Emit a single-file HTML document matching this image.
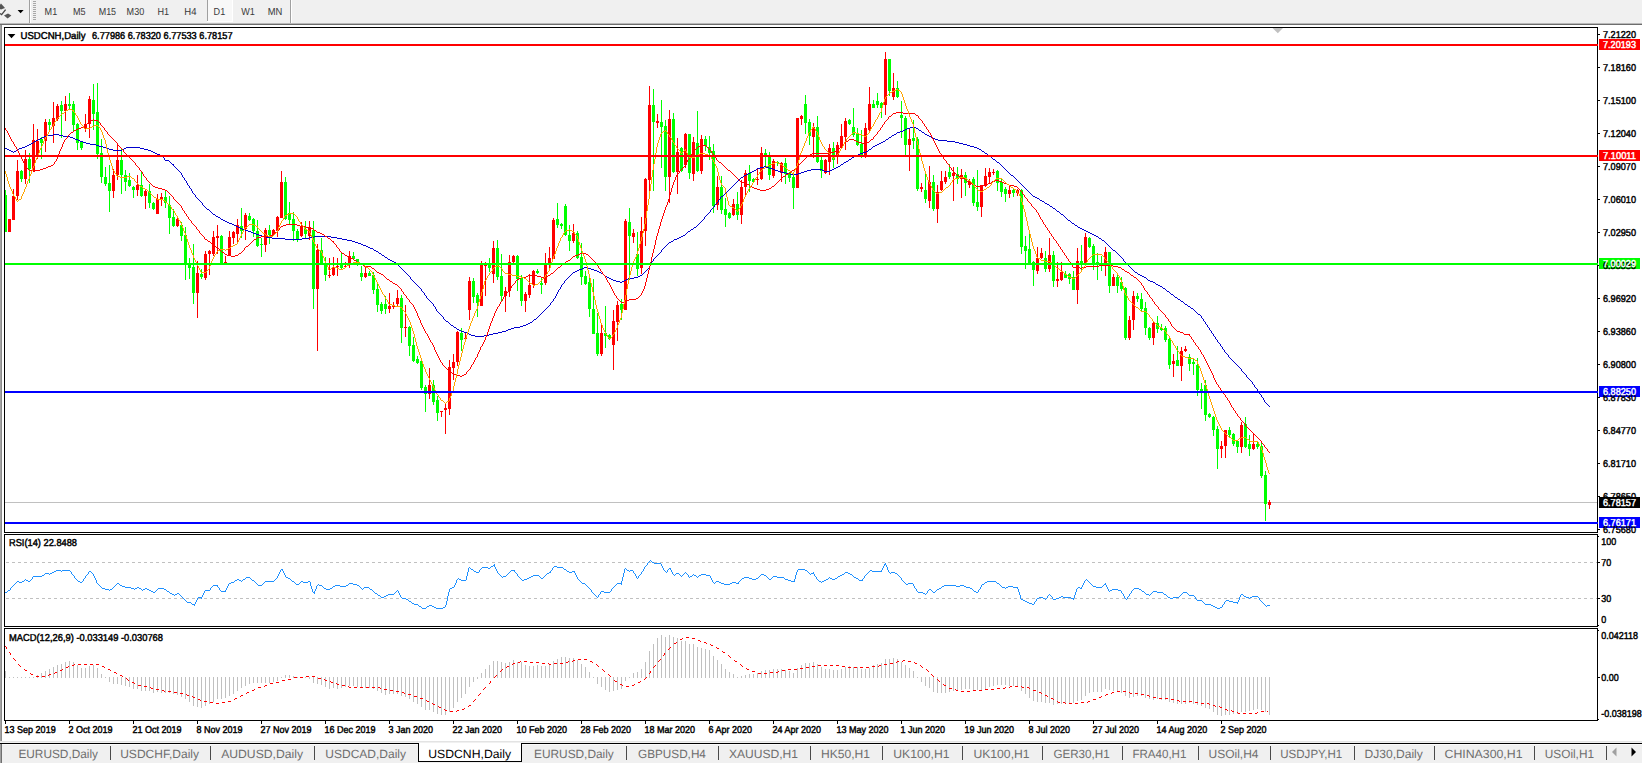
<!DOCTYPE html>
<html><head><meta charset="utf-8"><title>USDCNH,Daily</title>
<style>
html,body{margin:0;padding:0;background:#f0f0f0;overflow:hidden}
body{width:1642px;height:763px;position:relative}
svg{position:absolute;left:0;top:0;display:block}
text{font-family:"Liberation Sans", sans-serif;white-space:pre}
</style></head><body>
<svg width="1642" height="763" viewBox="0 0 1642 763" shape-rendering="crispEdges">
<rect x="0" y="0" width="1642" height="763" fill="#f0f0f0"/>
<rect x="0" y="23" width="1642" height="1" fill="#b9b9b9"/>
<rect x="0" y="24" width="1642" height="1" fill="#6d6d6d"/>
<rect x="0" y="25" width="1642" height="717" fill="#ffffff"/>
<rect x="0" y="25" width="1" height="716" fill="#a4a4a4"/>
<rect x="1" y="25" width="1" height="716" fill="#8c8c8c"/>
<rect x="0" y="741" width="1642" height="1" fill="#e3e3e3"/>
<rect x="0" y="743" width="1642" height="1" fill="#000000"/>
<g shape-rendering="geometricPrecision"><polygon points="-3,7 1,3.6 5,8 1,9.6" fill="#555"/><polygon points="4,15.4 8,13.6 11.4,15.4 7.6,18.6" fill="#555"/><polyline points="0,13.6 1.6,14.6 5.6,9.6" fill="none" stroke="#444" stroke-width="1.3"/><polygon points="17.6,10 23.6,10 20.6,13.2" fill="#000"/></g>
<rect x="29" y="0" width="1" height="23" fill="#a0a0a0"/>
<rect x="30" y="0" width="1" height="23" fill="#ffffff"/>
<rect x="33" y="1" width="3" height="1" fill="#a8a8a8"/>
<rect x="33" y="3" width="3" height="1" fill="#a8a8a8"/>
<rect x="33" y="5" width="3" height="1" fill="#a8a8a8"/>
<rect x="33" y="7" width="3" height="1" fill="#a8a8a8"/>
<rect x="33" y="9" width="3" height="1" fill="#a8a8a8"/>
<rect x="33" y="11" width="3" height="1" fill="#a8a8a8"/>
<rect x="33" y="13" width="3" height="1" fill="#a8a8a8"/>
<rect x="33" y="15" width="3" height="1" fill="#a8a8a8"/>
<rect x="33" y="17" width="3" height="1" fill="#a8a8a8"/>
<rect x="33" y="19" width="3" height="1" fill="#a8a8a8"/>
<rect x="207" y="0" width="1" height="21" fill="#a0a0a0"/>
<rect x="208" y="0" width="24" height="21" fill="#f8f8f8"/>
<rect x="207" y="21" width="26" height="1" fill="#ffffff"/>
<rect x="232" y="0" width="1" height="22" fill="#ffffff"/>
<rect x="290" y="0" width="1" height="23" fill="#a0a0a0"/>
<rect x="291" y="0" width="1" height="23" fill="#ffffff"/>
<rect x="5" y="502" width="1592" height="1" fill="#c0c0c0"/>
<rect x="5" y="190" width="1" height="42" fill="#00ff00"/>
<rect x="5" y="195" width="2" height="37" fill="#00ff00"/>
<rect x="9" y="219" width="1" height="13" fill="#ff0000"/>
<rect x="8" y="219" width="3" height="13" fill="#ff0000"/>
<rect x="13" y="189" width="1" height="31" fill="#ff0000"/>
<rect x="12" y="196" width="3" height="24" fill="#ff0000"/>
<rect x="17" y="160" width="1" height="40" fill="#ff0000"/>
<rect x="16" y="171" width="3" height="25" fill="#ff0000"/>
<rect x="21" y="170" width="1" height="12" fill="#00ff00"/>
<rect x="20" y="171" width="3" height="8" fill="#00ff00"/>
<rect x="25" y="150" width="1" height="34" fill="#ff0000"/>
<rect x="24" y="159" width="3" height="20" fill="#ff0000"/>
<rect x="29" y="153" width="1" height="30" fill="#00ff00"/>
<rect x="28" y="159" width="3" height="10" fill="#00ff00"/>
<rect x="33" y="124" width="1" height="47" fill="#ff0000"/>
<rect x="32" y="140" width="3" height="31" fill="#ff0000"/>
<rect x="37" y="129" width="1" height="30" fill="#ff0000"/>
<rect x="36" y="141" width="3" height="16" fill="#ff0000"/>
<rect x="41" y="137" width="1" height="22" fill="#00ff00"/>
<rect x="40" y="139" width="3" height="4" fill="#00ff00"/>
<rect x="45" y="119" width="1" height="33" fill="#ff0000"/>
<rect x="44" y="122" width="3" height="19" fill="#ff0000"/>
<rect x="49" y="119" width="1" height="13" fill="#00ff00"/>
<rect x="48" y="122" width="3" height="3" fill="#00ff00"/>
<rect x="53" y="102" width="1" height="41" fill="#ff0000"/>
<rect x="52" y="118" width="3" height="8" fill="#ff0000"/>
<rect x="57" y="104" width="1" height="17" fill="#ff0000"/>
<rect x="56" y="106" width="3" height="13" fill="#ff0000"/>
<rect x="61" y="101" width="1" height="37" fill="#00ff00"/>
<rect x="60" y="105" width="3" height="6" fill="#00ff00"/>
<rect x="65" y="96" width="1" height="25" fill="#ff0000"/>
<rect x="64" y="104" width="3" height="7" fill="#ff0000"/>
<rect x="69" y="93" width="1" height="16" fill="#00ff00"/>
<rect x="68" y="104" width="3" height="2" fill="#00ff00"/>
<rect x="73" y="101" width="1" height="30" fill="#00ff00"/>
<rect x="72" y="104" width="3" height="21" fill="#00ff00"/>
<rect x="77" y="123" width="1" height="27" fill="#00ff00"/>
<rect x="76" y="124" width="3" height="19" fill="#00ff00"/>
<rect x="81" y="141" width="1" height="9" fill="#00ff00"/>
<rect x="80" y="142" width="3" height="6" fill="#00ff00"/>
<rect x="85" y="114" width="1" height="18" fill="#ff0000"/>
<rect x="84" y="124" width="3" height="4" fill="#ff0000"/>
<rect x="89" y="96" width="1" height="42" fill="#ff0000"/>
<rect x="88" y="99" width="3" height="25" fill="#ff0000"/>
<rect x="93" y="84" width="1" height="46" fill="#00ff00"/>
<rect x="92" y="100" width="3" height="14" fill="#00ff00"/>
<rect x="97" y="83" width="1" height="76" fill="#00ff00"/>
<rect x="96" y="112" width="3" height="42" fill="#00ff00"/>
<rect x="101" y="139" width="1" height="44" fill="#00ff00"/>
<rect x="100" y="153" width="3" height="24" fill="#00ff00"/>
<rect x="105" y="167" width="1" height="19" fill="#00ff00"/>
<rect x="104" y="177" width="3" height="7" fill="#00ff00"/>
<rect x="109" y="165" width="1" height="47" fill="#00ff00"/>
<rect x="108" y="183" width="3" height="8" fill="#00ff00"/>
<rect x="113" y="169" width="1" height="29" fill="#ff0000"/>
<rect x="112" y="175" width="3" height="16" fill="#ff0000"/>
<rect x="117" y="144" width="1" height="36" fill="#ff0000"/>
<rect x="116" y="160" width="3" height="15" fill="#ff0000"/>
<rect x="121" y="149" width="1" height="45" fill="#00ff00"/>
<rect x="120" y="160" width="3" height="15" fill="#00ff00"/>
<rect x="125" y="170" width="1" height="21" fill="#00ff00"/>
<rect x="124" y="175" width="3" height="7" fill="#00ff00"/>
<rect x="129" y="173" width="1" height="14" fill="#00ff00"/>
<rect x="128" y="180" width="3" height="6" fill="#00ff00"/>
<rect x="133" y="186" width="1" height="12" fill="#00ff00"/>
<rect x="132" y="187" width="3" height="3" fill="#00ff00"/>
<rect x="137" y="175" width="1" height="21" fill="#ff0000"/>
<rect x="136" y="185" width="3" height="5" fill="#ff0000"/>
<rect x="141" y="172" width="1" height="25" fill="#00ff00"/>
<rect x="140" y="185" width="3" height="11" fill="#00ff00"/>
<rect x="145" y="189" width="1" height="20" fill="#ff0000"/>
<rect x="144" y="191" width="3" height="5" fill="#ff0000"/>
<rect x="149" y="184" width="1" height="24" fill="#00ff00"/>
<rect x="148" y="191" width="3" height="12" fill="#00ff00"/>
<rect x="153" y="202" width="1" height="8" fill="#00ff00"/>
<rect x="152" y="203" width="3" height="6" fill="#00ff00"/>
<rect x="157" y="194" width="1" height="20" fill="#ff0000"/>
<rect x="156" y="199" width="3" height="15" fill="#ff0000"/>
<rect x="161" y="193" width="1" height="13" fill="#ff0000"/>
<rect x="160" y="197" width="3" height="2" fill="#ff0000"/>
<rect x="165" y="190" width="1" height="18" fill="#00ff00"/>
<rect x="164" y="197" width="3" height="6" fill="#00ff00"/>
<rect x="169" y="196" width="1" height="38" fill="#00ff00"/>
<rect x="168" y="205" width="3" height="13" fill="#00ff00"/>
<rect x="173" y="209" width="1" height="18" fill="#00ff00"/>
<rect x="172" y="217" width="3" height="9" fill="#00ff00"/>
<rect x="177" y="217" width="1" height="10" fill="#ff0000"/>
<rect x="176" y="219" width="3" height="7" fill="#ff0000"/>
<rect x="181" y="222" width="1" height="19" fill="#00ff00"/>
<rect x="180" y="225" width="3" height="11" fill="#00ff00"/>
<rect x="185" y="227" width="1" height="53" fill="#00ff00"/>
<rect x="184" y="235" width="3" height="29" fill="#00ff00"/>
<rect x="189" y="258" width="1" height="21" fill="#00ff00"/>
<rect x="188" y="264" width="3" height="4" fill="#00ff00"/>
<rect x="193" y="244" width="1" height="60" fill="#00ff00"/>
<rect x="192" y="267" width="3" height="26" fill="#00ff00"/>
<rect x="197" y="261" width="1" height="57" fill="#ff0000"/>
<rect x="196" y="273" width="3" height="20" fill="#ff0000"/>
<rect x="201" y="269" width="1" height="10" fill="#00ff00"/>
<rect x="200" y="274" width="3" height="3" fill="#00ff00"/>
<rect x="205" y="251" width="1" height="29" fill="#ff0000"/>
<rect x="204" y="254" width="3" height="24" fill="#ff0000"/>
<rect x="209" y="250" width="1" height="25" fill="#ff0000"/>
<rect x="208" y="251" width="3" height="3" fill="#ff0000"/>
<rect x="213" y="231" width="1" height="25" fill="#ff0000"/>
<rect x="212" y="237" width="3" height="17" fill="#ff0000"/>
<rect x="217" y="225" width="1" height="29" fill="#ff0000"/>
<rect x="216" y="236" width="3" height="2" fill="#ff0000"/>
<rect x="221" y="235" width="1" height="29" fill="#00ff00"/>
<rect x="220" y="236" width="3" height="28" fill="#00ff00"/>
<rect x="225" y="256" width="1" height="8" fill="#ff0000"/>
<rect x="224" y="262" width="3" height="2" fill="#ff0000"/>
<rect x="229" y="231" width="1" height="25" fill="#ff0000"/>
<rect x="228" y="237" width="3" height="18" fill="#ff0000"/>
<rect x="233" y="231" width="1" height="13" fill="#ff0000"/>
<rect x="232" y="232" width="3" height="6" fill="#ff0000"/>
<rect x="237" y="219" width="1" height="25" fill="#ff0000"/>
<rect x="236" y="225" width="3" height="9" fill="#ff0000"/>
<rect x="241" y="208" width="1" height="30" fill="#00ff00"/>
<rect x="240" y="226" width="3" height="5" fill="#00ff00"/>
<rect x="245" y="213" width="1" height="27" fill="#ff0000"/>
<rect x="244" y="215" width="3" height="14" fill="#ff0000"/>
<rect x="249" y="213" width="1" height="8" fill="#00ff00"/>
<rect x="248" y="216" width="3" height="4" fill="#00ff00"/>
<rect x="253" y="218" width="1" height="19" fill="#00ff00"/>
<rect x="252" y="219" width="3" height="12" fill="#00ff00"/>
<rect x="257" y="220" width="1" height="27" fill="#00ff00"/>
<rect x="256" y="231" width="3" height="15" fill="#00ff00"/>
<rect x="261" y="238" width="1" height="19" fill="#00ff00"/>
<rect x="260" y="244" width="3" height="1" fill="#00ff00"/>
<rect x="265" y="228" width="1" height="24" fill="#ff0000"/>
<rect x="264" y="230" width="3" height="15" fill="#ff0000"/>
<rect x="269" y="225" width="1" height="19" fill="#00ff00"/>
<rect x="268" y="230" width="3" height="5" fill="#00ff00"/>
<rect x="273" y="229" width="1" height="7" fill="#ff0000"/>
<rect x="272" y="230" width="3" height="5" fill="#ff0000"/>
<rect x="277" y="216" width="1" height="21" fill="#ff0000"/>
<rect x="276" y="217" width="3" height="14" fill="#ff0000"/>
<rect x="281" y="171" width="1" height="47" fill="#ff0000"/>
<rect x="280" y="182" width="3" height="36" fill="#ff0000"/>
<rect x="285" y="177" width="1" height="43" fill="#00ff00"/>
<rect x="284" y="182" width="3" height="37" fill="#00ff00"/>
<rect x="289" y="202" width="1" height="23" fill="#00ff00"/>
<rect x="288" y="213" width="3" height="7" fill="#00ff00"/>
<rect x="293" y="212" width="1" height="29" fill="#00ff00"/>
<rect x="292" y="219" width="3" height="12" fill="#00ff00"/>
<rect x="297" y="229" width="1" height="13" fill="#00ff00"/>
<rect x="296" y="231" width="3" height="8" fill="#00ff00"/>
<rect x="301" y="222" width="1" height="15" fill="#ff0000"/>
<rect x="300" y="227" width="3" height="9" fill="#ff0000"/>
<rect x="305" y="221" width="1" height="17" fill="#00ff00"/>
<rect x="304" y="229" width="3" height="5" fill="#00ff00"/>
<rect x="309" y="221" width="1" height="19" fill="#ff0000"/>
<rect x="308" y="228" width="3" height="8" fill="#ff0000"/>
<rect x="313" y="221" width="1" height="88" fill="#00ff00"/>
<rect x="312" y="230" width="3" height="59" fill="#00ff00"/>
<rect x="317" y="244" width="1" height="107" fill="#ff0000"/>
<rect x="316" y="250" width="3" height="39" fill="#ff0000"/>
<rect x="321" y="238" width="1" height="26" fill="#00ff00"/>
<rect x="320" y="250" width="3" height="14" fill="#00ff00"/>
<rect x="325" y="257" width="1" height="24" fill="#00ff00"/>
<rect x="324" y="264" width="3" height="11" fill="#00ff00"/>
<rect x="329" y="258" width="1" height="20" fill="#ff0000"/>
<rect x="328" y="275" width="3" height="1" fill="#ff0000"/>
<rect x="333" y="257" width="1" height="19" fill="#ff0000"/>
<rect x="332" y="267" width="3" height="8" fill="#ff0000"/>
<rect x="337" y="258" width="1" height="18" fill="#ff0000"/>
<rect x="336" y="266" width="3" height="1" fill="#ff0000"/>
<rect x="341" y="253" width="1" height="16" fill="#00ff00"/>
<rect x="340" y="265" width="3" height="3" fill="#00ff00"/>
<rect x="345" y="262" width="1" height="6" fill="#ff0000"/>
<rect x="344" y="266" width="3" height="1" fill="#ff0000"/>
<rect x="349" y="251" width="1" height="17" fill="#ff0000"/>
<rect x="348" y="256" width="3" height="8" fill="#ff0000"/>
<rect x="353" y="252" width="1" height="8" fill="#00ff00"/>
<rect x="352" y="256" width="3" height="3" fill="#00ff00"/>
<rect x="357" y="259" width="1" height="7" fill="#00ff00"/>
<rect x="356" y="259" width="3" height="4" fill="#00ff00"/>
<rect x="361" y="266" width="1" height="15" fill="#00ff00"/>
<rect x="360" y="273" width="3" height="4" fill="#00ff00"/>
<rect x="365" y="266" width="1" height="12" fill="#ff0000"/>
<rect x="364" y="273" width="3" height="4" fill="#ff0000"/>
<rect x="369" y="271" width="1" height="5" fill="#00ff00"/>
<rect x="368" y="273" width="3" height="3" fill="#00ff00"/>
<rect x="373" y="272" width="1" height="22" fill="#00ff00"/>
<rect x="372" y="275" width="3" height="15" fill="#00ff00"/>
<rect x="377" y="282" width="1" height="30" fill="#00ff00"/>
<rect x="376" y="289" width="3" height="16" fill="#00ff00"/>
<rect x="381" y="302" width="1" height="12" fill="#00ff00"/>
<rect x="380" y="304" width="3" height="7" fill="#00ff00"/>
<rect x="385" y="296" width="1" height="18" fill="#00ff00"/>
<rect x="384" y="304" width="3" height="5" fill="#00ff00"/>
<rect x="389" y="293" width="1" height="20" fill="#ff0000"/>
<rect x="388" y="306" width="3" height="3" fill="#ff0000"/>
<rect x="393" y="302" width="1" height="7" fill="#ff0000"/>
<rect x="392" y="305" width="3" height="2" fill="#ff0000"/>
<rect x="397" y="290" width="1" height="16" fill="#ff0000"/>
<rect x="396" y="298" width="3" height="6" fill="#ff0000"/>
<rect x="401" y="295" width="1" height="48" fill="#00ff00"/>
<rect x="400" y="298" width="3" height="30" fill="#00ff00"/>
<rect x="405" y="305" width="1" height="32" fill="#ff0000"/>
<rect x="404" y="327" width="3" height="1" fill="#ff0000"/>
<rect x="409" y="326" width="1" height="30" fill="#00ff00"/>
<rect x="408" y="327" width="3" height="19" fill="#00ff00"/>
<rect x="413" y="337" width="1" height="25" fill="#00ff00"/>
<rect x="412" y="345" width="3" height="16" fill="#00ff00"/>
<rect x="417" y="356" width="1" height="8" fill="#00ff00"/>
<rect x="416" y="359" width="3" height="4" fill="#00ff00"/>
<rect x="421" y="358" width="1" height="32" fill="#00ff00"/>
<rect x="420" y="361" width="3" height="27" fill="#00ff00"/>
<rect x="425" y="385" width="1" height="27" fill="#00ff00"/>
<rect x="424" y="387" width="3" height="7" fill="#00ff00"/>
<rect x="429" y="368" width="1" height="31" fill="#ff0000"/>
<rect x="428" y="385" width="3" height="9" fill="#ff0000"/>
<rect x="433" y="380" width="1" height="25" fill="#00ff00"/>
<rect x="432" y="385" width="3" height="17" fill="#00ff00"/>
<rect x="437" y="396" width="1" height="25" fill="#00ff00"/>
<rect x="436" y="400" width="3" height="13" fill="#00ff00"/>
<rect x="441" y="411" width="1" height="6" fill="#ff0000"/>
<rect x="440" y="411" width="3" height="1" fill="#ff0000"/>
<rect x="445" y="403" width="1" height="31" fill="#ff0000"/>
<rect x="444" y="408" width="3" height="2" fill="#ff0000"/>
<rect x="449" y="360" width="1" height="55" fill="#ff0000"/>
<rect x="448" y="367" width="3" height="42" fill="#ff0000"/>
<rect x="453" y="354" width="1" height="26" fill="#ff0000"/>
<rect x="452" y="362" width="3" height="6" fill="#ff0000"/>
<rect x="457" y="331" width="1" height="35" fill="#ff0000"/>
<rect x="456" y="332" width="3" height="30" fill="#ff0000"/>
<rect x="461" y="328" width="1" height="23" fill="#00ff00"/>
<rect x="460" y="333" width="3" height="7" fill="#00ff00"/>
<rect x="465" y="333" width="1" height="9" fill="#ff0000"/>
<rect x="464" y="338" width="3" height="1" fill="#ff0000"/>
<rect x="469" y="277" width="1" height="43" fill="#ff0000"/>
<rect x="468" y="281" width="3" height="29" fill="#ff0000"/>
<rect x="473" y="278" width="1" height="25" fill="#00ff00"/>
<rect x="472" y="281" width="3" height="16" fill="#00ff00"/>
<rect x="477" y="293" width="1" height="24" fill="#00ff00"/>
<rect x="476" y="295" width="3" height="8" fill="#00ff00"/>
<rect x="481" y="261" width="1" height="45" fill="#ff0000"/>
<rect x="480" y="263" width="3" height="43" fill="#ff0000"/>
<rect x="485" y="262" width="1" height="34" fill="#ff0000"/>
<rect x="484" y="264" width="3" height="2" fill="#ff0000"/>
<rect x="489" y="258" width="1" height="14" fill="#00ff00"/>
<rect x="488" y="263" width="3" height="5" fill="#00ff00"/>
<rect x="493" y="241" width="1" height="42" fill="#ff0000"/>
<rect x="492" y="248" width="3" height="26" fill="#ff0000"/>
<rect x="497" y="240" width="1" height="40" fill="#00ff00"/>
<rect x="496" y="248" width="3" height="29" fill="#00ff00"/>
<rect x="501" y="254" width="1" height="48" fill="#00ff00"/>
<rect x="500" y="276" width="3" height="20" fill="#00ff00"/>
<rect x="505" y="287" width="1" height="25" fill="#ff0000"/>
<rect x="504" y="291" width="3" height="5" fill="#ff0000"/>
<rect x="509" y="255" width="1" height="42" fill="#ff0000"/>
<rect x="508" y="262" width="3" height="29" fill="#ff0000"/>
<rect x="513" y="255" width="1" height="8" fill="#ff0000"/>
<rect x="512" y="256" width="3" height="6" fill="#ff0000"/>
<rect x="517" y="255" width="1" height="36" fill="#00ff00"/>
<rect x="516" y="256" width="3" height="23" fill="#00ff00"/>
<rect x="521" y="275" width="1" height="31" fill="#00ff00"/>
<rect x="520" y="278" width="3" height="23" fill="#00ff00"/>
<rect x="525" y="292" width="1" height="20" fill="#ff0000"/>
<rect x="524" y="294" width="3" height="7" fill="#ff0000"/>
<rect x="529" y="274" width="1" height="24" fill="#ff0000"/>
<rect x="528" y="285" width="3" height="10" fill="#ff0000"/>
<rect x="533" y="270" width="1" height="18" fill="#ff0000"/>
<rect x="532" y="271" width="3" height="14" fill="#ff0000"/>
<rect x="537" y="269" width="1" height="5" fill="#00ff00"/>
<rect x="536" y="271" width="3" height="2" fill="#00ff00"/>
<rect x="541" y="278" width="1" height="16" fill="#00ff00"/>
<rect x="540" y="283" width="3" height="2" fill="#00ff00"/>
<rect x="545" y="253" width="1" height="32" fill="#ff0000"/>
<rect x="544" y="263" width="3" height="20" fill="#ff0000"/>
<rect x="549" y="247" width="1" height="24" fill="#ff0000"/>
<rect x="548" y="258" width="3" height="6" fill="#ff0000"/>
<rect x="553" y="218" width="1" height="41" fill="#ff0000"/>
<rect x="552" y="220" width="3" height="39" fill="#ff0000"/>
<rect x="557" y="203" width="1" height="25" fill="#00ff00"/>
<rect x="556" y="219" width="3" height="6" fill="#00ff00"/>
<rect x="561" y="223" width="1" height="6" fill="#00ff00"/>
<rect x="560" y="224" width="3" height="2" fill="#00ff00"/>
<rect x="565" y="204" width="1" height="32" fill="#00ff00"/>
<rect x="564" y="206" width="3" height="29" fill="#00ff00"/>
<rect x="569" y="225" width="1" height="26" fill="#00ff00"/>
<rect x="568" y="235" width="3" height="6" fill="#00ff00"/>
<rect x="573" y="224" width="1" height="19" fill="#ff0000"/>
<rect x="572" y="233" width="3" height="8" fill="#ff0000"/>
<rect x="577" y="231" width="1" height="28" fill="#00ff00"/>
<rect x="576" y="233" width="3" height="25" fill="#00ff00"/>
<rect x="581" y="243" width="1" height="42" fill="#00ff00"/>
<rect x="580" y="257" width="3" height="20" fill="#00ff00"/>
<rect x="585" y="271" width="1" height="14" fill="#00ff00"/>
<rect x="584" y="276" width="3" height="8" fill="#00ff00"/>
<rect x="589" y="276" width="1" height="41" fill="#00ff00"/>
<rect x="588" y="282" width="3" height="27" fill="#00ff00"/>
<rect x="593" y="279" width="1" height="55" fill="#00ff00"/>
<rect x="592" y="309" width="3" height="25" fill="#00ff00"/>
<rect x="597" y="313" width="1" height="43" fill="#00ff00"/>
<rect x="596" y="333" width="3" height="21" fill="#00ff00"/>
<rect x="601" y="323" width="1" height="33" fill="#ff0000"/>
<rect x="600" y="333" width="3" height="21" fill="#ff0000"/>
<rect x="605" y="306" width="1" height="42" fill="#00ff00"/>
<rect x="604" y="333" width="3" height="3" fill="#00ff00"/>
<rect x="609" y="334" width="1" height="6" fill="#00ff00"/>
<rect x="608" y="335" width="3" height="4" fill="#00ff00"/>
<rect x="613" y="310" width="1" height="60" fill="#ff0000"/>
<rect x="612" y="321" width="3" height="24" fill="#ff0000"/>
<rect x="617" y="301" width="1" height="40" fill="#ff0000"/>
<rect x="616" y="305" width="3" height="17" fill="#ff0000"/>
<rect x="621" y="299" width="1" height="21" fill="#00ff00"/>
<rect x="620" y="304" width="3" height="6" fill="#00ff00"/>
<rect x="625" y="219" width="1" height="91" fill="#ff0000"/>
<rect x="624" y="221" width="3" height="89" fill="#ff0000"/>
<rect x="629" y="208" width="1" height="72" fill="#00ff00"/>
<rect x="628" y="222" width="3" height="14" fill="#00ff00"/>
<rect x="633" y="229" width="1" height="14" fill="#ff0000"/>
<rect x="632" y="233" width="3" height="4" fill="#ff0000"/>
<rect x="637" y="232" width="1" height="44" fill="#00ff00"/>
<rect x="636" y="254" width="3" height="15" fill="#00ff00"/>
<rect x="641" y="217" width="1" height="57" fill="#ff0000"/>
<rect x="640" y="231" width="3" height="37" fill="#ff0000"/>
<rect x="645" y="178" width="1" height="68" fill="#ff0000"/>
<rect x="644" y="179" width="3" height="52" fill="#ff0000"/>
<rect x="649" y="86" width="1" height="105" fill="#ff0000"/>
<rect x="648" y="105" width="3" height="75" fill="#ff0000"/>
<rect x="653" y="89" width="1" height="102" fill="#00ff00"/>
<rect x="652" y="105" width="3" height="17" fill="#00ff00"/>
<rect x="657" y="114" width="1" height="14" fill="#ff0000"/>
<rect x="656" y="121" width="3" height="2" fill="#ff0000"/>
<rect x="661" y="100" width="1" height="68" fill="#00ff00"/>
<rect x="660" y="122" width="3" height="5" fill="#00ff00"/>
<rect x="665" y="120" width="1" height="71" fill="#00ff00"/>
<rect x="664" y="126" width="3" height="51" fill="#00ff00"/>
<rect x="669" y="110" width="1" height="93" fill="#ff0000"/>
<rect x="668" y="119" width="3" height="58" fill="#ff0000"/>
<rect x="673" y="113" width="1" height="60" fill="#00ff00"/>
<rect x="672" y="119" width="3" height="53" fill="#00ff00"/>
<rect x="677" y="138" width="1" height="56" fill="#ff0000"/>
<rect x="676" y="152" width="3" height="20" fill="#ff0000"/>
<rect x="681" y="147" width="1" height="25" fill="#00ff00"/>
<rect x="680" y="148" width="3" height="23" fill="#00ff00"/>
<rect x="685" y="133" width="1" height="35" fill="#ff0000"/>
<rect x="684" y="134" width="3" height="31" fill="#ff0000"/>
<rect x="689" y="134" width="1" height="45" fill="#00ff00"/>
<rect x="688" y="134" width="3" height="39" fill="#00ff00"/>
<rect x="693" y="137" width="1" height="44" fill="#ff0000"/>
<rect x="692" y="142" width="3" height="32" fill="#ff0000"/>
<rect x="697" y="111" width="1" height="61" fill="#00ff00"/>
<rect x="696" y="143" width="3" height="28" fill="#00ff00"/>
<rect x="701" y="135" width="1" height="39" fill="#ff0000"/>
<rect x="700" y="139" width="3" height="32" fill="#ff0000"/>
<rect x="705" y="136" width="1" height="15" fill="#00ff00"/>
<rect x="704" y="139" width="3" height="7" fill="#00ff00"/>
<rect x="709" y="136" width="1" height="24" fill="#00ff00"/>
<rect x="708" y="147" width="3" height="6" fill="#00ff00"/>
<rect x="713" y="144" width="1" height="69" fill="#00ff00"/>
<rect x="712" y="151" width="3" height="55" fill="#00ff00"/>
<rect x="717" y="176" width="1" height="34" fill="#ff0000"/>
<rect x="716" y="187" width="3" height="18" fill="#ff0000"/>
<rect x="721" y="176" width="1" height="38" fill="#00ff00"/>
<rect x="720" y="187" width="3" height="23" fill="#00ff00"/>
<rect x="725" y="198" width="1" height="29" fill="#00ff00"/>
<rect x="724" y="209" width="3" height="6" fill="#00ff00"/>
<rect x="729" y="212" width="1" height="7" fill="#00ff00"/>
<rect x="728" y="213" width="3" height="5" fill="#00ff00"/>
<rect x="733" y="199" width="1" height="17" fill="#ff0000"/>
<rect x="732" y="204" width="3" height="11" fill="#ff0000"/>
<rect x="737" y="192" width="1" height="28" fill="#00ff00"/>
<rect x="736" y="204" width="3" height="11" fill="#00ff00"/>
<rect x="741" y="180" width="1" height="44" fill="#ff0000"/>
<rect x="740" y="187" width="3" height="28" fill="#ff0000"/>
<rect x="745" y="170" width="1" height="25" fill="#ff0000"/>
<rect x="744" y="173" width="3" height="14" fill="#ff0000"/>
<rect x="749" y="165" width="1" height="27" fill="#00ff00"/>
<rect x="748" y="173" width="3" height="8" fill="#00ff00"/>
<rect x="753" y="178" width="1" height="5" fill="#00ff00"/>
<rect x="752" y="179" width="3" height="3" fill="#00ff00"/>
<rect x="757" y="169" width="1" height="16" fill="#ff0000"/>
<rect x="756" y="179" width="3" height="1" fill="#ff0000"/>
<rect x="761" y="147" width="1" height="33" fill="#ff0000"/>
<rect x="760" y="153" width="3" height="26" fill="#ff0000"/>
<rect x="765" y="149" width="1" height="19" fill="#00ff00"/>
<rect x="764" y="153" width="3" height="4" fill="#00ff00"/>
<rect x="769" y="152" width="1" height="28" fill="#00ff00"/>
<rect x="768" y="156" width="3" height="19" fill="#00ff00"/>
<rect x="773" y="159" width="1" height="19" fill="#ff0000"/>
<rect x="772" y="161" width="3" height="15" fill="#ff0000"/>
<rect x="777" y="161" width="1" height="5" fill="#00ff00"/>
<rect x="776" y="162" width="3" height="1" fill="#00ff00"/>
<rect x="781" y="162" width="1" height="20" fill="#ff0000"/>
<rect x="780" y="163" width="3" height="10" fill="#ff0000"/>
<rect x="785" y="158" width="1" height="26" fill="#00ff00"/>
<rect x="784" y="163" width="3" height="11" fill="#00ff00"/>
<rect x="789" y="172" width="1" height="10" fill="#00ff00"/>
<rect x="788" y="173" width="3" height="5" fill="#00ff00"/>
<rect x="793" y="175" width="1" height="34" fill="#00ff00"/>
<rect x="792" y="177" width="3" height="11" fill="#00ff00"/>
<rect x="797" y="118" width="1" height="70" fill="#ff0000"/>
<rect x="796" y="118" width="3" height="70" fill="#ff0000"/>
<rect x="801" y="115" width="1" height="10" fill="#ff0000"/>
<rect x="800" y="116" width="3" height="3" fill="#ff0000"/>
<rect x="805" y="95" width="1" height="39" fill="#00ff00"/>
<rect x="804" y="104" width="3" height="19" fill="#00ff00"/>
<rect x="809" y="119" width="1" height="26" fill="#00ff00"/>
<rect x="808" y="122" width="3" height="14" fill="#00ff00"/>
<rect x="813" y="123" width="1" height="35" fill="#ff0000"/>
<rect x="812" y="127" width="3" height="10" fill="#ff0000"/>
<rect x="817" y="116" width="1" height="47" fill="#00ff00"/>
<rect x="816" y="127" width="3" height="35" fill="#00ff00"/>
<rect x="821" y="157" width="1" height="21" fill="#00ff00"/>
<rect x="820" y="160" width="3" height="11" fill="#00ff00"/>
<rect x="825" y="159" width="1" height="15" fill="#ff0000"/>
<rect x="824" y="160" width="3" height="13" fill="#ff0000"/>
<rect x="829" y="144" width="1" height="31" fill="#ff0000"/>
<rect x="828" y="148" width="3" height="14" fill="#ff0000"/>
<rect x="833" y="142" width="1" height="26" fill="#00ff00"/>
<rect x="832" y="148" width="3" height="12" fill="#00ff00"/>
<rect x="837" y="142" width="1" height="22" fill="#ff0000"/>
<rect x="836" y="145" width="3" height="12" fill="#ff0000"/>
<rect x="841" y="124" width="1" height="25" fill="#ff0000"/>
<rect x="840" y="136" width="3" height="11" fill="#ff0000"/>
<rect x="845" y="118" width="1" height="32" fill="#ff0000"/>
<rect x="844" y="121" width="3" height="16" fill="#ff0000"/>
<rect x="849" y="119" width="1" height="6" fill="#00ff00"/>
<rect x="848" y="120" width="3" height="4" fill="#00ff00"/>
<rect x="853" y="108" width="1" height="29" fill="#00ff00"/>
<rect x="852" y="127" width="3" height="8" fill="#00ff00"/>
<rect x="857" y="128" width="1" height="18" fill="#00ff00"/>
<rect x="856" y="133" width="3" height="12" fill="#00ff00"/>
<rect x="861" y="130" width="1" height="28" fill="#00ff00"/>
<rect x="860" y="144" width="3" height="11" fill="#00ff00"/>
<rect x="865" y="123" width="1" height="35" fill="#ff0000"/>
<rect x="864" y="128" width="3" height="28" fill="#ff0000"/>
<rect x="869" y="87" width="1" height="44" fill="#ff0000"/>
<rect x="868" y="104" width="3" height="26" fill="#ff0000"/>
<rect x="873" y="100" width="1" height="8" fill="#00ff00"/>
<rect x="872" y="104" width="3" height="4" fill="#00ff00"/>
<rect x="877" y="93" width="1" height="15" fill="#00ff00"/>
<rect x="876" y="101" width="3" height="4" fill="#00ff00"/>
<rect x="881" y="102" width="1" height="16" fill="#00ff00"/>
<rect x="880" y="103" width="3" height="5" fill="#00ff00"/>
<rect x="885" y="52" width="1" height="63" fill="#ff0000"/>
<rect x="884" y="59" width="3" height="46" fill="#ff0000"/>
<rect x="889" y="59" width="1" height="37" fill="#00ff00"/>
<rect x="888" y="59" width="3" height="32" fill="#00ff00"/>
<rect x="893" y="73" width="1" height="27" fill="#ff0000"/>
<rect x="892" y="88" width="3" height="9" fill="#ff0000"/>
<rect x="897" y="81" width="1" height="17" fill="#00ff00"/>
<rect x="896" y="88" width="3" height="9" fill="#00ff00"/>
<rect x="901" y="101" width="1" height="37" fill="#00ff00"/>
<rect x="900" y="115" width="3" height="3" fill="#00ff00"/>
<rect x="905" y="116" width="1" height="39" fill="#00ff00"/>
<rect x="904" y="118" width="3" height="27" fill="#00ff00"/>
<rect x="909" y="128" width="1" height="43" fill="#ff0000"/>
<rect x="908" y="139" width="3" height="6" fill="#ff0000"/>
<rect x="913" y="120" width="1" height="29" fill="#00ff00"/>
<rect x="912" y="138" width="3" height="3" fill="#00ff00"/>
<rect x="917" y="137" width="1" height="54" fill="#00ff00"/>
<rect x="916" y="139" width="3" height="50" fill="#00ff00"/>
<rect x="921" y="183" width="1" height="9" fill="#ff0000"/>
<rect x="920" y="187" width="3" height="2" fill="#ff0000"/>
<rect x="925" y="174" width="1" height="29" fill="#00ff00"/>
<rect x="924" y="190" width="3" height="9" fill="#00ff00"/>
<rect x="929" y="166" width="1" height="42" fill="#ff0000"/>
<rect x="928" y="182" width="3" height="19" fill="#ff0000"/>
<rect x="933" y="175" width="1" height="36" fill="#00ff00"/>
<rect x="932" y="182" width="3" height="27" fill="#00ff00"/>
<rect x="937" y="185" width="1" height="38" fill="#ff0000"/>
<rect x="936" y="192" width="3" height="17" fill="#ff0000"/>
<rect x="941" y="171" width="1" height="20" fill="#ff0000"/>
<rect x="940" y="181" width="3" height="9" fill="#ff0000"/>
<rect x="945" y="171" width="1" height="13" fill="#ff0000"/>
<rect x="944" y="177" width="3" height="5" fill="#ff0000"/>
<rect x="949" y="164" width="1" height="15" fill="#00ff00"/>
<rect x="948" y="172" width="3" height="5" fill="#00ff00"/>
<rect x="953" y="167" width="1" height="34" fill="#ff0000"/>
<rect x="952" y="173" width="3" height="3" fill="#ff0000"/>
<rect x="957" y="167" width="1" height="17" fill="#00ff00"/>
<rect x="956" y="174" width="3" height="5" fill="#00ff00"/>
<rect x="961" y="169" width="1" height="29" fill="#ff0000"/>
<rect x="960" y="175" width="3" height="4" fill="#ff0000"/>
<rect x="965" y="172" width="1" height="24" fill="#00ff00"/>
<rect x="964" y="175" width="3" height="8" fill="#00ff00"/>
<rect x="969" y="179" width="1" height="9" fill="#ff0000"/>
<rect x="968" y="182" width="3" height="3" fill="#ff0000"/>
<rect x="973" y="177" width="1" height="29" fill="#00ff00"/>
<rect x="972" y="179" width="3" height="24" fill="#00ff00"/>
<rect x="977" y="170" width="1" height="41" fill="#00ff00"/>
<rect x="976" y="202" width="3" height="5" fill="#00ff00"/>
<rect x="981" y="185" width="1" height="32" fill="#ff0000"/>
<rect x="980" y="185" width="3" height="22" fill="#ff0000"/>
<rect x="985" y="168" width="1" height="19" fill="#ff0000"/>
<rect x="984" y="176" width="3" height="10" fill="#ff0000"/>
<rect x="989" y="168" width="1" height="15" fill="#ff0000"/>
<rect x="988" y="172" width="3" height="5" fill="#ff0000"/>
<rect x="993" y="169" width="1" height="6" fill="#ff0000"/>
<rect x="992" y="172" width="3" height="1" fill="#ff0000"/>
<rect x="997" y="170" width="1" height="21" fill="#00ff00"/>
<rect x="996" y="171" width="3" height="12" fill="#00ff00"/>
<rect x="1001" y="178" width="1" height="19" fill="#00ff00"/>
<rect x="1000" y="182" width="3" height="10" fill="#00ff00"/>
<rect x="1005" y="187" width="1" height="15" fill="#00ff00"/>
<rect x="1004" y="189" width="3" height="5" fill="#00ff00"/>
<rect x="1009" y="186" width="1" height="12" fill="#ff0000"/>
<rect x="1008" y="190" width="3" height="4" fill="#ff0000"/>
<rect x="1013" y="188" width="1" height="9" fill="#00ff00"/>
<rect x="1012" y="190" width="3" height="3" fill="#00ff00"/>
<rect x="1017" y="189" width="1" height="7" fill="#ff0000"/>
<rect x="1016" y="190" width="3" height="3" fill="#ff0000"/>
<rect x="1021" y="189" width="1" height="65" fill="#00ff00"/>
<rect x="1020" y="190" width="3" height="57" fill="#00ff00"/>
<rect x="1025" y="236" width="1" height="33" fill="#00ff00"/>
<rect x="1024" y="246" width="3" height="5" fill="#00ff00"/>
<rect x="1029" y="233" width="1" height="31" fill="#00ff00"/>
<rect x="1028" y="249" width="3" height="14" fill="#00ff00"/>
<rect x="1033" y="261" width="1" height="25" fill="#00ff00"/>
<rect x="1032" y="262" width="3" height="8" fill="#00ff00"/>
<rect x="1037" y="247" width="1" height="27" fill="#ff0000"/>
<rect x="1036" y="258" width="3" height="13" fill="#ff0000"/>
<rect x="1041" y="248" width="1" height="11" fill="#ff0000"/>
<rect x="1040" y="253" width="3" height="5" fill="#ff0000"/>
<rect x="1045" y="251" width="1" height="21" fill="#00ff00"/>
<rect x="1044" y="258" width="3" height="11" fill="#00ff00"/>
<rect x="1049" y="238" width="1" height="34" fill="#ff0000"/>
<rect x="1048" y="255" width="3" height="14" fill="#ff0000"/>
<rect x="1053" y="251" width="1" height="36" fill="#00ff00"/>
<rect x="1052" y="255" width="3" height="26" fill="#00ff00"/>
<rect x="1057" y="262" width="1" height="25" fill="#ff0000"/>
<rect x="1056" y="279" width="3" height="2" fill="#ff0000"/>
<rect x="1061" y="262" width="1" height="19" fill="#ff0000"/>
<rect x="1060" y="272" width="3" height="8" fill="#ff0000"/>
<rect x="1065" y="271" width="1" height="7" fill="#00ff00"/>
<rect x="1064" y="274" width="3" height="4" fill="#00ff00"/>
<rect x="1069" y="273" width="1" height="11" fill="#00ff00"/>
<rect x="1068" y="274" width="3" height="5" fill="#00ff00"/>
<rect x="1073" y="271" width="1" height="19" fill="#00ff00"/>
<rect x="1072" y="277" width="3" height="13" fill="#00ff00"/>
<rect x="1077" y="248" width="1" height="56" fill="#ff0000"/>
<rect x="1076" y="261" width="3" height="29" fill="#ff0000"/>
<rect x="1081" y="245" width="1" height="25" fill="#00ff00"/>
<rect x="1080" y="261" width="3" height="3" fill="#00ff00"/>
<rect x="1085" y="233" width="1" height="31" fill="#ff0000"/>
<rect x="1084" y="237" width="3" height="26" fill="#ff0000"/>
<rect x="1089" y="237" width="1" height="11" fill="#00ff00"/>
<rect x="1088" y="238" width="3" height="9" fill="#00ff00"/>
<rect x="1093" y="244" width="1" height="26" fill="#00ff00"/>
<rect x="1092" y="246" width="3" height="19" fill="#00ff00"/>
<rect x="1097" y="253" width="1" height="27" fill="#00ff00"/>
<rect x="1096" y="262" width="3" height="3" fill="#00ff00"/>
<rect x="1101" y="256" width="1" height="15" fill="#00ff00"/>
<rect x="1100" y="263" width="3" height="2" fill="#00ff00"/>
<rect x="1105" y="247" width="1" height="29" fill="#ff0000"/>
<rect x="1104" y="252" width="3" height="11" fill="#ff0000"/>
<rect x="1109" y="252" width="1" height="41" fill="#00ff00"/>
<rect x="1108" y="252" width="3" height="34" fill="#00ff00"/>
<rect x="1113" y="274" width="1" height="12" fill="#ff0000"/>
<rect x="1112" y="277" width="3" height="9" fill="#ff0000"/>
<rect x="1117" y="273" width="1" height="20" fill="#00ff00"/>
<rect x="1116" y="277" width="3" height="9" fill="#00ff00"/>
<rect x="1121" y="277" width="1" height="14" fill="#00ff00"/>
<rect x="1120" y="282" width="3" height="7" fill="#00ff00"/>
<rect x="1125" y="287" width="1" height="53" fill="#00ff00"/>
<rect x="1124" y="288" width="3" height="50" fill="#00ff00"/>
<rect x="1129" y="316" width="1" height="24" fill="#ff0000"/>
<rect x="1128" y="320" width="3" height="18" fill="#ff0000"/>
<rect x="1133" y="291" width="1" height="39" fill="#ff0000"/>
<rect x="1132" y="296" width="3" height="24" fill="#ff0000"/>
<rect x="1137" y="293" width="1" height="9" fill="#00ff00"/>
<rect x="1136" y="296" width="3" height="3" fill="#00ff00"/>
<rect x="1141" y="293" width="1" height="19" fill="#00ff00"/>
<rect x="1140" y="299" width="3" height="10" fill="#00ff00"/>
<rect x="1145" y="302" width="1" height="33" fill="#00ff00"/>
<rect x="1144" y="308" width="3" height="20" fill="#00ff00"/>
<rect x="1149" y="327" width="1" height="13" fill="#00ff00"/>
<rect x="1148" y="328" width="3" height="10" fill="#00ff00"/>
<rect x="1153" y="321" width="1" height="24" fill="#ff0000"/>
<rect x="1152" y="323" width="3" height="15" fill="#ff0000"/>
<rect x="1157" y="316" width="1" height="17" fill="#00ff00"/>
<rect x="1156" y="323" width="3" height="6" fill="#00ff00"/>
<rect x="1161" y="324" width="1" height="7" fill="#00ff00"/>
<rect x="1160" y="328" width="3" height="2" fill="#00ff00"/>
<rect x="1165" y="326" width="1" height="16" fill="#00ff00"/>
<rect x="1164" y="328" width="3" height="12" fill="#00ff00"/>
<rect x="1169" y="337" width="1" height="32" fill="#00ff00"/>
<rect x="1168" y="339" width="3" height="26" fill="#00ff00"/>
<rect x="1173" y="354" width="1" height="23" fill="#ff0000"/>
<rect x="1172" y="361" width="3" height="3" fill="#ff0000"/>
<rect x="1177" y="346" width="1" height="20" fill="#00ff00"/>
<rect x="1176" y="360" width="3" height="6" fill="#00ff00"/>
<rect x="1181" y="347" width="1" height="34" fill="#ff0000"/>
<rect x="1180" y="351" width="3" height="15" fill="#ff0000"/>
<rect x="1185" y="346" width="1" height="6" fill="#ff0000"/>
<rect x="1184" y="349" width="3" height="2" fill="#ff0000"/>
<rect x="1189" y="354" width="1" height="17" fill="#00ff00"/>
<rect x="1188" y="357" width="3" height="7" fill="#00ff00"/>
<rect x="1193" y="358" width="1" height="17" fill="#00ff00"/>
<rect x="1192" y="362" width="3" height="2" fill="#00ff00"/>
<rect x="1197" y="358" width="1" height="38" fill="#00ff00"/>
<rect x="1196" y="365" width="3" height="25" fill="#00ff00"/>
<rect x="1201" y="383" width="1" height="26" fill="#00ff00"/>
<rect x="1200" y="389" width="3" height="3" fill="#00ff00"/>
<rect x="1205" y="380" width="1" height="41" fill="#00ff00"/>
<rect x="1204" y="385" width="3" height="30" fill="#00ff00"/>
<rect x="1209" y="413" width="1" height="5" fill="#00ff00"/>
<rect x="1208" y="414" width="3" height="3" fill="#00ff00"/>
<rect x="1213" y="416" width="1" height="20" fill="#00ff00"/>
<rect x="1212" y="417" width="3" height="13" fill="#00ff00"/>
<rect x="1217" y="426" width="1" height="43" fill="#00ff00"/>
<rect x="1216" y="429" width="3" height="20" fill="#00ff00"/>
<rect x="1221" y="441" width="1" height="17" fill="#ff0000"/>
<rect x="1220" y="446" width="3" height="3" fill="#ff0000"/>
<rect x="1225" y="430" width="1" height="28" fill="#ff0000"/>
<rect x="1224" y="430" width="3" height="16" fill="#ff0000"/>
<rect x="1229" y="427" width="1" height="10" fill="#00ff00"/>
<rect x="1228" y="430" width="3" height="5" fill="#00ff00"/>
<rect x="1233" y="433" width="1" height="13" fill="#00ff00"/>
<rect x="1232" y="434" width="3" height="10" fill="#00ff00"/>
<rect x="1237" y="440" width="1" height="13" fill="#00ff00"/>
<rect x="1236" y="441" width="3" height="6" fill="#00ff00"/>
<rect x="1241" y="422" width="1" height="31" fill="#ff0000"/>
<rect x="1240" y="425" width="3" height="22" fill="#ff0000"/>
<rect x="1245" y="417" width="1" height="31" fill="#00ff00"/>
<rect x="1244" y="424" width="3" height="23" fill="#00ff00"/>
<rect x="1249" y="435" width="1" height="21" fill="#00ff00"/>
<rect x="1248" y="444" width="3" height="5" fill="#00ff00"/>
<rect x="1253" y="433" width="1" height="17" fill="#ff0000"/>
<rect x="1252" y="444" width="3" height="5" fill="#ff0000"/>
<rect x="1257" y="442" width="1" height="7" fill="#00ff00"/>
<rect x="1256" y="444" width="3" height="3" fill="#00ff00"/>
<rect x="1261" y="443" width="1" height="35" fill="#00ff00"/>
<rect x="1260" y="446" width="3" height="30" fill="#00ff00"/>
<rect x="1265" y="471" width="1" height="50" fill="#00ff00"/>
<rect x="1264" y="475" width="3" height="29" fill="#00ff00"/>
<rect x="1269" y="500" width="1" height="9" fill="#ff0000"/>
<rect x="1268" y="502" width="3" height="3" fill="#ff0000"/>
<polygon points="1272.5,28 1283,28 1277.8,33.2" fill="#c0c0c0" shape-rendering="geometricPrecision"/>
<path d="M5 148h2v1h-2zM7 149h2v1h-2zM9 150h2v1h-2zM11 151h2v1h-2zM13 152h1v1h-1zM14 151h2v1h-2zM16 150h1v1h-1zM17 149h2v1h-2zM19 148h3v1h-3zM22 147h3v1h-3zM25 146h2v1h-2zM27 145h2v1h-2zM29 144h2v1h-2zM31 143h2v1h-2zM33 142h1v1h-1zM34 141h2v1h-2zM36 140h2v1h-2zM38 139h2v1h-2zM40 138h2v1h-2zM42 137h2v1h-2zM44 136h3v1h-3zM47 135h6v1h-6zM53 134h6v1h-6zM59 135h4v1h-4zM63 136h7v1h-7zM70 137h3v1h-3zM73 138h2v1h-2zM75 139h3v1h-3zM78 140h2v1h-2zM80 141h3v1h-3zM83 142h3v1h-3zM86 143h4v1h-4zM90 144h6v1h-6zM96 145h3v1h-3zM99 146h4v1h-4zM103 147h3v1h-3zM106 148h3v1h-3zM109 149h4v1h-4zM113 150h9v1h-9zM122 149h2v1h-2zM124 148h2v1h-2zM126 147h14v1h-14zM140 148h4v1h-4zM144 149h4v1h-4zM148 150h3v1h-3zM151 151h2v1h-2zM153 152h2v1h-2zM155 153h2v1h-2zM157 154h3v1h-3zM160 155h2v1h-2zM162 156h1v1h-1zM163 157h1v1h-1zM164 158h1v2h-1zM165 160h4v1h-4zM169 161h1v1h-1zM170 162h1v1h-1zM171 163h1v1h-1zM172 164h1v1h-1zM173 164h1v2h-1zM174 166h1v1h-1zM175 167h1v1h-1zM176 168h1v1h-1zM177 169h1v1h-1zM178 170h1v1h-1zM179 171h1v1h-1zM180 172h1v1h-1zM181 173h1v2h-1zM182 175h1v2h-1zM183 177h1v1h-1zM184 178h1v2h-1zM185 180h1v1h-1zM186 181h1v2h-1zM187 183h1v2h-1zM188 185h1v1h-1zM189 186h1v2h-1zM190 188h1v1h-1zM191 189h1v2h-1zM192 191h1v2h-1zM193 193h1v1h-1zM194 194h1v1h-1zM195 195h1v2h-1zM196 197h1v1h-1zM197 198h1v1h-1zM198 199h1v1h-1zM199 200h1v1h-1zM200 201h1v1h-1zM201 202h1v1h-1zM202 203h1v2h-1zM203 205h1v1h-1zM204 206h1v1h-1zM205 207h1v1h-1zM206 208h1v1h-1zM207 209h2v1h-2zM209 210h1v1h-1zM210 211h1v1h-1zM211 212h1v1h-1zM212 213h1v1h-1zM213 214h2v1h-2zM215 215h1v1h-1zM216 216h2v1h-2zM218 217h2v1h-2zM220 218h1v1h-1zM221 219h2v1h-2zM223 220h2v1h-2zM225 221h2v1h-2zM227 222h2v1h-2zM229 223h3v1h-3zM232 224h2v1h-2zM234 225h2v1h-2zM236 226h2v1h-2zM238 227h2v1h-2zM240 228h2v1h-2zM242 229h3v1h-3zM245 230h3v1h-3zM248 231h3v1h-3zM251 232h2v1h-2zM253 233h3v1h-3zM256 234h3v1h-3zM259 235h3v1h-3zM262 236h4v1h-4zM266 237h6v1h-6zM272 238h13v1h-13zM285 239h17v1h-17zM302 238h7v1h-7zM309 237h5v1h-5zM314 236h17v1h-17zM331 237h6v1h-6zM337 238h5v1h-5zM342 239h5v1h-5zM347 240h5v1h-5zM352 241h3v1h-3zM355 242h3v1h-3zM358 243h3v1h-3zM361 244h2v1h-2zM363 245h3v1h-3zM366 246h2v1h-2zM368 247h2v1h-2zM370 248h3v1h-3zM373 249h1v1h-1zM374 250h2v1h-2zM376 251h2v1h-2zM378 252h1v1h-1zM379 253h2v1h-2zM381 254h1v1h-1zM382 255h2v1h-2zM384 256h1v1h-1zM385 257h2v1h-2zM387 258h1v1h-1zM388 259h2v1h-2zM390 260h2v1h-2zM392 261h2v1h-2zM394 262h2v1h-2zM396 263h1v1h-1zM397 264h1v1h-1zM398 265h1v1h-1zM399 266h1v1h-1zM400 267h1v1h-1zM401 268h1v1h-1zM402 269h1v1h-1zM403 270h1v1h-1zM404 271h1v1h-1zM405 272h1v1h-1zM406 273h1v1h-1zM407 274h1v1h-1zM408 275h1v1h-1zM409 276h1v1h-1zM410 277h1v2h-1zM411 279h1v1h-1zM412 280h1v1h-1zM413 281h1v1h-1zM414 282h1v1h-1zM415 283h1v1h-1zM416 284h1v1h-1zM417 285h1v1h-1zM418 286h1v1h-1zM419 287h1v1h-1zM420 288h1v1h-1zM421 289h1v2h-1zM422 291h1v1h-1zM423 292h1v1h-1zM424 293h1v2h-1zM425 295h1v1h-1zM426 296h1v2h-1zM427 298h1v1h-1zM428 299h1v1h-1zM429 300h1v1h-1zM430 301h1v1h-1zM431 302h1v1h-1zM432 303h1v1h-1zM433 304h1v2h-1zM434 306h1v1h-1zM435 307h1v2h-1zM436 309h1v2h-1zM437 311h1v1h-1zM438 312h1v1h-1zM439 313h1v1h-1zM440 314h1v1h-1zM441 315h1v1h-1zM442 316h1v1h-1zM443 317h1v2h-1zM444 319h1v1h-1zM445 320h1v1h-1zM446 321h2v1h-2zM448 322h1v1h-1zM449 323h1v1h-1zM450 324h1v1h-1zM451 325h2v1h-2zM453 326h1v1h-1zM454 327h2v1h-2zM456 328h1v1h-1zM457 329h2v1h-2zM459 330h2v1h-2zM461 331h3v1h-3zM464 332h3v1h-3zM467 333h2v1h-2zM469 334h2v1h-2zM471 335h4v1h-4zM475 336h9v1h-9zM484 335h5v1h-5zM489 334h4v1h-4zM493 333h5v1h-5zM498 332h4v1h-4zM502 331h4v1h-4zM506 330h2v1h-2zM508 329h3v1h-3zM511 328h3v1h-3zM514 327h6v1h-6zM520 326h3v1h-3zM523 325h3v1h-3zM526 324h2v1h-2zM528 323h2v1h-2zM530 322h2v1h-2zM532 321h1v1h-1zM533 320h1v1h-1zM534 319h2v1h-2zM536 318h1v1h-1zM537 317h1v1h-1zM538 316h1v1h-1zM539 315h1v1h-1zM540 314h1v1h-1zM541 313h1v1h-1zM542 312h1v1h-1zM543 311h1v1h-1zM544 310h1v1h-1zM545 309h1v1h-1zM546 308h1v1h-1zM547 307h1v1h-1zM548 306h1v1h-1zM549 305h1v1h-1zM550 303h1v2h-1zM551 302h1v1h-1zM552 301h1v1h-1zM553 299h1v2h-1zM554 298h1v1h-1zM555 296h1v2h-1zM556 294h1v2h-1zM557 292h1v2h-1zM558 290h1v2h-1zM559 289h1v1h-1zM560 287h1v2h-1zM561 285h1v2h-1zM562 284h1v1h-1zM563 283h1v1h-1zM564 281h1v2h-1zM565 280h1v1h-1zM566 279h1v1h-1zM567 278h1v1h-1zM568 277h1v1h-1zM569 276h1v1h-1zM570 275h1v1h-1zM571 274h1v1h-1zM572 273h1v1h-1zM573 272h2v1h-2zM575 271h2v1h-2zM577 270h2v1h-2zM579 269h3v1h-3zM582 268h2v1h-2zM584 267h4v1h-4zM588 268h3v1h-3zM591 269h3v1h-3zM594 270h3v1h-3zM597 271h2v1h-2zM599 272h2v1h-2zM601 273h2v1h-2zM603 274h1v1h-1zM604 275h1v1h-1zM605 276h2v1h-2zM607 277h2v1h-2zM609 278h2v1h-2zM611 279h2v1h-2zM613 280h3v1h-3zM616 281h4v1h-4zM620 282h2v1h-2zM622 281h2v1h-2zM624 280h2v1h-2zM626 279h2v1h-2zM628 278h6v1h-6zM634 277h4v1h-4zM638 276h2v1h-2zM640 275h2v1h-2zM642 274h1v1h-1zM643 273h1v1h-1zM644 272h1v1h-1zM645 271h1v1h-1zM646 270h1v1h-1zM647 269h1v1h-1zM648 268h1v1h-1zM649 266h1v2h-1zM650 264h1v2h-1zM651 262h1v2h-1zM652 261h1v1h-1zM653 259h1v2h-1zM654 258h1v1h-1zM655 257h1v1h-1zM656 256h1v1h-1zM657 255h1v1h-1zM658 254h1v1h-1zM659 253h1v1h-1zM660 252h1v1h-1zM661 250h1v2h-1zM662 249h1v1h-1zM663 248h1v1h-1zM664 247h1v1h-1zM665 246h1v1h-1zM666 245h1v1h-1zM667 244h1v1h-1zM668 243h1v1h-1zM669 242h2v1h-2zM671 241h2v1h-2zM673 240h1v1h-1zM674 239h3v1h-3zM677 238h2v1h-2zM679 237h2v1h-2zM681 236h2v1h-2zM683 235h2v1h-2zM685 234h1v1h-1zM686 233h1v1h-1zM687 232h1v1h-1zM688 231h2v1h-2zM690 230h1v1h-1zM691 229h2v1h-2zM693 228h1v1h-1zM694 227h2v1h-2zM696 226h1v1h-1zM697 225h1v1h-1zM698 224h1v1h-1zM699 223h1v1h-1zM700 222h1v1h-1zM701 221h1v1h-1zM702 220h1v1h-1zM703 219h1v1h-1zM704 217h1v2h-1zM705 216h1v1h-1zM706 215h1v1h-1zM707 214h1v1h-1zM708 213h1v1h-1zM709 212h1v1h-1zM710 210h1v2h-1zM711 209h1v1h-1zM712 208h1v1h-1zM713 207h1v1h-1zM714 205h1v2h-1zM715 204h1v1h-1zM716 203h1v1h-1zM717 202h1v1h-1zM718 200h1v2h-1zM719 199h1v1h-1zM720 197h1v2h-1zM721 196h2v1h-2zM723 195h1v1h-1zM724 194h1v1h-1zM725 193h1v1h-1zM726 192h1v1h-1zM727 191h1v1h-1zM728 190h1v1h-1zM729 189h1v1h-1zM730 188h1v1h-1zM731 187h1v1h-1zM732 186h1v1h-1zM733 185h1v1h-1zM734 184h1v1h-1zM735 183h1v1h-1zM736 182h1v1h-1zM737 181h1v1h-1zM738 180h1v1h-1zM739 179h1v1h-1zM740 178h1v1h-1zM741 177h2v1h-2zM743 176h1v1h-1zM744 175h2v1h-2zM746 174h2v1h-2zM748 173h2v1h-2zM750 172h2v1h-2zM752 171h2v1h-2zM754 170h2v1h-2zM756 169h1v1h-1zM757 168h3v1h-3zM760 167h4v1h-4zM764 166h2v1h-2zM766 167h3v1h-3zM769 168h4v1h-4zM773 169h2v1h-2zM775 170h3v1h-3zM778 171h3v1h-3zM781 172h5v1h-5zM786 173h4v1h-4zM790 174h8v1h-8zM798 173h3v1h-3zM801 172h3v1h-3zM804 171h3v1h-3zM807 170h4v1h-4zM811 169h11v1h-11zM822 170h2v1h-2zM824 171h6v1h-6zM830 170h2v1h-2zM832 169h2v1h-2zM834 168h2v1h-2zM836 167h2v1h-2zM838 166h2v1h-2zM840 165h1v1h-1zM841 164h2v1h-2zM843 163h1v1h-1zM844 162h2v1h-2zM846 161h2v1h-2zM848 160h1v1h-1zM849 159h2v1h-2zM851 158h1v1h-1zM852 157h2v1h-2zM854 156h2v1h-2zM856 155h2v1h-2zM858 154h2v1h-2zM860 153h3v1h-3zM863 152h3v1h-3zM866 151h2v1h-2zM868 150h1v1h-1zM869 149h2v1h-2zM871 148h1v1h-1zM872 147h1v1h-1zM873 146h2v1h-2zM875 145h2v1h-2zM877 144h2v1h-2zM879 143h2v1h-2zM881 142h2v1h-2zM883 141h2v1h-2zM885 140h1v1h-1zM886 139h2v1h-2zM888 138h1v1h-1zM889 137h2v1h-2zM891 136h1v1h-1zM892 135h2v1h-2zM894 134h2v1h-2zM896 133h1v1h-1zM897 132h3v1h-3zM900 131h3v1h-3zM903 130h2v1h-2zM905 129h2v1h-2zM907 128h3v1h-3zM910 127h6v1h-6zM916 128h2v1h-2zM918 129h1v1h-1zM919 130h2v1h-2zM921 131h1v1h-1zM922 132h2v1h-2zM924 133h1v1h-1zM925 134h2v1h-2zM927 135h2v1h-2zM929 136h2v1h-2zM931 137h1v1h-1zM932 138h3v1h-3zM935 139h3v1h-3zM938 140h9v1h-9zM947 141h8v1h-8zM955 142h4v1h-4zM959 143h4v1h-4zM963 144h4v1h-4zM967 145h3v1h-3zM970 146h4v1h-4zM974 147h3v1h-3zM977 148h2v1h-2zM979 149h2v1h-2zM981 150h1v1h-1zM982 151h2v1h-2zM984 152h1v1h-1zM985 153h2v1h-2zM987 154h1v1h-1zM988 155h1v1h-1zM989 156h2v1h-2zM991 157h1v1h-1zM992 158h1v1h-1zM993 159h2v1h-2zM995 160h1v1h-1zM996 161h1v1h-1zM997 162h2v1h-2zM999 163h1v1h-1zM1000 164h1v1h-1zM1001 165h1v1h-1zM1002 166h1v1h-1zM1003 167h1v1h-1zM1004 168h1v1h-1zM1005 169h1v1h-1zM1006 170h1v1h-1zM1007 171h1v1h-1zM1008 172h1v1h-1zM1009 173h1v1h-1zM1010 174h1v1h-1zM1011 175h2v1h-2zM1013 176h1v1h-1zM1014 177h1v1h-1zM1015 178h1v1h-1zM1016 179h1v1h-1zM1017 180h1v1h-1zM1018 181h1v1h-1zM1019 182h1v1h-1zM1020 183h1v1h-1zM1021 184h1v1h-1zM1022 185h1v1h-1zM1023 186h1v1h-1zM1024 187h1v1h-1zM1025 188h1v1h-1zM1026 189h1v1h-1zM1027 190h1v1h-1zM1028 191h1v1h-1zM1029 192h1v1h-1zM1030 193h1v1h-1zM1031 194h1v1h-1zM1032 195h1v1h-1zM1033 196h2v1h-2zM1035 197h2v1h-2zM1037 198h2v1h-2zM1039 199h1v1h-1zM1040 200h2v1h-2zM1042 201h2v1h-2zM1044 202h1v1h-1zM1045 203h2v1h-2zM1047 204h2v1h-2zM1049 205h1v1h-1zM1050 206h2v1h-2zM1052 207h1v1h-1zM1053 208h2v1h-2zM1055 209h1v1h-1zM1056 210h1v1h-1zM1057 211h2v1h-2zM1059 212h1v1h-1zM1060 213h1v1h-1zM1061 214h2v1h-2zM1063 215h1v1h-1zM1064 216h1v1h-1zM1065 217h1v1h-1zM1066 218h1v1h-1zM1067 219h1v1h-1zM1068 220h2v1h-2zM1070 221h1v1h-1zM1071 222h1v1h-1zM1072 223h2v1h-2zM1074 224h1v1h-1zM1075 225h2v1h-2zM1077 226h1v1h-1zM1078 227h2v1h-2zM1080 228h2v1h-2zM1082 229h2v1h-2zM1084 230h2v1h-2zM1086 231h2v1h-2zM1088 232h2v1h-2zM1090 233h2v1h-2zM1092 234h2v1h-2zM1094 235h2v1h-2zM1096 236h2v1h-2zM1098 237h1v1h-1zM1099 238h2v1h-2zM1101 239h1v1h-1zM1102 240h2v1h-2zM1104 241h1v1h-1zM1105 242h1v1h-1zM1106 243h1v1h-1zM1107 244h1v1h-1zM1108 245h1v1h-1zM1109 246h1v1h-1zM1110 247h1v1h-1zM1111 248h1v1h-1zM1112 249h1v1h-1zM1113 250h2v1h-2zM1115 251h1v1h-1zM1116 252h1v1h-1zM1117 253h1v1h-1zM1118 254h1v1h-1zM1119 255h1v1h-1zM1120 256h1v1h-1zM1121 257h1v1h-1zM1122 258h1v1h-1zM1123 259h1v2h-1zM1124 261h1v1h-1zM1125 262h1v1h-1zM1126 263h1v1h-1zM1127 264h1v1h-1zM1128 265h1v1h-1zM1129 266h1v1h-1zM1130 267h1v1h-1zM1131 268h1v1h-1zM1132 269h1v1h-1zM1133 270h1v1h-1zM1134 271h1v1h-1zM1135 272h2v1h-2zM1137 273h1v1h-1zM1138 274h2v1h-2zM1140 275h2v1h-2zM1142 276h2v1h-2zM1144 277h2v1h-2zM1146 278h1v1h-1zM1147 279h1v1h-1zM1148 280h2v1h-2zM1150 281h3v1h-3zM1153 282h2v1h-2zM1155 283h1v1h-1zM1156 284h2v1h-2zM1158 285h2v1h-2zM1160 286h2v1h-2zM1162 287h1v1h-1zM1163 288h2v1h-2zM1165 289h1v1h-1zM1166 290h1v1h-1zM1167 291h2v1h-2zM1169 292h1v1h-1zM1170 293h1v1h-1zM1171 294h2v1h-2zM1173 295h1v1h-1zM1174 296h1v1h-1zM1175 297h2v1h-2zM1177 298h1v1h-1zM1178 299h2v1h-2zM1180 300h1v1h-1zM1181 301h2v1h-2zM1183 302h1v1h-1zM1184 303h1v1h-1zM1185 304h2v1h-2zM1187 305h1v1h-1zM1188 306h2v1h-2zM1190 307h1v1h-1zM1191 308h2v1h-2zM1193 309h1v1h-1zM1194 310h1v1h-1zM1195 311h1v1h-1zM1196 312h1v1h-1zM1197 313h1v1h-1zM1198 314h2v1h-2zM1200 315h1v1h-1zM1201 316h1v2h-1zM1202 318h1v1h-1zM1203 319h1v2h-1zM1204 321h1v1h-1zM1205 322h1v2h-1zM1206 324h1v1h-1zM1207 325h1v2h-1zM1208 327h1v1h-1zM1209 328h1v2h-1zM1210 330h1v1h-1zM1211 331h1v2h-1zM1212 333h1v1h-1zM1213 334h1v2h-1zM1214 336h1v1h-1zM1215 337h1v2h-1zM1216 339h1v1h-1zM1217 340h1v2h-1zM1218 342h1v1h-1zM1219 343h1v1h-1zM1220 344h1v2h-1zM1221 346h1v1h-1zM1222 347h1v2h-1zM1223 349h1v1h-1zM1224 350h1v2h-1zM1225 352h1v1h-1zM1226 353h1v1h-1zM1227 354h1v1h-1zM1228 355h1v2h-1zM1229 357h1v1h-1zM1230 358h1v1h-1zM1231 359h1v1h-1zM1232 360h1v1h-1zM1233 361h1v1h-1zM1234 362h1v1h-1zM1235 363h1v1h-1zM1236 364h1v1h-1zM1237 365h1v1h-1zM1238 366h1v1h-1zM1239 367h1v1h-1zM1240 368h1v1h-1zM1241 369h1v2h-1zM1242 371h1v1h-1zM1243 372h1v1h-1zM1244 373h1v1h-1zM1245 374h1v1h-1zM1246 375h1v2h-1zM1247 377h1v1h-1zM1248 378h1v1h-1zM1249 379h1v1h-1zM1250 380h1v1h-1zM1251 381h1v1h-1zM1252 382h1v2h-1zM1253 384h1v1h-1zM1254 385h1v2h-1zM1255 387h1v1h-1zM1256 388h1v1h-1zM1257 389h1v2h-1zM1258 391h1v1h-1zM1259 392h1v2h-1zM1260 394h1v1h-1zM1261 395h1v2h-1zM1262 397h1v1h-1zM1263 398h1v2h-1zM1264 400h1v2h-1zM1265 402h1v1h-1zM1266 403h1v1h-1zM1267 404h1v1h-1zM1268 405h1v1h-1zM1269 406h1v1h-1z" fill="#0000cd"/>
<path d="M5 128h1v2h-1zM6 130h1v1h-1zM7 131h1v2h-1zM8 133h1v2h-1zM9 135h1v2h-1zM10 137h1v2h-1zM11 139h1v2h-1zM12 141h1v1h-1zM13 142h1v2h-1zM14 144h1v2h-1zM15 146h1v1h-1zM16 147h1v2h-1zM17 149h1v2h-1zM18 151h1v2h-1zM19 153h1v2h-1zM20 155h1v2h-1zM21 157h1v2h-1zM22 159h1v2h-1zM23 161h1v2h-1zM24 163h1v3h-1zM25 166h1v1h-1zM26 167h1v1h-1zM27 168h1v1h-1zM28 169h1v1h-1zM29 170h4v1h-4zM33 171h2v1h-2zM35 170h5v1h-5zM40 169h3v1h-3zM43 168h3v1h-3zM46 167h2v1h-2zM48 166h3v1h-3zM51 165h2v1h-2zM53 164h1v1h-1zM54 162h1v2h-1zM55 161h1v1h-1zM56 159h1v2h-1zM57 157h1v2h-1zM58 154h1v3h-1zM59 151h1v3h-1zM60 149h1v2h-1zM61 147h1v2h-1zM62 144h1v3h-1zM63 142h1v2h-1zM64 140h1v2h-1zM65 139h1v1h-1zM66 138h1v1h-1zM67 136h1v2h-1zM68 135h1v1h-1zM69 134h1v1h-1zM70 133h1v1h-1zM71 132h2v1h-2zM73 131h1v1h-1zM74 130h2v1h-2zM76 129h2v1h-2zM78 128h3v1h-3zM81 127h2v1h-2zM83 126h1v1h-1zM84 125h1v1h-1zM85 124h2v1h-2zM87 123h1v1h-1zM88 122h1v1h-1zM89 121h2v1h-2zM91 120h2v1h-2zM93 119h1v1h-1zM94 120h4v1h-4zM98 121h1v1h-1zM99 122h1v1h-1zM100 123h1v2h-1zM101 125h1v1h-1zM102 126h1v1h-1zM103 127h1v1h-1zM104 128h1v2h-1zM105 130h1v1h-1zM106 131h1v1h-1zM107 132h1v2h-1zM108 134h1v1h-1zM109 135h1v1h-1zM110 136h1v1h-1zM111 137h1v1h-1zM112 138h1v1h-1zM113 139h1v1h-1zM114 140h1v1h-1zM115 141h1v1h-1zM116 142h1v1h-1zM117 143h1v2h-1zM118 145h1v1h-1zM119 146h1v1h-1zM120 147h1v1h-1zM121 148h1v1h-1zM122 149h1v1h-1zM123 150h1v2h-1zM124 152h1v1h-1zM125 153h1v1h-1zM126 154h1v1h-1zM127 155h1v1h-1zM128 156h1v1h-1zM129 157h1v1h-1zM130 158h1v1h-1zM131 159h1v1h-1zM132 160h1v1h-1zM133 161h1v1h-1zM134 162h1v1h-1zM135 163h1v2h-1zM136 165h1v1h-1zM137 166h1v1h-1zM138 167h1v1h-1zM139 168h1v2h-1zM140 170h1v1h-1zM141 171h1v1h-1zM142 172h1v2h-1zM143 174h1v2h-1zM144 176h1v1h-1zM145 177h1v1h-1zM146 178h1v2h-1zM147 180h1v1h-1zM148 181h1v1h-1zM149 182h1v1h-1zM150 183h1v1h-1zM151 184h1v1h-1zM152 185h1v1h-1zM153 186h2v1h-2zM155 187h3v1h-3zM158 188h4v1h-4zM162 189h3v1h-3zM165 190h2v1h-2zM167 191h1v1h-1zM168 192h1v1h-1zM169 193h1v1h-1zM170 194h1v1h-1zM171 195h1v1h-1zM172 196h1v1h-1zM173 197h1v2h-1zM174 199h1v1h-1zM175 200h1v1h-1zM176 201h1v1h-1zM177 202h1v1h-1zM178 203h1v1h-1zM179 204h1v1h-1zM180 205h1v1h-1zM181 206h1v2h-1zM182 208h1v2h-1zM183 210h1v1h-1zM184 211h1v2h-1zM185 213h1v1h-1zM186 214h1v2h-1zM187 216h1v1h-1zM188 217h1v2h-1zM189 219h1v1h-1zM190 220h1v1h-1zM191 221h1v2h-1zM192 223h1v1h-1zM193 224h1v1h-1zM194 225h1v1h-1zM195 226h1v1h-1zM196 227h1v2h-1zM197 229h1v1h-1zM198 230h1v1h-1zM199 231h1v2h-1zM200 233h1v1h-1zM201 234h1v1h-1zM202 235h1v1h-1zM203 236h1v1h-1zM204 237h1v2h-1zM205 239h2v1h-2zM207 240h1v1h-1zM208 241h2v1h-2zM210 242h1v1h-1zM211 243h2v1h-2zM213 244h1v1h-1zM214 245h1v1h-1zM215 246h1v1h-1zM216 247h2v1h-2zM218 248h1v1h-1zM219 249h1v1h-1zM220 250h1v1h-1zM221 251h1v1h-1zM222 252h2v1h-2zM224 253h1v1h-1zM225 254h2v1h-2zM227 255h4v1h-4zM231 256h4v1h-4zM235 255h3v1h-3zM238 254h1v1h-1zM239 253h2v1h-2zM241 252h1v1h-1zM242 251h1v1h-1zM243 250h1v1h-1zM244 248h1v2h-1zM245 247h1v1h-1zM246 246h2v1h-2zM248 245h1v1h-1zM249 244h1v1h-1zM250 243h1v1h-1zM251 242h1v1h-1zM252 241h1v1h-1zM253 240h1v1h-1zM254 239h2v1h-2zM256 238h1v1h-1zM257 237h4v1h-4zM261 236h9v1h-9zM270 235h3v1h-3zM273 234h1v1h-1zM274 233h1v1h-1zM275 232h2v1h-2zM277 231h1v1h-1zM278 230h1v1h-1zM279 228h1v2h-1zM280 227h1v1h-1zM281 226h2v1h-2zM283 225h3v1h-3zM286 224h11v1h-11zM297 225h3v1h-3zM300 226h6v1h-6zM306 227h5v1h-5zM311 228h2v1h-2zM313 229h1v1h-1zM314 230h2v1h-2zM316 231h1v1h-1zM317 232h3v1h-3zM320 233h2v1h-2zM322 234h2v1h-2zM324 235h1v1h-1zM325 236h2v1h-2zM327 237h1v1h-1zM328 238h2v1h-2zM330 239h1v1h-1zM331 240h1v1h-1zM332 241h1v1h-1zM333 241h1v2h-1zM334 243h1v1h-1zM335 244h1v1h-1zM336 245h1v2h-1zM337 247h1v1h-1zM338 248h1v1h-1zM339 249h1v2h-1zM340 251h1v1h-1zM341 252h1v1h-1zM342 253h2v1h-2zM344 254h1v1h-1zM345 255h2v1h-2zM347 256h2v1h-2zM349 257h2v1h-2zM351 258h2v1h-2zM353 259h1v1h-1zM354 260h2v1h-2zM356 261h1v1h-1zM357 262h2v1h-2zM359 263h2v1h-2zM361 264h2v1h-2zM363 265h1v1h-1zM364 266h7v1h-7zM371 267h1v1h-1zM372 268h2v1h-2zM374 269h1v1h-1zM375 270h1v1h-1zM376 271h1v1h-1zM377 272h2v1h-2zM379 273h2v1h-2zM381 274h2v1h-2zM383 275h1v1h-1zM384 276h1v1h-1zM385 277h1v1h-1zM386 278h1v1h-1zM387 279h2v1h-2zM389 280h1v1h-1zM390 281h2v1h-2zM392 282h1v1h-1zM393 283h2v1h-2zM395 284h2v1h-2zM397 285h1v1h-1zM398 286h1v1h-1zM399 287h1v1h-1zM400 288h1v1h-1zM401 289h1v2h-1zM402 291h1v1h-1zM403 292h1v2h-1zM404 294h1v1h-1zM405 295h1v1h-1zM406 296h1v2h-1zM407 298h1v1h-1zM408 299h1v1h-1zM409 300h1v2h-1zM410 302h1v1h-1zM411 303h1v1h-1zM412 304h1v1h-1zM413 305h1v2h-1zM414 307h1v2h-1zM415 309h1v2h-1zM416 311h1v2h-1zM417 313h1v3h-1zM418 316h1v2h-1zM419 318h1v2h-1zM420 320h1v3h-1zM421 323h1v2h-1zM422 325h1v2h-1zM423 327h1v2h-1zM424 329h1v2h-1zM425 331h1v2h-1zM426 333h1v1h-1zM427 334h1v2h-1zM428 336h1v2h-1zM429 338h1v2h-1zM430 340h1v2h-1zM431 342h1v1h-1zM432 343h1v2h-1zM433 345h1v2h-1zM434 347h1v3h-1zM435 350h1v2h-1zM436 352h1v2h-1zM437 354h1v2h-1zM438 356h1v2h-1zM439 358h1v2h-1zM440 360h1v2h-1zM441 362h1v1h-1zM442 363h1v2h-1zM443 365h1v1h-1zM444 366h1v1h-1zM445 367h1v1h-1zM446 368h1v1h-1zM447 369h2v1h-2zM449 370h1v1h-1zM450 371h1v1h-1zM451 372h1v1h-1zM452 373h1v1h-1zM453 374h3v1h-3zM456 375h4v1h-4zM460 376h2v1h-2zM462 375h2v1h-2zM464 374h2v1h-2zM466 372h1v2h-1zM467 371h1v1h-1zM468 370h1v1h-1zM469 369h1v1h-1zM470 367h1v2h-1zM471 365h1v2h-1zM472 364h1v1h-1zM473 362h1v2h-1zM474 360h1v2h-1zM475 358h1v2h-1zM476 357h1v1h-1zM477 354h1v3h-1zM478 352h1v2h-1zM479 350h1v2h-1zM480 347h1v3h-1zM481 346h1v1h-1zM482 344h1v2h-1zM483 342h1v2h-1zM484 340h1v2h-1zM485 337h1v3h-1zM486 335h1v2h-1zM487 332h1v3h-1zM488 329h1v3h-1zM489 326h1v3h-1zM490 323h1v3h-1zM491 321h1v2h-1zM492 318h1v3h-1zM493 316h1v2h-1zM494 313h1v3h-1zM495 311h1v2h-1zM496 309h1v2h-1zM497 307h1v2h-1zM498 306h1v1h-1zM499 304h1v2h-1zM500 302h1v2h-1zM501 301h1v1h-1zM502 299h1v2h-1zM503 297h1v2h-1zM504 296h1v1h-1zM505 294h1v2h-1zM506 293h1v1h-1zM507 292h1v1h-1zM508 290h1v2h-1zM509 289h1v1h-1zM510 288h1v1h-1zM511 286h1v2h-1zM512 285h1v1h-1zM513 284h1v1h-1zM514 283h1v1h-1zM515 281h1v2h-1zM516 280h1v1h-1zM517 279h2v1h-2zM519 278h2v1h-2zM521 277h5v1h-5zM526 276h2v1h-2zM528 275h4v1h-4zM532 274h2v1h-2zM534 275h3v1h-3zM537 276h4v1h-4zM541 277h6v1h-6zM547 276h1v1h-1zM548 275h2v1h-2zM550 274h1v1h-1zM551 273h2v1h-2zM553 272h1v1h-1zM554 271h1v1h-1zM555 270h1v1h-1zM556 269h1v1h-1zM557 268h1v1h-1zM558 267h2v1h-2zM560 266h1v1h-1zM561 265h1v1h-1zM562 264h1v1h-1zM563 263h2v1h-2zM565 262h1v1h-1zM566 261h2v1h-2zM568 260h2v1h-2zM570 259h1v1h-1zM571 258h1v1h-1zM572 257h1v1h-1zM573 256h2v1h-2zM575 255h3v1h-3zM578 254h2v1h-2zM580 253h6v1h-6zM586 254h2v1h-2zM588 255h1v1h-1zM589 256h1v1h-1zM590 257h1v1h-1zM591 258h1v1h-1zM592 259h1v1h-1zM593 260h1v1h-1zM594 261h1v1h-1zM595 262h1v2h-1zM596 264h1v1h-1zM597 265h1v1h-1zM598 266h1v2h-1zM599 268h1v1h-1zM600 269h1v2h-1zM601 271h1v1h-1zM602 272h1v2h-1zM603 274h1v1h-1zM604 275h1v1h-1zM605 276h1v2h-1zM606 278h1v2h-1zM607 280h1v2h-1zM608 282h1v1h-1zM609 283h1v2h-1zM610 285h1v2h-1zM611 287h1v2h-1zM612 289h1v2h-1zM613 291h1v2h-1zM614 293h1v2h-1zM615 295h1v1h-1zM616 296h1v2h-1zM617 298h1v1h-1zM618 299h1v1h-1zM619 300h1v1h-1zM620 301h1v1h-1zM621 302h3v1h-3zM624 301h3v1h-3zM627 300h2v1h-2zM629 299h7v1h-7zM636 298h2v1h-2zM638 297h1v1h-1zM639 296h1v1h-1zM640 295h1v1h-1zM641 293h1v2h-1zM642 291h1v2h-1zM643 289h1v2h-1zM644 286h1v3h-1zM645 282h1v4h-1zM646 278h1v4h-1zM647 274h1v4h-1zM648 270h1v4h-1zM649 266h1v4h-1zM650 262h1v4h-1zM651 257h1v5h-1zM652 253h1v4h-1zM653 249h1v4h-1zM654 245h1v4h-1zM655 240h1v5h-1zM656 236h1v4h-1zM657 233h1v3h-1zM658 229h1v4h-1zM659 226h1v3h-1zM660 222h1v4h-1zM661 219h1v3h-1zM662 216h1v3h-1zM663 213h1v3h-1zM664 210h1v3h-1zM665 207h1v3h-1zM666 205h1v2h-1zM667 202h1v3h-1zM668 199h1v3h-1zM669 195h1v4h-1zM670 192h1v3h-1zM671 188h1v4h-1zM672 185h1v3h-1zM673 182h1v3h-1zM674 180h1v2h-1zM675 177h1v3h-1zM676 175h1v2h-1zM677 174h1v1h-1zM678 173h1v1h-1zM679 171h1v2h-1zM680 170h1v1h-1zM681 169h1v1h-1zM682 168h1v1h-1zM683 167h1v1h-1zM684 166h1v1h-1zM685 164h1v2h-1zM686 162h1v2h-1zM687 160h1v2h-1zM688 159h1v1h-1zM689 157h1v2h-1zM690 156h1v1h-1zM691 154h1v2h-1zM692 153h1v1h-1zM693 151h1v2h-1zM694 150h1v1h-1zM695 149h1v1h-1zM696 148h1v1h-1zM697 147h1v1h-1zM698 146h2v1h-2zM700 145h1v1h-1zM701 144h1v1h-1zM702 145h4v1h-4zM706 146h1v1h-1zM707 147h1v1h-1zM708 148h1v1h-1zM709 149h1v1h-1zM710 150h1v1h-1zM711 151h1v2h-1zM712 153h1v1h-1zM713 154h1v1h-1zM714 155h1v2h-1zM715 157h1v1h-1zM716 158h1v2h-1zM717 160h1v1h-1zM718 161h1v1h-1zM719 162h2v1h-2zM721 163h1v1h-1zM722 164h1v1h-1zM723 165h1v1h-1zM724 166h1v1h-1zM725 167h1v1h-1zM726 168h1v1h-1zM727 169h1v1h-1zM728 170h2v1h-2zM730 171h1v1h-1zM731 172h1v1h-1zM732 173h1v1h-1zM733 174h1v1h-1zM734 175h1v1h-1zM735 176h1v1h-1zM736 177h1v1h-1zM737 178h1v1h-1zM738 179h1v1h-1zM739 180h1v1h-1zM740 181h2v1h-2zM742 182h2v1h-2zM744 183h2v1h-2zM746 184h3v1h-3zM749 185h1v1h-1zM750 186h2v1h-2zM752 187h2v1h-2zM754 188h3v1h-3zM757 189h3v1h-3zM760 190h6v1h-6zM766 189h3v1h-3zM769 188h2v1h-2zM771 187h1v1h-1zM772 186h2v1h-2zM774 185h1v1h-1zM775 184h1v1h-1zM776 183h1v1h-1zM777 182h1v1h-1zM778 181h1v1h-1zM779 180h1v1h-1zM780 179h1v1h-1zM781 178h1v1h-1zM782 177h1v1h-1zM783 176h2v1h-2zM785 175h1v1h-1zM786 174h2v1h-2zM788 173h2v1h-2zM790 172h1v1h-1zM791 171h1v1h-1zM792 170h2v1h-2zM794 169h1v1h-1zM795 168h1v1h-1zM796 167h1v1h-1zM797 166h1v1h-1zM798 165h1v1h-1zM799 164h1v1h-1zM800 163h1v1h-1zM801 162h1v1h-1zM802 161h1v1h-1zM803 160h1v1h-1zM804 159h1v1h-1zM805 158h1v1h-1zM806 157h1v1h-1zM807 156h2v1h-2zM809 155h1v1h-1zM810 154h2v1h-2zM812 153h18v1h-18zM830 152h4v1h-4zM834 151h2v1h-2zM836 150h2v1h-2zM838 149h1v1h-1zM839 148h1v1h-1zM840 147h1v1h-1zM841 146h1v2h-1zM842 145h1v1h-1zM843 144h1v1h-1zM844 143h1v1h-1zM845 142h1v1h-1zM846 141h2v1h-2zM848 140h1v1h-1zM849 139h5v1h-5zM854 140h2v1h-2zM856 141h2v1h-2zM858 142h4v1h-4zM862 143h5v1h-5zM867 142h2v1h-2zM869 141h1v1h-1zM870 140h1v1h-1zM871 139h2v1h-2zM873 137h1v2h-1zM874 136h1v1h-1zM875 135h1v1h-1zM876 134h1v1h-1zM877 132h1v2h-1zM878 131h1v1h-1zM879 130h1v1h-1zM880 128h1v2h-1zM881 127h1v1h-1zM882 125h1v2h-1zM883 124h1v1h-1zM884 122h1v2h-1zM885 121h1v1h-1zM886 120h1v1h-1zM887 119h1v1h-1zM888 117h1v2h-1zM889 116h2v1h-2zM891 115h1v1h-1zM892 114h1v1h-1zM893 113h3v1h-3zM896 112h7v1h-7zM903 113h12v1h-12zM915 114h1v1h-1zM916 115h2v1h-2zM918 116h1v2h-1zM919 118h1v1h-1zM920 119h1v1h-1zM921 120h1v1h-1zM922 121h1v2h-1zM923 123h1v1h-1zM924 124h1v2h-1zM925 126h1v1h-1zM926 127h1v2h-1zM927 129h1v1h-1zM928 130h1v2h-1zM929 132h1v1h-1zM930 133h1v2h-1zM931 135h1v2h-1zM932 137h1v2h-1zM933 139h1v2h-1zM934 141h1v2h-1zM935 143h1v2h-1zM936 145h1v2h-1zM937 147h1v2h-1zM938 149h1v2h-1zM939 151h1v2h-1zM940 153h1v1h-1zM941 154h1v2h-1zM942 156h1v1h-1zM943 157h1v2h-1zM944 159h1v1h-1zM945 160h1v1h-1zM946 161h1v2h-1zM947 163h1v1h-1zM948 164h1v1h-1zM949 165h1v2h-1zM950 167h1v1h-1zM951 168h1v2h-1zM952 170h1v1h-1zM953 171h1v1h-1zM954 172h1v1h-1zM955 173h1v1h-1zM956 174h1v1h-1zM957 175h2v1h-2zM959 176h3v1h-3zM962 177h1v1h-1zM963 178h2v1h-2zM965 179h1v1h-1zM966 180h1v1h-1zM967 181h2v1h-2zM969 182h1v1h-1zM970 183h2v1h-2zM972 184h2v1h-2zM974 185h2v1h-2zM976 186h5v1h-5zM981 185h3v1h-3zM984 184h4v1h-4zM988 183h3v1h-3zM991 182h1v1h-1zM992 181h3v1h-3zM995 180h4v1h-4zM999 181h3v1h-3zM1002 182h2v1h-2zM1004 183h3v1h-3zM1007 184h2v1h-2zM1009 185h5v1h-5zM1014 186h3v1h-3zM1017 187h1v1h-1zM1018 188h1v1h-1zM1019 189h1v1h-1zM1020 190h1v1h-1zM1021 191h1v1h-1zM1022 192h1v2h-1zM1023 194h1v1h-1zM1024 195h1v2h-1zM1025 197h1v1h-1zM1026 198h1v1h-1zM1027 199h1v2h-1zM1028 201h1v1h-1zM1029 202h1v1h-1zM1030 203h1v1h-1zM1031 204h1v2h-1zM1032 206h1v1h-1zM1033 207h1v1h-1zM1034 208h1v1h-1zM1035 209h1v1h-1zM1036 210h1v2h-1zM1037 212h1v1h-1zM1038 213h1v2h-1zM1039 215h1v2h-1zM1040 217h1v2h-1zM1041 219h1v1h-1zM1042 220h1v2h-1zM1043 222h1v2h-1zM1044 224h1v1h-1zM1045 225h1v2h-1zM1046 227h1v1h-1zM1047 228h1v2h-1zM1048 230h1v1h-1zM1049 231h1v2h-1zM1050 233h1v1h-1zM1051 234h1v2h-1zM1052 236h1v1h-1zM1053 237h1v2h-1zM1054 239h1v1h-1zM1055 240h1v1h-1zM1056 241h1v2h-1zM1057 243h1v1h-1zM1058 244h1v2h-1zM1059 246h1v1h-1zM1060 247h1v2h-1zM1061 249h1v1h-1zM1062 250h1v2h-1zM1063 252h1v1h-1zM1064 253h1v2h-1zM1065 255h1v1h-1zM1066 256h1v2h-1zM1067 258h1v1h-1zM1068 259h1v2h-1zM1069 261h1v1h-1zM1070 262h1v2h-1zM1071 264h1v1h-1zM1072 265h1v2h-1zM1073 267h7v1h-7zM1080 268h2v1h-2zM1082 267h4v1h-4zM1086 266h13v1h-13zM1099 265h14v1h-14zM1113 266h5v1h-5zM1118 267h3v1h-3zM1121 268h1v1h-1zM1122 269h2v1h-2zM1124 270h1v1h-1zM1125 271h2v1h-2zM1127 272h2v1h-2zM1129 273h1v1h-1zM1130 274h1v1h-1zM1131 275h2v1h-2zM1133 276h1v1h-1zM1134 277h2v1h-2zM1136 278h1v1h-1zM1137 279h1v1h-1zM1138 280h1v1h-1zM1139 281h1v1h-1zM1140 282h1v1h-1zM1141 283h1v2h-1zM1142 285h1v1h-1zM1143 286h1v2h-1zM1144 288h1v2h-1zM1145 290h1v1h-1zM1146 291h1v1h-1zM1147 292h1v2h-1zM1148 294h1v1h-1zM1149 295h1v2h-1zM1150 297h1v1h-1zM1151 298h1v1h-1zM1152 299h1v2h-1zM1153 301h1v1h-1zM1154 302h1v2h-1zM1155 304h1v1h-1zM1156 305h1v1h-1zM1157 306h1v1h-1zM1158 307h1v2h-1zM1159 309h1v1h-1zM1160 310h1v1h-1zM1161 311h1v1h-1zM1162 312h1v1h-1zM1163 313h1v1h-1zM1164 314h1v1h-1zM1165 315h1v2h-1zM1166 317h1v1h-1zM1167 318h1v1h-1zM1168 319h1v2h-1zM1169 321h1v1h-1zM1170 322h1v2h-1zM1171 324h1v2h-1zM1172 326h1v1h-1zM1173 327h1v1h-1zM1174 328h1v1h-1zM1175 329h1v1h-1zM1176 330h1v1h-1zM1177 331h3v1h-3zM1180 332h3v1h-3zM1183 333h1v1h-1zM1184 334h5v1h-5zM1189 334h1v2h-1zM1190 336h1v1h-1zM1191 337h1v2h-1zM1192 339h1v1h-1zM1193 340h1v2h-1zM1194 342h1v1h-1zM1195 343h1v2h-1zM1196 345h1v1h-1zM1197 346h1v1h-1zM1198 347h1v2h-1zM1199 349h1v1h-1zM1200 350h1v2h-1zM1201 352h1v2h-1zM1202 354h1v1h-1zM1203 355h1v2h-1zM1204 357h1v2h-1zM1205 359h1v2h-1zM1206 361h1v2h-1zM1207 363h1v2h-1zM1208 365h1v2h-1zM1209 367h1v2h-1zM1210 369h1v2h-1zM1211 371h1v2h-1zM1212 373h1v2h-1zM1213 375h1v3h-1zM1214 378h1v2h-1zM1215 380h1v2h-1zM1216 382h1v2h-1zM1217 384h1v1h-1zM1218 385h1v2h-1zM1219 387h1v1h-1zM1220 388h1v2h-1zM1221 390h1v1h-1zM1222 391h1v2h-1zM1223 393h1v1h-1zM1224 394h1v1h-1zM1225 395h1v2h-1zM1226 397h1v1h-1zM1227 398h1v2h-1zM1228 400h1v1h-1zM1229 401h1v2h-1zM1230 403h1v2h-1zM1231 405h1v2h-1zM1232 407h1v1h-1zM1233 408h1v2h-1zM1234 410h1v1h-1zM1235 411h1v2h-1zM1236 413h1v1h-1zM1237 414h1v2h-1zM1238 416h1v1h-1zM1239 417h1v1h-1zM1240 418h1v2h-1zM1241 420h1v1h-1zM1242 421h1v1h-1zM1243 422h1v1h-1zM1244 423h1v1h-1zM1245 424h1v2h-1zM1246 426h1v1h-1zM1247 427h1v1h-1zM1248 428h1v1h-1zM1249 429h1v1h-1zM1250 430h1v1h-1zM1251 431h1v1h-1zM1252 432h1v1h-1zM1253 433h1v1h-1zM1254 434h1v1h-1zM1255 435h1v1h-1zM1256 436h1v1h-1zM1257 437h1v1h-1zM1258 438h1v1h-1zM1259 439h1v1h-1zM1260 440h1v1h-1zM1261 441h1v2h-1zM1262 443h1v1h-1zM1263 444h1v1h-1zM1264 445h1v2h-1zM1265 447h1v1h-1zM1266 448h1v1h-1zM1267 449h1v2h-1zM1268 451h1v1h-1zM1269 452h1v1h-1z" fill="#ff0000"/>
<path d="M5 171h1v3h-1zM6 174h1v3h-1zM7 177h1v4h-1zM8 181h1v3h-1zM9 184h1v3h-1zM10 187h1v2h-1zM11 189h1v2h-1zM12 191h1v3h-1zM13 194h1v2h-1zM14 196h1v1h-1zM15 197h1v2h-1zM16 199h1v2h-1zM17 201h1v1h-1zM18 200h1v1h-1zM19 199h2v1h-2zM21 196h1v3h-1zM22 194h1v2h-1zM23 192h1v2h-1zM24 189h1v3h-1zM25 187h1v2h-1zM26 184h1v3h-1zM27 181h1v3h-1zM28 179h1v2h-1zM29 176h1v3h-1zM30 174h1v2h-1zM31 171h1v3h-1zM32 168h1v3h-1zM33 166h1v2h-1zM34 163h1v3h-1zM35 160h1v3h-1zM36 158h1v2h-1zM37 155h1v3h-1zM38 153h1v2h-1zM39 150h1v3h-1zM40 148h1v2h-1zM41 146h1v2h-1zM42 144h1v2h-1zM43 141h1v3h-1zM44 139h1v2h-1zM45 137h1v2h-1zM46 136h1v1h-1zM47 134h1v2h-1zM48 132h1v2h-1zM49 130h1v2h-1zM50 129h1v1h-1zM51 127h1v2h-1zM52 126h1v1h-1zM53 124h1v2h-1zM54 122h1v2h-1zM55 121h1v1h-1zM56 119h1v2h-1zM57 118h1v1h-1zM58 117h1v1h-1zM59 116h1v1h-1zM60 115h1v1h-1zM61 114h1v1h-1zM62 113h2v1h-2zM64 112h1v1h-1zM65 111h1v1h-1zM66 110h2v1h-2zM68 109h4v1h-4zM72 110h1v1h-1zM73 110h1v2h-1zM74 112h1v1h-1zM75 113h1v2h-1zM76 115h1v1h-1zM77 116h1v2h-1zM78 118h1v2h-1zM79 120h1v2h-1zM80 122h1v2h-1zM81 124h1v1h-1zM82 125h1v1h-1zM83 126h1v2h-1zM84 128h1v1h-1zM85 129h1v1h-1zM86 128h4v1h-4zM90 127h2v1h-2zM92 126h2v1h-2zM94 125h4v1h-4zM98 126h1v1h-1zM99 127h1v1h-1zM100 128h1v2h-1zM101 130h1v2h-1zM102 132h1v3h-1zM103 135h1v3h-1zM104 138h1v2h-1zM105 140h1v4h-1zM106 144h1v5h-1zM107 149h1v4h-1zM108 153h1v4h-1zM109 157h1v3h-1zM110 160h1v3h-1zM111 163h1v3h-1zM112 166h1v4h-1zM113 170h1v1h-1zM114 171h1v2h-1zM115 173h1v1h-1zM116 174h1v2h-1zM117 176h3v1h-3zM120 177h7v1h-7zM127 176h4v1h-4zM131 177h1v1h-1zM132 178h2v1h-2zM134 179h1v2h-1zM135 181h1v1h-1zM136 182h1v1h-1zM137 183h1v1h-1zM138 184h1v1h-1zM139 185h1v1h-1zM140 186h2v1h-2zM142 187h1v1h-1zM143 188h2v1h-2zM145 189h2v1h-2zM147 190h1v1h-1zM148 191h1v1h-1zM149 192h1v1h-1zM150 193h1v1h-1zM151 194h1v1h-1zM152 195h1v1h-1zM153 196h1v1h-1zM154 197h2v1h-2zM156 198h1v1h-1zM157 199h6v1h-6zM163 200h2v1h-2zM165 201h1v1h-1zM166 202h1v1h-1zM167 203h1v1h-1zM168 204h1v1h-1zM169 205h1v1h-1zM170 206h1v1h-1zM171 207h1v2h-1zM172 209h1v1h-1zM173 210h1v1h-1zM174 211h1v2h-1zM175 213h1v2h-1zM176 215h1v1h-1zM177 216h1v2h-1zM178 218h1v2h-1zM179 220h1v1h-1zM180 221h1v2h-1zM181 223h1v3h-1zM182 226h1v2h-1zM183 228h1v3h-1zM184 231h1v2h-1zM185 233h1v3h-1zM186 236h1v3h-1zM187 239h1v3h-1zM188 242h1v3h-1zM189 245h1v3h-1zM190 248h1v2h-1zM191 250h1v3h-1zM192 253h1v2h-1zM193 255h1v3h-1zM194 258h1v2h-1zM195 260h1v2h-1zM196 262h1v2h-1zM197 264h1v2h-1zM198 266h1v2h-1zM199 268h1v2h-1zM200 270h1v2h-1zM201 272h5v1h-5zM206 271h1v1h-1zM207 270h1v1h-1zM208 269h1v1h-1zM209 266h1v3h-1zM210 264h1v2h-1zM211 261h1v3h-1zM212 259h1v2h-1zM213 257h1v2h-1zM214 255h1v2h-1zM215 254h1v1h-1zM216 252h1v2h-1zM217 251h1v1h-1zM218 250h2v1h-2zM220 249h5v1h-5zM225 250h1v1h-1zM226 249h2v1h-2zM228 248h2v1h-2zM230 247h1v1h-1zM231 246h2v1h-2zM233 245h2v1h-2zM235 244h2v1h-2zM237 242h1v2h-1zM238 240h1v2h-1zM239 238h1v2h-1zM240 236h1v2h-1zM241 234h1v2h-1zM242 232h1v2h-1zM243 230h1v2h-1zM244 228h1v2h-1zM245 227h2v1h-2zM247 226h1v1h-1zM248 225h1v1h-1zM249 224h5v1h-5zM254 225h2v1h-2zM256 226h1v1h-1zM257 226h1v2h-1zM258 228h1v1h-1zM259 229h1v1h-1zM260 230h1v1h-1zM261 231h1v1h-1zM262 232h1v1h-1zM263 233h2v1h-2zM265 234h1v1h-1zM266 235h2v1h-2zM268 236h5v1h-5zM273 235h1v1h-1zM274 234h1v1h-1zM275 233h1v1h-1zM276 232h1v1h-1zM277 230h1v2h-1zM278 227h1v3h-1zM279 225h1v2h-1zM280 223h1v2h-1zM281 221h1v2h-1zM282 220h1v1h-1zM283 218h1v2h-1zM284 216h1v2h-1zM285 215h2v1h-2zM287 214h2v1h-2zM289 213h5v1h-5zM294 214h1v1h-1zM295 215h1v1h-1zM296 216h1v1h-1zM297 217h1v2h-1zM298 219h1v2h-1zM299 221h1v1h-1zM300 222h1v2h-1zM301 224h1v1h-1zM302 225h1v1h-1zM303 226h1v1h-1zM304 227h1v2h-1zM305 229h2v1h-2zM307 230h2v1h-2zM309 231h1v2h-1zM310 233h1v2h-1zM311 235h1v2h-1zM312 237h1v3h-1zM313 240h1v2h-1zM314 242h1v2h-1zM315 244h1v2h-1zM316 246h1v2h-1zM317 248h1v1h-1zM318 249h1v1h-1zM319 250h2v1h-2zM321 251h1v2h-1zM322 253h1v3h-1zM323 256h1v2h-1zM324 258h1v3h-1zM325 261h1v2h-1zM326 263h1v2h-1zM327 265h1v2h-1zM328 267h1v3h-1zM329 270h1v1h-1zM330 269h1v1h-1zM331 268h1v1h-1zM332 267h1v1h-1zM333 266h1v1h-1zM334 267h3v1h-3zM337 268h2v1h-2zM339 269h4v1h-4zM343 268h2v1h-2zM345 267h1v1h-1zM346 266h1v1h-1zM347 265h2v1h-2zM349 264h1v1h-1zM350 263h3v1h-3zM353 262h7v1h-7zM360 263h2v1h-2zM362 264h2v1h-2zM364 265h1v1h-1zM365 266h1v1h-1zM366 267h2v1h-2zM368 268h1v1h-1zM369 269h1v1h-1zM370 270h1v1h-1zM371 271h1v1h-1zM372 272h1v2h-1zM373 274h1v2h-1zM374 276h1v2h-1zM375 278h1v2h-1zM376 280h1v2h-1zM377 282h1v2h-1zM378 284h1v2h-1zM379 286h1v2h-1zM380 288h1v2h-1zM381 290h1v2h-1zM382 292h1v2h-1zM383 294h1v1h-1zM384 295h1v2h-1zM385 297h1v2h-1zM386 299h1v1h-1zM387 300h1v2h-1zM388 302h1v2h-1zM389 304h3v1h-3zM392 305h3v1h-3zM395 306h5v1h-5zM400 307h2v1h-2zM402 308h1v2h-1zM403 310h1v1h-1zM404 311h1v1h-1zM405 312h1v2h-1zM406 314h1v2h-1zM407 316h1v2h-1zM408 318h1v2h-1zM409 320h1v2h-1zM410 322h1v3h-1zM411 325h1v3h-1zM412 328h1v3h-1zM413 331h1v3h-1zM414 334h1v4h-1zM415 338h1v4h-1zM416 342h1v4h-1zM417 346h1v3h-1zM418 349h1v3h-1zM419 352h1v3h-1zM420 355h1v3h-1zM421 358h1v3h-1zM422 361h1v3h-1zM423 364h1v3h-1zM424 367h1v2h-1zM425 369h1v3h-1zM426 372h1v2h-1zM427 374h1v2h-1zM428 376h1v2h-1zM429 378h1v2h-1zM430 380h1v2h-1zM431 382h1v2h-1zM432 384h1v2h-1zM433 386h1v2h-1zM434 388h1v2h-1zM435 390h1v2h-1zM436 392h1v2h-1zM437 394h1v1h-1zM438 395h1v2h-1zM439 397h1v1h-1zM440 398h1v2h-1zM441 400h2v1h-2zM443 401h1v1h-1zM444 402h1v1h-1zM445 403h1v1h-1zM446 402h1v1h-1zM447 401h2v1h-2zM449 398h1v3h-1zM450 396h1v2h-1zM451 393h1v3h-1zM452 391h1v2h-1zM453 386h1v5h-1zM454 382h1v4h-1zM455 378h1v4h-1zM456 374h1v4h-1zM457 369h1v5h-1zM458 365h1v4h-1zM459 361h1v4h-1zM460 357h1v4h-1zM461 353h1v4h-1zM462 349h1v4h-1zM463 345h1v4h-1zM464 342h1v3h-1zM465 338h1v4h-1zM466 335h1v3h-1zM467 332h1v3h-1zM468 329h1v3h-1zM469 326h1v3h-1zM470 323h1v3h-1zM471 321h1v2h-1zM472 318h1v3h-1zM473 316h1v2h-1zM474 313h1v3h-1zM475 311h1v2h-1zM476 309h1v2h-1zM477 306h1v3h-1zM478 302h1v4h-1zM479 299h1v3h-1zM480 296h1v3h-1zM481 292h1v4h-1zM482 289h1v3h-1zM483 285h1v4h-1zM484 281h1v4h-1zM485 280h1v1h-1zM486 278h1v2h-1zM487 276h1v2h-1zM488 275h1v1h-1zM489 273h1v2h-1zM490 272h1v1h-1zM491 271h1v1h-1zM492 269h1v2h-1zM493 268h1v1h-1zM494 267h1v1h-1zM495 266h2v1h-2zM497 265h1v1h-1zM498 266h2v1h-2zM500 267h1v1h-1zM501 268h1v1h-1zM502 269h1v2h-1zM503 271h1v1h-1zM504 272h1v1h-1zM505 273h3v1h-3zM508 274h4v1h-4zM512 275h5v1h-5zM517 276h4v1h-4zM521 277h3v1h-3zM524 278h2v1h-2zM526 279h1v1h-1zM527 280h1v1h-1zM528 281h1v1h-1zM529 282h1v1h-1zM530 283h2v1h-2zM532 284h1v1h-1zM533 285h2v1h-2zM535 284h3v1h-3zM538 283h1v1h-1zM539 282h1v1h-1zM540 281h1v1h-1zM541 280h1v1h-1zM542 279h1v1h-1zM543 278h1v1h-1zM544 277h1v1h-1zM545 275h1v2h-1zM546 274h1v1h-1zM547 272h1v2h-1zM548 271h1v1h-1zM549 268h1v3h-1zM550 265h1v3h-1zM551 262h1v3h-1zM552 259h1v3h-1zM553 256h1v3h-1zM554 254h1v2h-1zM555 251h1v3h-1zM556 248h1v3h-1zM557 246h1v2h-1zM558 243h1v3h-1zM559 241h1v2h-1zM560 238h1v3h-1zM561 237h1v1h-1zM562 235h1v2h-1zM563 233h1v2h-1zM564 232h1v1h-1zM565 231h1v1h-1zM566 230h3v1h-3zM569 229h1v1h-1zM570 230h2v1h-2zM572 231h2v1h-2zM574 232h1v2h-1zM575 234h1v1h-1zM576 235h1v1h-1zM577 236h1v3h-1zM578 239h1v3h-1zM579 242h1v3h-1zM580 245h1v3h-1zM581 248h1v3h-1zM582 251h1v3h-1zM583 254h1v2h-1zM584 256h1v3h-1zM585 259h1v3h-1zM586 262h1v4h-1zM587 266h1v4h-1zM588 270h1v4h-1zM589 274h1v4h-1zM590 278h1v5h-1zM591 283h1v4h-1zM592 287h1v5h-1zM593 292h1v4h-1zM594 296h1v4h-1zM595 300h1v5h-1zM596 305h1v4h-1zM597 309h1v3h-1zM598 312h1v4h-1zM599 316h1v3h-1zM600 319h1v4h-1zM601 323h1v2h-1zM602 325h1v3h-1zM603 328h1v2h-1zM604 330h1v2h-1zM605 332h1v2h-1zM606 334h1v1h-1zM607 335h1v2h-1zM608 337h1v1h-1zM609 338h2v1h-2zM611 337h1v1h-1zM612 335h1v2h-1zM613 334h1v1h-1zM614 332h1v2h-1zM615 330h1v2h-1zM616 328h1v2h-1zM617 325h1v3h-1zM618 323h1v2h-1zM619 320h1v3h-1zM620 318h1v2h-1zM621 313h1v5h-1zM622 309h1v4h-1zM623 304h1v5h-1zM624 300h1v4h-1zM625 295h1v5h-1zM626 289h1v6h-1zM627 284h1v5h-1zM628 279h1v5h-1zM629 275h1v4h-1zM630 271h1v4h-1zM631 267h1v4h-1zM632 263h1v4h-1zM633 261h1v2h-1zM634 259h1v2h-1zM635 257h1v2h-1zM636 255h1v2h-1zM637 251h1v4h-1zM638 248h1v3h-1zM639 244h1v4h-1zM640 241h1v3h-1zM641 237h1v4h-1zM642 233h1v4h-1zM643 229h1v4h-1zM644 224h1v5h-1zM645 218h1v6h-1zM646 211h1v7h-1zM647 205h1v6h-1zM648 199h1v6h-1zM649 191h1v8h-1zM650 184h1v7h-1zM651 177h1v7h-1zM652 170h1v7h-1zM653 164h1v6h-1zM654 159h1v5h-1zM655 153h1v6h-1zM656 147h1v6h-1zM657 143h1v4h-1zM658 140h1v3h-1zM659 137h1v3h-1zM660 134h1v3h-1zM661 133h1v1h-1zM662 132h1v1h-1zM663 131h2v1h-2zM665 130h1v1h-1zM666 131h1v1h-1zM667 132h1v2h-1zM668 134h1v1h-1zM669 135h1v2h-1zM670 137h1v1h-1zM671 138h1v2h-1zM672 140h1v2h-1zM673 142h1v1h-1zM674 143h1v2h-1zM675 145h1v1h-1zM676 146h1v2h-1zM677 148h1v1h-1zM678 149h1v1h-1zM679 150h1v1h-1zM680 151h1v2h-1zM681 153h1v1h-1zM682 152h1v1h-1zM683 151h1v1h-1zM684 150h1v1h-1zM685 149h1v2h-1zM686 151h1v2h-1zM687 153h1v2h-1zM688 155h1v2h-1zM689 157h6v1h-6zM695 156h2v1h-2zM697 155h1v1h-1zM698 154h2v1h-2zM700 153h5v1h-5zM705 154h3v1h-3zM708 155h2v1h-2zM710 156h1v1h-1zM711 157h1v2h-1zM712 159h1v1h-1zM713 160h1v2h-1zM714 162h1v2h-1zM715 164h1v2h-1zM716 166h1v2h-1zM717 168h1v4h-1zM718 172h1v4h-1zM719 176h1v4h-1zM720 180h1v3h-1zM721 183h1v2h-1zM722 185h1v1h-1zM723 186h1v1h-1zM724 187h1v1h-1zM725 188h1v5h-1zM726 193h1v4h-1zM727 197h1v4h-1zM728 201h1v4h-1zM729 205h1v1h-1zM730 206h2v1h-2zM732 207h2v1h-2zM734 208h1v1h-1zM735 209h1v1h-1zM736 210h1v1h-1zM737 211h1v1h-1zM738 209h1v2h-1zM739 208h1v1h-1zM740 206h1v2h-1zM741 204h1v2h-1zM742 202h1v2h-1zM743 199h1v3h-1zM744 197h1v2h-1zM745 195h1v2h-1zM746 193h1v2h-1zM747 191h1v2h-1zM748 189h1v2h-1zM749 188h1v1h-1zM750 186h1v2h-1zM751 185h1v1h-1zM752 183h1v2h-1zM753 182h1v1h-1zM754 180h1v2h-1zM755 178h1v2h-1zM756 177h1v1h-1zM757 175h1v2h-1zM758 174h1v1h-1zM759 172h1v2h-1zM760 171h1v1h-1zM761 170h1v1h-1zM762 169h1v1h-1zM763 168h2v1h-2zM765 167h1v1h-1zM766 166h2v1h-2zM768 165h1v1h-1zM769 164h3v1h-3zM772 163h3v1h-3zM775 162h3v1h-3zM778 163h2v1h-2zM780 164h2v1h-2zM782 165h1v1h-1zM783 166h2v1h-2zM785 167h1v1h-1zM786 168h1v1h-1zM787 169h1v1h-1zM788 170h2v1h-2zM790 171h1v1h-1zM791 172h1v1h-1zM792 173h1v1h-1zM793 172h1v3h-1zM794 170h1v2h-1zM795 168h1v2h-1zM796 166h1v2h-1zM797 163h1v3h-1zM798 160h1v3h-1zM799 157h1v3h-1zM800 153h1v4h-1zM801 151h1v2h-1zM802 148h1v3h-1zM803 146h1v2h-1zM804 143h1v3h-1zM805 141h1v2h-1zM806 138h1v3h-1zM807 136h1v2h-1zM808 133h1v3h-1zM809 132h1v1h-1zM810 130h1v2h-1zM811 129h1v1h-1zM812 127h1v2h-1zM813 126h1v2h-1zM814 128h1v1h-1zM815 129h1v2h-1zM816 131h1v1h-1zM817 132h1v3h-1zM818 135h1v2h-1zM819 137h1v3h-1zM820 140h1v2h-1zM821 142h1v2h-1zM822 144h1v2h-1zM823 146h1v1h-1zM824 147h1v2h-1zM825 149h1v1h-1zM826 150h1v1h-1zM827 151h1v1h-1zM828 152h1v1h-1zM829 153h1v1h-1zM830 154h1v2h-1zM831 156h1v1h-1zM832 157h1v1h-1zM833 158h1v1h-1zM834 157h1v1h-1zM835 156h2v1h-2zM837 154h1v2h-1zM838 153h1v1h-1zM839 151h1v2h-1zM840 149h1v2h-1zM841 148h1v1h-1zM842 146h1v2h-1zM843 144h1v2h-1zM844 142h1v2h-1zM845 141h1v1h-1zM846 139h1v2h-1zM847 138h1v1h-1zM848 137h1v1h-1zM849 136h1v1h-1zM850 135h1v1h-1zM851 134h1v1h-1zM852 133h1v1h-1zM853 132h3v1h-3zM856 133h3v1h-3zM859 134h3v1h-3zM862 135h2v1h-2zM864 136h2v1h-2zM866 135h1v1h-1zM867 134h1v1h-1zM868 133h1v1h-1zM869 131h1v2h-1zM870 129h1v2h-1zM871 127h1v2h-1zM872 126h1v1h-1zM873 124h1v2h-1zM874 122h1v2h-1zM875 120h1v2h-1zM876 119h1v1h-1zM877 117h1v2h-1zM878 115h1v2h-1zM879 113h1v2h-1zM880 112h1v1h-1zM881 108h1v4h-1zM882 105h1v3h-1zM883 102h1v3h-1zM884 99h1v3h-1zM885 97h1v2h-1zM886 96h1v1h-1zM887 95h1v1h-1zM888 94h1v1h-1zM889 93h1v1h-1zM890 92h2v1h-2zM892 91h2v1h-2zM894 90h2v1h-2zM896 89h2v1h-2zM898 90h2v1h-2zM900 91h1v1h-1zM901 92h1v2h-1zM902 94h1v3h-1zM903 97h1v3h-1zM904 100h1v3h-1zM905 103h1v3h-1zM906 106h1v3h-1zM907 109h1v2h-1zM908 111h1v3h-1zM909 114h1v3h-1zM910 117h1v2h-1zM911 119h1v3h-1zM912 122h1v2h-1zM913 124h1v4h-1zM914 128h1v5h-1zM915 133h1v4h-1zM916 137h1v4h-1zM917 141h1v4h-1zM918 145h1v4h-1zM919 149h1v4h-1zM920 153h1v4h-1zM921 157h1v4h-1zM922 161h1v3h-1zM923 164h1v4h-1zM924 168h1v3h-1zM925 171h1v3h-1zM926 174h1v3h-1zM927 177h1v3h-1zM928 180h1v2h-1zM929 182h1v2h-1zM930 184h1v2h-1zM931 186h1v2h-1zM932 188h1v2h-1zM933 190h1v1h-1zM934 191h1v1h-1zM935 192h1v1h-1zM936 193h3v1h-3zM939 192h3v1h-3zM942 191h1v1h-1zM943 190h1v1h-1zM944 189h1v1h-1zM945 188h1v1h-1zM946 187h2v1h-2zM948 186h1v1h-1zM949 185h1v1h-1zM950 183h1v2h-1zM951 182h1v1h-1zM952 180h1v2h-1zM953 179h2v1h-2zM955 178h3v1h-3zM958 177h7v1h-7zM965 178h2v1h-2zM967 179h1v1h-1zM968 180h2v1h-2zM970 181h1v1h-1zM971 182h1v1h-1zM972 183h1v1h-1zM973 184h1v1h-1zM974 185h1v2h-1zM975 187h1v1h-1zM976 188h1v1h-1zM977 189h1v1h-1zM978 190h2v1h-2zM980 191h3v1h-3zM983 190h1v1h-1zM984 189h2v1h-2zM986 188h1v1h-1zM987 187h2v1h-2zM989 186h1v1h-1zM990 185h1v1h-1zM991 183h1v2h-1zM992 182h1v1h-1zM993 181h1v1h-1zM994 180h1v1h-1zM995 179h1v1h-1zM996 178h6v1h-6zM1002 179h1v1h-1zM1003 180h1v1h-1zM1004 181h1v1h-1zM1005 182h1v1h-1zM1006 183h1v1h-1zM1007 184h2v1h-2zM1009 185h1v1h-1zM1010 186h1v1h-1zM1011 187h2v1h-2zM1013 188h1v1h-1zM1014 189h2v1h-2zM1016 190h1v1h-1zM1017 191h1v2h-1zM1018 193h1v1h-1zM1019 194h1v2h-1zM1020 196h1v2h-1zM1021 198h1v4h-1zM1022 202h1v3h-1zM1023 205h1v4h-1zM1024 209h1v3h-1zM1025 212h1v5h-1zM1026 217h1v4h-1zM1027 221h1v5h-1zM1028 226h1v4h-1zM1029 230h1v4h-1zM1030 234h1v4h-1zM1031 238h1v4h-1zM1032 242h1v4h-1zM1033 246h1v3h-1zM1034 249h1v2h-1zM1035 251h1v3h-1zM1036 254h1v3h-1zM1037 257h1v1h-1zM1038 258h2v1h-2zM1040 259h1v1h-1zM1041 260h4v1h-4zM1045 261h5v1h-5zM1050 262h2v1h-2zM1052 263h1v1h-1zM1053 264h1v1h-1zM1054 265h1v1h-1zM1055 266h1v1h-1zM1056 267h1v1h-1zM1057 268h2v1h-2zM1059 269h1v1h-1zM1060 270h1v1h-1zM1061 271h2v1h-2zM1063 272h1v1h-1zM1064 273h1v1h-1zM1065 274h2v1h-2zM1067 275h1v1h-1zM1068 276h2v1h-2zM1070 277h2v1h-2zM1072 278h3v1h-3zM1075 277h1v1h-1zM1076 276h1v1h-1zM1077 275h1v1h-1zM1078 274h1v1h-1zM1079 273h1v1h-1zM1080 272h1v1h-1zM1081 270h1v2h-1zM1082 269h1v1h-1zM1083 267h1v2h-1zM1084 266h1v1h-1zM1085 264h1v2h-1zM1086 262h1v2h-1zM1087 260h1v2h-1zM1088 259h1v1h-1zM1089 258h1v1h-1zM1090 257h1v1h-1zM1091 256h1v1h-1zM1092 255h1v1h-1zM1093 254h9v1h-9zM1102 255h1v1h-1zM1103 256h1v1h-1zM1104 257h1v2h-1zM1105 259h1v1h-1zM1106 260h1v1h-1zM1107 261h1v1h-1zM1108 262h1v1h-1zM1109 263h1v1h-1zM1110 264h1v2h-1zM1111 266h1v1h-1zM1112 267h1v2h-1zM1113 269h1v1h-1zM1114 270h1v1h-1zM1115 271h1v1h-1zM1116 272h1v1h-1zM1117 273h1v2h-1zM1118 275h1v1h-1zM1119 276h1v2h-1zM1120 278h1v2h-1zM1121 280h1v3h-1zM1122 283h1v3h-1zM1123 286h1v4h-1zM1124 290h1v3h-1zM1125 293h1v2h-1zM1126 295h1v1h-1zM1127 296h1v2h-1zM1128 298h1v2h-1zM1129 300h1v1h-1zM1130 301h1v1h-1zM1131 302h1v1h-1zM1132 303h1v1h-1zM1133 304h1v1h-1zM1134 305h1v1h-1zM1135 306h1v1h-1zM1136 307h2v1h-2zM1138 308h1v1h-1zM1139 309h1v1h-1zM1140 310h1v1h-1zM1141 311h5v1h-5zM1146 312h1v1h-1zM1147 313h1v1h-1zM1148 314h1v1h-1zM1149 315h1v2h-1zM1150 317h1v1h-1zM1151 318h1v1h-1zM1152 319h1v2h-1zM1153 321h1v1h-1zM1154 322h1v1h-1zM1155 323h1v1h-1zM1156 324h1v1h-1zM1157 325h1v1h-1zM1158 326h2v1h-2zM1160 327h2v1h-2zM1162 328h1v1h-1zM1163 329h1v1h-1zM1164 330h1v1h-1zM1165 331h1v1h-1zM1166 332h1v2h-1zM1167 334h1v1h-1zM1168 335h1v1h-1zM1169 336h1v2h-1zM1170 338h1v2h-1zM1171 340h1v1h-1zM1172 341h1v2h-1zM1173 343h1v2h-1zM1174 345h1v1h-1zM1175 346h1v2h-1zM1176 348h1v2h-1zM1177 350h1v1h-1zM1178 351h1v1h-1zM1179 352h1v2h-1zM1180 354h1v1h-1zM1181 355h1v1h-1zM1182 356h3v1h-3zM1185 357h3v1h-3zM1188 358h6v1h-6zM1194 359h1v1h-1zM1195 360h2v1h-2zM1197 361h1v3h-1zM1198 364h1v2h-1zM1199 366h1v2h-1zM1200 368h1v3h-1zM1201 371h1v3h-1zM1202 374h1v3h-1zM1203 377h1v3h-1zM1204 380h1v3h-1zM1205 383h1v3h-1zM1206 386h1v3h-1zM1207 389h1v3h-1zM1208 392h1v4h-1zM1209 396h1v3h-1zM1210 399h1v3h-1zM1211 402h1v3h-1zM1212 405h1v3h-1zM1213 408h1v3h-1zM1214 411h1v3h-1zM1215 414h1v3h-1zM1216 417h1v3h-1zM1217 420h1v2h-1zM1218 422h1v2h-1zM1219 424h1v2h-1zM1220 426h1v2h-1zM1221 428h1v2h-1zM1222 430h1v1h-1zM1223 431h1v1h-1zM1224 432h1v1h-1zM1225 433h1v1h-1zM1226 434h1v1h-1zM1227 435h1v1h-1zM1228 436h1v1h-1zM1229 437h2v1h-2zM1231 438h1v1h-1zM1232 439h1v1h-1zM1233 440h5v1h-5zM1238 439h1v1h-1zM1239 438h2v1h-2zM1241 437h5v1h-5zM1246 438h1v1h-1zM1247 439h2v1h-2zM1249 440h1v1h-1zM1250 441h8v1h-8zM1258 442h1v2h-1zM1259 444h1v2h-1zM1260 446h1v1h-1zM1261 447h1v3h-1zM1262 450h1v3h-1zM1263 453h1v4h-1zM1264 457h1v3h-1zM1265 460h1v3h-1zM1266 463h1v4h-1zM1267 467h1v3h-1zM1268 470h1v3h-1zM1269 473h1v1h-1z" fill="#ffa500"/>
<rect x="4" y="27" width="1594" height="1" fill="#000000"/>
<rect x="4" y="532" width="1594" height="1" fill="#000000"/>
<rect x="4" y="27" width="1" height="506" fill="#000000"/>
<rect x="1597" y="27" width="1" height="506" fill="#000000"/>
<rect x="5" y="44" width="1593" height="2" fill="#ff0000"/>
<rect x="5" y="155" width="1593" height="2" fill="#ff0000"/>
<rect x="5" y="263" width="1593" height="2" fill="#00ff00"/>
<rect x="5" y="391" width="1593" height="2" fill="#0000ff"/>
<rect x="5" y="522" width="1593" height="2" fill="#0000ff"/>
<rect x="1598" y="34" width="2" height="1" fill="#000000"/>
<rect x="1598" y="67" width="2" height="1" fill="#000000"/>
<rect x="1598" y="100" width="2" height="1" fill="#000000"/>
<rect x="1598" y="133" width="2" height="1" fill="#000000"/>
<rect x="1598" y="166" width="2" height="1" fill="#000000"/>
<rect x="1598" y="199" width="2" height="1" fill="#000000"/>
<rect x="1598" y="232" width="2" height="1" fill="#000000"/>
<rect x="1598" y="265" width="2" height="1" fill="#000000"/>
<rect x="1598" y="298" width="2" height="1" fill="#000000"/>
<rect x="1598" y="331" width="2" height="1" fill="#000000"/>
<rect x="1598" y="364" width="2" height="1" fill="#000000"/>
<rect x="1598" y="397" width="2" height="1" fill="#000000"/>
<rect x="1598" y="430" width="2" height="1" fill="#000000"/>
<rect x="1598" y="463" width="2" height="1" fill="#000000"/>
<rect x="1598" y="496" width="2" height="1" fill="#000000"/>
<rect x="1598" y="529" width="2" height="1" fill="#000000"/>
<rect x="1599" y="39" width="41" height="11" fill="#ff0000"/>
<rect x="1599" y="150" width="41" height="11" fill="#ff0000"/>
<rect x="1599" y="258" width="41" height="11" fill="#00ff00"/>
<rect x="1599" y="386" width="41" height="11" fill="#0000ff"/>
<rect x="1599" y="517" width="41" height="11" fill="#0000ff"/>
<rect x="1599" y="497" width="41" height="11" fill="#000"/>
<polygon points="7.6,34 15.4,34 11.5,38.2" fill="#000" shape-rendering="geometricPrecision"/>
<rect x="6" y="562" width="3" height="1" fill="#c0c0c0"/>
<rect x="12" y="562" width="3" height="1" fill="#c0c0c0"/>
<rect x="18" y="562" width="3" height="1" fill="#c0c0c0"/>
<rect x="24" y="562" width="3" height="1" fill="#c0c0c0"/>
<rect x="30" y="562" width="3" height="1" fill="#c0c0c0"/>
<rect x="36" y="562" width="3" height="1" fill="#c0c0c0"/>
<rect x="42" y="562" width="3" height="1" fill="#c0c0c0"/>
<rect x="48" y="562" width="3" height="1" fill="#c0c0c0"/>
<rect x="54" y="562" width="3" height="1" fill="#c0c0c0"/>
<rect x="60" y="562" width="3" height="1" fill="#c0c0c0"/>
<rect x="66" y="562" width="3" height="1" fill="#c0c0c0"/>
<rect x="72" y="562" width="3" height="1" fill="#c0c0c0"/>
<rect x="78" y="562" width="3" height="1" fill="#c0c0c0"/>
<rect x="84" y="562" width="3" height="1" fill="#c0c0c0"/>
<rect x="90" y="562" width="3" height="1" fill="#c0c0c0"/>
<rect x="96" y="562" width="3" height="1" fill="#c0c0c0"/>
<rect x="102" y="562" width="3" height="1" fill="#c0c0c0"/>
<rect x="108" y="562" width="3" height="1" fill="#c0c0c0"/>
<rect x="114" y="562" width="3" height="1" fill="#c0c0c0"/>
<rect x="120" y="562" width="3" height="1" fill="#c0c0c0"/>
<rect x="126" y="562" width="3" height="1" fill="#c0c0c0"/>
<rect x="132" y="562" width="3" height="1" fill="#c0c0c0"/>
<rect x="138" y="562" width="3" height="1" fill="#c0c0c0"/>
<rect x="144" y="562" width="3" height="1" fill="#c0c0c0"/>
<rect x="150" y="562" width="3" height="1" fill="#c0c0c0"/>
<rect x="156" y="562" width="3" height="1" fill="#c0c0c0"/>
<rect x="162" y="562" width="3" height="1" fill="#c0c0c0"/>
<rect x="168" y="562" width="3" height="1" fill="#c0c0c0"/>
<rect x="174" y="562" width="3" height="1" fill="#c0c0c0"/>
<rect x="180" y="562" width="3" height="1" fill="#c0c0c0"/>
<rect x="186" y="562" width="3" height="1" fill="#c0c0c0"/>
<rect x="192" y="562" width="3" height="1" fill="#c0c0c0"/>
<rect x="198" y="562" width="3" height="1" fill="#c0c0c0"/>
<rect x="204" y="562" width="3" height="1" fill="#c0c0c0"/>
<rect x="210" y="562" width="3" height="1" fill="#c0c0c0"/>
<rect x="216" y="562" width="3" height="1" fill="#c0c0c0"/>
<rect x="222" y="562" width="3" height="1" fill="#c0c0c0"/>
<rect x="228" y="562" width="3" height="1" fill="#c0c0c0"/>
<rect x="234" y="562" width="3" height="1" fill="#c0c0c0"/>
<rect x="240" y="562" width="3" height="1" fill="#c0c0c0"/>
<rect x="246" y="562" width="3" height="1" fill="#c0c0c0"/>
<rect x="252" y="562" width="3" height="1" fill="#c0c0c0"/>
<rect x="258" y="562" width="3" height="1" fill="#c0c0c0"/>
<rect x="264" y="562" width="3" height="1" fill="#c0c0c0"/>
<rect x="270" y="562" width="3" height="1" fill="#c0c0c0"/>
<rect x="276" y="562" width="3" height="1" fill="#c0c0c0"/>
<rect x="282" y="562" width="3" height="1" fill="#c0c0c0"/>
<rect x="288" y="562" width="3" height="1" fill="#c0c0c0"/>
<rect x="294" y="562" width="3" height="1" fill="#c0c0c0"/>
<rect x="300" y="562" width="3" height="1" fill="#c0c0c0"/>
<rect x="306" y="562" width="3" height="1" fill="#c0c0c0"/>
<rect x="312" y="562" width="3" height="1" fill="#c0c0c0"/>
<rect x="318" y="562" width="3" height="1" fill="#c0c0c0"/>
<rect x="324" y="562" width="3" height="1" fill="#c0c0c0"/>
<rect x="330" y="562" width="3" height="1" fill="#c0c0c0"/>
<rect x="336" y="562" width="3" height="1" fill="#c0c0c0"/>
<rect x="342" y="562" width="3" height="1" fill="#c0c0c0"/>
<rect x="348" y="562" width="3" height="1" fill="#c0c0c0"/>
<rect x="354" y="562" width="3" height="1" fill="#c0c0c0"/>
<rect x="360" y="562" width="3" height="1" fill="#c0c0c0"/>
<rect x="366" y="562" width="3" height="1" fill="#c0c0c0"/>
<rect x="372" y="562" width="3" height="1" fill="#c0c0c0"/>
<rect x="378" y="562" width="3" height="1" fill="#c0c0c0"/>
<rect x="384" y="562" width="3" height="1" fill="#c0c0c0"/>
<rect x="390" y="562" width="3" height="1" fill="#c0c0c0"/>
<rect x="396" y="562" width="3" height="1" fill="#c0c0c0"/>
<rect x="402" y="562" width="3" height="1" fill="#c0c0c0"/>
<rect x="408" y="562" width="3" height="1" fill="#c0c0c0"/>
<rect x="414" y="562" width="3" height="1" fill="#c0c0c0"/>
<rect x="420" y="562" width="3" height="1" fill="#c0c0c0"/>
<rect x="426" y="562" width="3" height="1" fill="#c0c0c0"/>
<rect x="432" y="562" width="3" height="1" fill="#c0c0c0"/>
<rect x="438" y="562" width="3" height="1" fill="#c0c0c0"/>
<rect x="444" y="562" width="3" height="1" fill="#c0c0c0"/>
<rect x="450" y="562" width="3" height="1" fill="#c0c0c0"/>
<rect x="456" y="562" width="3" height="1" fill="#c0c0c0"/>
<rect x="462" y="562" width="3" height="1" fill="#c0c0c0"/>
<rect x="468" y="562" width="3" height="1" fill="#c0c0c0"/>
<rect x="474" y="562" width="3" height="1" fill="#c0c0c0"/>
<rect x="480" y="562" width="3" height="1" fill="#c0c0c0"/>
<rect x="486" y="562" width="3" height="1" fill="#c0c0c0"/>
<rect x="492" y="562" width="3" height="1" fill="#c0c0c0"/>
<rect x="498" y="562" width="3" height="1" fill="#c0c0c0"/>
<rect x="504" y="562" width="3" height="1" fill="#c0c0c0"/>
<rect x="510" y="562" width="3" height="1" fill="#c0c0c0"/>
<rect x="516" y="562" width="3" height="1" fill="#c0c0c0"/>
<rect x="522" y="562" width="3" height="1" fill="#c0c0c0"/>
<rect x="528" y="562" width="3" height="1" fill="#c0c0c0"/>
<rect x="534" y="562" width="3" height="1" fill="#c0c0c0"/>
<rect x="540" y="562" width="3" height="1" fill="#c0c0c0"/>
<rect x="546" y="562" width="3" height="1" fill="#c0c0c0"/>
<rect x="552" y="562" width="3" height="1" fill="#c0c0c0"/>
<rect x="558" y="562" width="3" height="1" fill="#c0c0c0"/>
<rect x="564" y="562" width="3" height="1" fill="#c0c0c0"/>
<rect x="570" y="562" width="3" height="1" fill="#c0c0c0"/>
<rect x="576" y="562" width="3" height="1" fill="#c0c0c0"/>
<rect x="582" y="562" width="3" height="1" fill="#c0c0c0"/>
<rect x="588" y="562" width="3" height="1" fill="#c0c0c0"/>
<rect x="594" y="562" width="3" height="1" fill="#c0c0c0"/>
<rect x="600" y="562" width="3" height="1" fill="#c0c0c0"/>
<rect x="606" y="562" width="3" height="1" fill="#c0c0c0"/>
<rect x="612" y="562" width="3" height="1" fill="#c0c0c0"/>
<rect x="618" y="562" width="3" height="1" fill="#c0c0c0"/>
<rect x="624" y="562" width="3" height="1" fill="#c0c0c0"/>
<rect x="630" y="562" width="3" height="1" fill="#c0c0c0"/>
<rect x="636" y="562" width="3" height="1" fill="#c0c0c0"/>
<rect x="642" y="562" width="3" height="1" fill="#c0c0c0"/>
<rect x="648" y="562" width="3" height="1" fill="#c0c0c0"/>
<rect x="654" y="562" width="3" height="1" fill="#c0c0c0"/>
<rect x="660" y="562" width="3" height="1" fill="#c0c0c0"/>
<rect x="666" y="562" width="3" height="1" fill="#c0c0c0"/>
<rect x="672" y="562" width="3" height="1" fill="#c0c0c0"/>
<rect x="678" y="562" width="3" height="1" fill="#c0c0c0"/>
<rect x="684" y="562" width="3" height="1" fill="#c0c0c0"/>
<rect x="690" y="562" width="3" height="1" fill="#c0c0c0"/>
<rect x="696" y="562" width="3" height="1" fill="#c0c0c0"/>
<rect x="702" y="562" width="3" height="1" fill="#c0c0c0"/>
<rect x="708" y="562" width="3" height="1" fill="#c0c0c0"/>
<rect x="714" y="562" width="3" height="1" fill="#c0c0c0"/>
<rect x="720" y="562" width="3" height="1" fill="#c0c0c0"/>
<rect x="726" y="562" width="3" height="1" fill="#c0c0c0"/>
<rect x="732" y="562" width="3" height="1" fill="#c0c0c0"/>
<rect x="738" y="562" width="3" height="1" fill="#c0c0c0"/>
<rect x="744" y="562" width="3" height="1" fill="#c0c0c0"/>
<rect x="750" y="562" width="3" height="1" fill="#c0c0c0"/>
<rect x="756" y="562" width="3" height="1" fill="#c0c0c0"/>
<rect x="762" y="562" width="3" height="1" fill="#c0c0c0"/>
<rect x="768" y="562" width="3" height="1" fill="#c0c0c0"/>
<rect x="774" y="562" width="3" height="1" fill="#c0c0c0"/>
<rect x="780" y="562" width="3" height="1" fill="#c0c0c0"/>
<rect x="786" y="562" width="3" height="1" fill="#c0c0c0"/>
<rect x="792" y="562" width="3" height="1" fill="#c0c0c0"/>
<rect x="798" y="562" width="3" height="1" fill="#c0c0c0"/>
<rect x="804" y="562" width="3" height="1" fill="#c0c0c0"/>
<rect x="810" y="562" width="3" height="1" fill="#c0c0c0"/>
<rect x="816" y="562" width="3" height="1" fill="#c0c0c0"/>
<rect x="822" y="562" width="3" height="1" fill="#c0c0c0"/>
<rect x="828" y="562" width="3" height="1" fill="#c0c0c0"/>
<rect x="834" y="562" width="3" height="1" fill="#c0c0c0"/>
<rect x="840" y="562" width="3" height="1" fill="#c0c0c0"/>
<rect x="846" y="562" width="3" height="1" fill="#c0c0c0"/>
<rect x="852" y="562" width="3" height="1" fill="#c0c0c0"/>
<rect x="858" y="562" width="3" height="1" fill="#c0c0c0"/>
<rect x="864" y="562" width="3" height="1" fill="#c0c0c0"/>
<rect x="870" y="562" width="3" height="1" fill="#c0c0c0"/>
<rect x="876" y="562" width="3" height="1" fill="#c0c0c0"/>
<rect x="882" y="562" width="3" height="1" fill="#c0c0c0"/>
<rect x="888" y="562" width="3" height="1" fill="#c0c0c0"/>
<rect x="894" y="562" width="3" height="1" fill="#c0c0c0"/>
<rect x="900" y="562" width="3" height="1" fill="#c0c0c0"/>
<rect x="906" y="562" width="3" height="1" fill="#c0c0c0"/>
<rect x="912" y="562" width="3" height="1" fill="#c0c0c0"/>
<rect x="918" y="562" width="3" height="1" fill="#c0c0c0"/>
<rect x="924" y="562" width="3" height="1" fill="#c0c0c0"/>
<rect x="930" y="562" width="3" height="1" fill="#c0c0c0"/>
<rect x="936" y="562" width="3" height="1" fill="#c0c0c0"/>
<rect x="942" y="562" width="3" height="1" fill="#c0c0c0"/>
<rect x="948" y="562" width="3" height="1" fill="#c0c0c0"/>
<rect x="954" y="562" width="3" height="1" fill="#c0c0c0"/>
<rect x="960" y="562" width="3" height="1" fill="#c0c0c0"/>
<rect x="966" y="562" width="3" height="1" fill="#c0c0c0"/>
<rect x="972" y="562" width="3" height="1" fill="#c0c0c0"/>
<rect x="978" y="562" width="3" height="1" fill="#c0c0c0"/>
<rect x="984" y="562" width="3" height="1" fill="#c0c0c0"/>
<rect x="990" y="562" width="3" height="1" fill="#c0c0c0"/>
<rect x="996" y="562" width="3" height="1" fill="#c0c0c0"/>
<rect x="1002" y="562" width="3" height="1" fill="#c0c0c0"/>
<rect x="1008" y="562" width="3" height="1" fill="#c0c0c0"/>
<rect x="1014" y="562" width="3" height="1" fill="#c0c0c0"/>
<rect x="1020" y="562" width="3" height="1" fill="#c0c0c0"/>
<rect x="1026" y="562" width="3" height="1" fill="#c0c0c0"/>
<rect x="1032" y="562" width="3" height="1" fill="#c0c0c0"/>
<rect x="1038" y="562" width="3" height="1" fill="#c0c0c0"/>
<rect x="1044" y="562" width="3" height="1" fill="#c0c0c0"/>
<rect x="1050" y="562" width="3" height="1" fill="#c0c0c0"/>
<rect x="1056" y="562" width="3" height="1" fill="#c0c0c0"/>
<rect x="1062" y="562" width="3" height="1" fill="#c0c0c0"/>
<rect x="1068" y="562" width="3" height="1" fill="#c0c0c0"/>
<rect x="1074" y="562" width="3" height="1" fill="#c0c0c0"/>
<rect x="1080" y="562" width="3" height="1" fill="#c0c0c0"/>
<rect x="1086" y="562" width="3" height="1" fill="#c0c0c0"/>
<rect x="1092" y="562" width="3" height="1" fill="#c0c0c0"/>
<rect x="1098" y="562" width="3" height="1" fill="#c0c0c0"/>
<rect x="1104" y="562" width="3" height="1" fill="#c0c0c0"/>
<rect x="1110" y="562" width="3" height="1" fill="#c0c0c0"/>
<rect x="1116" y="562" width="3" height="1" fill="#c0c0c0"/>
<rect x="1122" y="562" width="3" height="1" fill="#c0c0c0"/>
<rect x="1128" y="562" width="3" height="1" fill="#c0c0c0"/>
<rect x="1134" y="562" width="3" height="1" fill="#c0c0c0"/>
<rect x="1140" y="562" width="3" height="1" fill="#c0c0c0"/>
<rect x="1146" y="562" width="3" height="1" fill="#c0c0c0"/>
<rect x="1152" y="562" width="3" height="1" fill="#c0c0c0"/>
<rect x="1158" y="562" width="3" height="1" fill="#c0c0c0"/>
<rect x="1164" y="562" width="3" height="1" fill="#c0c0c0"/>
<rect x="1170" y="562" width="3" height="1" fill="#c0c0c0"/>
<rect x="1176" y="562" width="3" height="1" fill="#c0c0c0"/>
<rect x="1182" y="562" width="3" height="1" fill="#c0c0c0"/>
<rect x="1188" y="562" width="3" height="1" fill="#c0c0c0"/>
<rect x="1194" y="562" width="3" height="1" fill="#c0c0c0"/>
<rect x="1200" y="562" width="3" height="1" fill="#c0c0c0"/>
<rect x="1206" y="562" width="3" height="1" fill="#c0c0c0"/>
<rect x="1212" y="562" width="3" height="1" fill="#c0c0c0"/>
<rect x="1218" y="562" width="3" height="1" fill="#c0c0c0"/>
<rect x="1224" y="562" width="3" height="1" fill="#c0c0c0"/>
<rect x="1230" y="562" width="3" height="1" fill="#c0c0c0"/>
<rect x="1236" y="562" width="3" height="1" fill="#c0c0c0"/>
<rect x="1242" y="562" width="3" height="1" fill="#c0c0c0"/>
<rect x="1248" y="562" width="3" height="1" fill="#c0c0c0"/>
<rect x="1254" y="562" width="3" height="1" fill="#c0c0c0"/>
<rect x="1260" y="562" width="3" height="1" fill="#c0c0c0"/>
<rect x="1266" y="562" width="3" height="1" fill="#c0c0c0"/>
<rect x="1272" y="562" width="3" height="1" fill="#c0c0c0"/>
<rect x="1278" y="562" width="3" height="1" fill="#c0c0c0"/>
<rect x="1284" y="562" width="3" height="1" fill="#c0c0c0"/>
<rect x="1290" y="562" width="3" height="1" fill="#c0c0c0"/>
<rect x="1296" y="562" width="3" height="1" fill="#c0c0c0"/>
<rect x="1302" y="562" width="3" height="1" fill="#c0c0c0"/>
<rect x="1308" y="562" width="3" height="1" fill="#c0c0c0"/>
<rect x="1314" y="562" width="3" height="1" fill="#c0c0c0"/>
<rect x="1320" y="562" width="3" height="1" fill="#c0c0c0"/>
<rect x="1326" y="562" width="3" height="1" fill="#c0c0c0"/>
<rect x="1332" y="562" width="3" height="1" fill="#c0c0c0"/>
<rect x="1338" y="562" width="3" height="1" fill="#c0c0c0"/>
<rect x="1344" y="562" width="3" height="1" fill="#c0c0c0"/>
<rect x="1350" y="562" width="3" height="1" fill="#c0c0c0"/>
<rect x="1356" y="562" width="3" height="1" fill="#c0c0c0"/>
<rect x="1362" y="562" width="3" height="1" fill="#c0c0c0"/>
<rect x="1368" y="562" width="3" height="1" fill="#c0c0c0"/>
<rect x="1374" y="562" width="3" height="1" fill="#c0c0c0"/>
<rect x="1380" y="562" width="3" height="1" fill="#c0c0c0"/>
<rect x="1386" y="562" width="3" height="1" fill="#c0c0c0"/>
<rect x="1392" y="562" width="3" height="1" fill="#c0c0c0"/>
<rect x="1398" y="562" width="3" height="1" fill="#c0c0c0"/>
<rect x="1404" y="562" width="3" height="1" fill="#c0c0c0"/>
<rect x="1410" y="562" width="3" height="1" fill="#c0c0c0"/>
<rect x="1416" y="562" width="3" height="1" fill="#c0c0c0"/>
<rect x="1422" y="562" width="3" height="1" fill="#c0c0c0"/>
<rect x="1428" y="562" width="3" height="1" fill="#c0c0c0"/>
<rect x="1434" y="562" width="3" height="1" fill="#c0c0c0"/>
<rect x="1440" y="562" width="3" height="1" fill="#c0c0c0"/>
<rect x="1446" y="562" width="3" height="1" fill="#c0c0c0"/>
<rect x="1452" y="562" width="3" height="1" fill="#c0c0c0"/>
<rect x="1458" y="562" width="3" height="1" fill="#c0c0c0"/>
<rect x="1464" y="562" width="3" height="1" fill="#c0c0c0"/>
<rect x="1470" y="562" width="3" height="1" fill="#c0c0c0"/>
<rect x="1476" y="562" width="3" height="1" fill="#c0c0c0"/>
<rect x="1482" y="562" width="3" height="1" fill="#c0c0c0"/>
<rect x="1488" y="562" width="3" height="1" fill="#c0c0c0"/>
<rect x="1494" y="562" width="3" height="1" fill="#c0c0c0"/>
<rect x="1500" y="562" width="3" height="1" fill="#c0c0c0"/>
<rect x="1506" y="562" width="3" height="1" fill="#c0c0c0"/>
<rect x="1512" y="562" width="3" height="1" fill="#c0c0c0"/>
<rect x="1518" y="562" width="3" height="1" fill="#c0c0c0"/>
<rect x="1524" y="562" width="3" height="1" fill="#c0c0c0"/>
<rect x="1530" y="562" width="3" height="1" fill="#c0c0c0"/>
<rect x="1536" y="562" width="3" height="1" fill="#c0c0c0"/>
<rect x="1542" y="562" width="3" height="1" fill="#c0c0c0"/>
<rect x="1548" y="562" width="3" height="1" fill="#c0c0c0"/>
<rect x="1554" y="562" width="3" height="1" fill="#c0c0c0"/>
<rect x="1560" y="562" width="3" height="1" fill="#c0c0c0"/>
<rect x="1566" y="562" width="3" height="1" fill="#c0c0c0"/>
<rect x="1572" y="562" width="3" height="1" fill="#c0c0c0"/>
<rect x="1578" y="562" width="3" height="1" fill="#c0c0c0"/>
<rect x="1584" y="562" width="3" height="1" fill="#c0c0c0"/>
<rect x="1590" y="562" width="3" height="1" fill="#c0c0c0"/>
<rect x="1596" y="562" width="3" height="1" fill="#c0c0c0"/>
<rect x="6" y="598" width="3" height="1" fill="#c0c0c0"/>
<rect x="12" y="598" width="3" height="1" fill="#c0c0c0"/>
<rect x="18" y="598" width="3" height="1" fill="#c0c0c0"/>
<rect x="24" y="598" width="3" height="1" fill="#c0c0c0"/>
<rect x="30" y="598" width="3" height="1" fill="#c0c0c0"/>
<rect x="36" y="598" width="3" height="1" fill="#c0c0c0"/>
<rect x="42" y="598" width="3" height="1" fill="#c0c0c0"/>
<rect x="48" y="598" width="3" height="1" fill="#c0c0c0"/>
<rect x="54" y="598" width="3" height="1" fill="#c0c0c0"/>
<rect x="60" y="598" width="3" height="1" fill="#c0c0c0"/>
<rect x="66" y="598" width="3" height="1" fill="#c0c0c0"/>
<rect x="72" y="598" width="3" height="1" fill="#c0c0c0"/>
<rect x="78" y="598" width="3" height="1" fill="#c0c0c0"/>
<rect x="84" y="598" width="3" height="1" fill="#c0c0c0"/>
<rect x="90" y="598" width="3" height="1" fill="#c0c0c0"/>
<rect x="96" y="598" width="3" height="1" fill="#c0c0c0"/>
<rect x="102" y="598" width="3" height="1" fill="#c0c0c0"/>
<rect x="108" y="598" width="3" height="1" fill="#c0c0c0"/>
<rect x="114" y="598" width="3" height="1" fill="#c0c0c0"/>
<rect x="120" y="598" width="3" height="1" fill="#c0c0c0"/>
<rect x="126" y="598" width="3" height="1" fill="#c0c0c0"/>
<rect x="132" y="598" width="3" height="1" fill="#c0c0c0"/>
<rect x="138" y="598" width="3" height="1" fill="#c0c0c0"/>
<rect x="144" y="598" width="3" height="1" fill="#c0c0c0"/>
<rect x="150" y="598" width="3" height="1" fill="#c0c0c0"/>
<rect x="156" y="598" width="3" height="1" fill="#c0c0c0"/>
<rect x="162" y="598" width="3" height="1" fill="#c0c0c0"/>
<rect x="168" y="598" width="3" height="1" fill="#c0c0c0"/>
<rect x="174" y="598" width="3" height="1" fill="#c0c0c0"/>
<rect x="180" y="598" width="3" height="1" fill="#c0c0c0"/>
<rect x="186" y="598" width="3" height="1" fill="#c0c0c0"/>
<rect x="192" y="598" width="3" height="1" fill="#c0c0c0"/>
<rect x="198" y="598" width="3" height="1" fill="#c0c0c0"/>
<rect x="204" y="598" width="3" height="1" fill="#c0c0c0"/>
<rect x="210" y="598" width="3" height="1" fill="#c0c0c0"/>
<rect x="216" y="598" width="3" height="1" fill="#c0c0c0"/>
<rect x="222" y="598" width="3" height="1" fill="#c0c0c0"/>
<rect x="228" y="598" width="3" height="1" fill="#c0c0c0"/>
<rect x="234" y="598" width="3" height="1" fill="#c0c0c0"/>
<rect x="240" y="598" width="3" height="1" fill="#c0c0c0"/>
<rect x="246" y="598" width="3" height="1" fill="#c0c0c0"/>
<rect x="252" y="598" width="3" height="1" fill="#c0c0c0"/>
<rect x="258" y="598" width="3" height="1" fill="#c0c0c0"/>
<rect x="264" y="598" width="3" height="1" fill="#c0c0c0"/>
<rect x="270" y="598" width="3" height="1" fill="#c0c0c0"/>
<rect x="276" y="598" width="3" height="1" fill="#c0c0c0"/>
<rect x="282" y="598" width="3" height="1" fill="#c0c0c0"/>
<rect x="288" y="598" width="3" height="1" fill="#c0c0c0"/>
<rect x="294" y="598" width="3" height="1" fill="#c0c0c0"/>
<rect x="300" y="598" width="3" height="1" fill="#c0c0c0"/>
<rect x="306" y="598" width="3" height="1" fill="#c0c0c0"/>
<rect x="312" y="598" width="3" height="1" fill="#c0c0c0"/>
<rect x="318" y="598" width="3" height="1" fill="#c0c0c0"/>
<rect x="324" y="598" width="3" height="1" fill="#c0c0c0"/>
<rect x="330" y="598" width="3" height="1" fill="#c0c0c0"/>
<rect x="336" y="598" width="3" height="1" fill="#c0c0c0"/>
<rect x="342" y="598" width="3" height="1" fill="#c0c0c0"/>
<rect x="348" y="598" width="3" height="1" fill="#c0c0c0"/>
<rect x="354" y="598" width="3" height="1" fill="#c0c0c0"/>
<rect x="360" y="598" width="3" height="1" fill="#c0c0c0"/>
<rect x="366" y="598" width="3" height="1" fill="#c0c0c0"/>
<rect x="372" y="598" width="3" height="1" fill="#c0c0c0"/>
<rect x="378" y="598" width="3" height="1" fill="#c0c0c0"/>
<rect x="384" y="598" width="3" height="1" fill="#c0c0c0"/>
<rect x="390" y="598" width="3" height="1" fill="#c0c0c0"/>
<rect x="396" y="598" width="3" height="1" fill="#c0c0c0"/>
<rect x="402" y="598" width="3" height="1" fill="#c0c0c0"/>
<rect x="408" y="598" width="3" height="1" fill="#c0c0c0"/>
<rect x="414" y="598" width="3" height="1" fill="#c0c0c0"/>
<rect x="420" y="598" width="3" height="1" fill="#c0c0c0"/>
<rect x="426" y="598" width="3" height="1" fill="#c0c0c0"/>
<rect x="432" y="598" width="3" height="1" fill="#c0c0c0"/>
<rect x="438" y="598" width="3" height="1" fill="#c0c0c0"/>
<rect x="444" y="598" width="3" height="1" fill="#c0c0c0"/>
<rect x="450" y="598" width="3" height="1" fill="#c0c0c0"/>
<rect x="456" y="598" width="3" height="1" fill="#c0c0c0"/>
<rect x="462" y="598" width="3" height="1" fill="#c0c0c0"/>
<rect x="468" y="598" width="3" height="1" fill="#c0c0c0"/>
<rect x="474" y="598" width="3" height="1" fill="#c0c0c0"/>
<rect x="480" y="598" width="3" height="1" fill="#c0c0c0"/>
<rect x="486" y="598" width="3" height="1" fill="#c0c0c0"/>
<rect x="492" y="598" width="3" height="1" fill="#c0c0c0"/>
<rect x="498" y="598" width="3" height="1" fill="#c0c0c0"/>
<rect x="504" y="598" width="3" height="1" fill="#c0c0c0"/>
<rect x="510" y="598" width="3" height="1" fill="#c0c0c0"/>
<rect x="516" y="598" width="3" height="1" fill="#c0c0c0"/>
<rect x="522" y="598" width="3" height="1" fill="#c0c0c0"/>
<rect x="528" y="598" width="3" height="1" fill="#c0c0c0"/>
<rect x="534" y="598" width="3" height="1" fill="#c0c0c0"/>
<rect x="540" y="598" width="3" height="1" fill="#c0c0c0"/>
<rect x="546" y="598" width="3" height="1" fill="#c0c0c0"/>
<rect x="552" y="598" width="3" height="1" fill="#c0c0c0"/>
<rect x="558" y="598" width="3" height="1" fill="#c0c0c0"/>
<rect x="564" y="598" width="3" height="1" fill="#c0c0c0"/>
<rect x="570" y="598" width="3" height="1" fill="#c0c0c0"/>
<rect x="576" y="598" width="3" height="1" fill="#c0c0c0"/>
<rect x="582" y="598" width="3" height="1" fill="#c0c0c0"/>
<rect x="588" y="598" width="3" height="1" fill="#c0c0c0"/>
<rect x="594" y="598" width="3" height="1" fill="#c0c0c0"/>
<rect x="600" y="598" width="3" height="1" fill="#c0c0c0"/>
<rect x="606" y="598" width="3" height="1" fill="#c0c0c0"/>
<rect x="612" y="598" width="3" height="1" fill="#c0c0c0"/>
<rect x="618" y="598" width="3" height="1" fill="#c0c0c0"/>
<rect x="624" y="598" width="3" height="1" fill="#c0c0c0"/>
<rect x="630" y="598" width="3" height="1" fill="#c0c0c0"/>
<rect x="636" y="598" width="3" height="1" fill="#c0c0c0"/>
<rect x="642" y="598" width="3" height="1" fill="#c0c0c0"/>
<rect x="648" y="598" width="3" height="1" fill="#c0c0c0"/>
<rect x="654" y="598" width="3" height="1" fill="#c0c0c0"/>
<rect x="660" y="598" width="3" height="1" fill="#c0c0c0"/>
<rect x="666" y="598" width="3" height="1" fill="#c0c0c0"/>
<rect x="672" y="598" width="3" height="1" fill="#c0c0c0"/>
<rect x="678" y="598" width="3" height="1" fill="#c0c0c0"/>
<rect x="684" y="598" width="3" height="1" fill="#c0c0c0"/>
<rect x="690" y="598" width="3" height="1" fill="#c0c0c0"/>
<rect x="696" y="598" width="3" height="1" fill="#c0c0c0"/>
<rect x="702" y="598" width="3" height="1" fill="#c0c0c0"/>
<rect x="708" y="598" width="3" height="1" fill="#c0c0c0"/>
<rect x="714" y="598" width="3" height="1" fill="#c0c0c0"/>
<rect x="720" y="598" width="3" height="1" fill="#c0c0c0"/>
<rect x="726" y="598" width="3" height="1" fill="#c0c0c0"/>
<rect x="732" y="598" width="3" height="1" fill="#c0c0c0"/>
<rect x="738" y="598" width="3" height="1" fill="#c0c0c0"/>
<rect x="744" y="598" width="3" height="1" fill="#c0c0c0"/>
<rect x="750" y="598" width="3" height="1" fill="#c0c0c0"/>
<rect x="756" y="598" width="3" height="1" fill="#c0c0c0"/>
<rect x="762" y="598" width="3" height="1" fill="#c0c0c0"/>
<rect x="768" y="598" width="3" height="1" fill="#c0c0c0"/>
<rect x="774" y="598" width="3" height="1" fill="#c0c0c0"/>
<rect x="780" y="598" width="3" height="1" fill="#c0c0c0"/>
<rect x="786" y="598" width="3" height="1" fill="#c0c0c0"/>
<rect x="792" y="598" width="3" height="1" fill="#c0c0c0"/>
<rect x="798" y="598" width="3" height="1" fill="#c0c0c0"/>
<rect x="804" y="598" width="3" height="1" fill="#c0c0c0"/>
<rect x="810" y="598" width="3" height="1" fill="#c0c0c0"/>
<rect x="816" y="598" width="3" height="1" fill="#c0c0c0"/>
<rect x="822" y="598" width="3" height="1" fill="#c0c0c0"/>
<rect x="828" y="598" width="3" height="1" fill="#c0c0c0"/>
<rect x="834" y="598" width="3" height="1" fill="#c0c0c0"/>
<rect x="840" y="598" width="3" height="1" fill="#c0c0c0"/>
<rect x="846" y="598" width="3" height="1" fill="#c0c0c0"/>
<rect x="852" y="598" width="3" height="1" fill="#c0c0c0"/>
<rect x="858" y="598" width="3" height="1" fill="#c0c0c0"/>
<rect x="864" y="598" width="3" height="1" fill="#c0c0c0"/>
<rect x="870" y="598" width="3" height="1" fill="#c0c0c0"/>
<rect x="876" y="598" width="3" height="1" fill="#c0c0c0"/>
<rect x="882" y="598" width="3" height="1" fill="#c0c0c0"/>
<rect x="888" y="598" width="3" height="1" fill="#c0c0c0"/>
<rect x="894" y="598" width="3" height="1" fill="#c0c0c0"/>
<rect x="900" y="598" width="3" height="1" fill="#c0c0c0"/>
<rect x="906" y="598" width="3" height="1" fill="#c0c0c0"/>
<rect x="912" y="598" width="3" height="1" fill="#c0c0c0"/>
<rect x="918" y="598" width="3" height="1" fill="#c0c0c0"/>
<rect x="924" y="598" width="3" height="1" fill="#c0c0c0"/>
<rect x="930" y="598" width="3" height="1" fill="#c0c0c0"/>
<rect x="936" y="598" width="3" height="1" fill="#c0c0c0"/>
<rect x="942" y="598" width="3" height="1" fill="#c0c0c0"/>
<rect x="948" y="598" width="3" height="1" fill="#c0c0c0"/>
<rect x="954" y="598" width="3" height="1" fill="#c0c0c0"/>
<rect x="960" y="598" width="3" height="1" fill="#c0c0c0"/>
<rect x="966" y="598" width="3" height="1" fill="#c0c0c0"/>
<rect x="972" y="598" width="3" height="1" fill="#c0c0c0"/>
<rect x="978" y="598" width="3" height="1" fill="#c0c0c0"/>
<rect x="984" y="598" width="3" height="1" fill="#c0c0c0"/>
<rect x="990" y="598" width="3" height="1" fill="#c0c0c0"/>
<rect x="996" y="598" width="3" height="1" fill="#c0c0c0"/>
<rect x="1002" y="598" width="3" height="1" fill="#c0c0c0"/>
<rect x="1008" y="598" width="3" height="1" fill="#c0c0c0"/>
<rect x="1014" y="598" width="3" height="1" fill="#c0c0c0"/>
<rect x="1020" y="598" width="3" height="1" fill="#c0c0c0"/>
<rect x="1026" y="598" width="3" height="1" fill="#c0c0c0"/>
<rect x="1032" y="598" width="3" height="1" fill="#c0c0c0"/>
<rect x="1038" y="598" width="3" height="1" fill="#c0c0c0"/>
<rect x="1044" y="598" width="3" height="1" fill="#c0c0c0"/>
<rect x="1050" y="598" width="3" height="1" fill="#c0c0c0"/>
<rect x="1056" y="598" width="3" height="1" fill="#c0c0c0"/>
<rect x="1062" y="598" width="3" height="1" fill="#c0c0c0"/>
<rect x="1068" y="598" width="3" height="1" fill="#c0c0c0"/>
<rect x="1074" y="598" width="3" height="1" fill="#c0c0c0"/>
<rect x="1080" y="598" width="3" height="1" fill="#c0c0c0"/>
<rect x="1086" y="598" width="3" height="1" fill="#c0c0c0"/>
<rect x="1092" y="598" width="3" height="1" fill="#c0c0c0"/>
<rect x="1098" y="598" width="3" height="1" fill="#c0c0c0"/>
<rect x="1104" y="598" width="3" height="1" fill="#c0c0c0"/>
<rect x="1110" y="598" width="3" height="1" fill="#c0c0c0"/>
<rect x="1116" y="598" width="3" height="1" fill="#c0c0c0"/>
<rect x="1122" y="598" width="3" height="1" fill="#c0c0c0"/>
<rect x="1128" y="598" width="3" height="1" fill="#c0c0c0"/>
<rect x="1134" y="598" width="3" height="1" fill="#c0c0c0"/>
<rect x="1140" y="598" width="3" height="1" fill="#c0c0c0"/>
<rect x="1146" y="598" width="3" height="1" fill="#c0c0c0"/>
<rect x="1152" y="598" width="3" height="1" fill="#c0c0c0"/>
<rect x="1158" y="598" width="3" height="1" fill="#c0c0c0"/>
<rect x="1164" y="598" width="3" height="1" fill="#c0c0c0"/>
<rect x="1170" y="598" width="3" height="1" fill="#c0c0c0"/>
<rect x="1176" y="598" width="3" height="1" fill="#c0c0c0"/>
<rect x="1182" y="598" width="3" height="1" fill="#c0c0c0"/>
<rect x="1188" y="598" width="3" height="1" fill="#c0c0c0"/>
<rect x="1194" y="598" width="3" height="1" fill="#c0c0c0"/>
<rect x="1200" y="598" width="3" height="1" fill="#c0c0c0"/>
<rect x="1206" y="598" width="3" height="1" fill="#c0c0c0"/>
<rect x="1212" y="598" width="3" height="1" fill="#c0c0c0"/>
<rect x="1218" y="598" width="3" height="1" fill="#c0c0c0"/>
<rect x="1224" y="598" width="3" height="1" fill="#c0c0c0"/>
<rect x="1230" y="598" width="3" height="1" fill="#c0c0c0"/>
<rect x="1236" y="598" width="3" height="1" fill="#c0c0c0"/>
<rect x="1242" y="598" width="3" height="1" fill="#c0c0c0"/>
<rect x="1248" y="598" width="3" height="1" fill="#c0c0c0"/>
<rect x="1254" y="598" width="3" height="1" fill="#c0c0c0"/>
<rect x="1260" y="598" width="3" height="1" fill="#c0c0c0"/>
<rect x="1266" y="598" width="3" height="1" fill="#c0c0c0"/>
<rect x="1272" y="598" width="3" height="1" fill="#c0c0c0"/>
<rect x="1278" y="598" width="3" height="1" fill="#c0c0c0"/>
<rect x="1284" y="598" width="3" height="1" fill="#c0c0c0"/>
<rect x="1290" y="598" width="3" height="1" fill="#c0c0c0"/>
<rect x="1296" y="598" width="3" height="1" fill="#c0c0c0"/>
<rect x="1302" y="598" width="3" height="1" fill="#c0c0c0"/>
<rect x="1308" y="598" width="3" height="1" fill="#c0c0c0"/>
<rect x="1314" y="598" width="3" height="1" fill="#c0c0c0"/>
<rect x="1320" y="598" width="3" height="1" fill="#c0c0c0"/>
<rect x="1326" y="598" width="3" height="1" fill="#c0c0c0"/>
<rect x="1332" y="598" width="3" height="1" fill="#c0c0c0"/>
<rect x="1338" y="598" width="3" height="1" fill="#c0c0c0"/>
<rect x="1344" y="598" width="3" height="1" fill="#c0c0c0"/>
<rect x="1350" y="598" width="3" height="1" fill="#c0c0c0"/>
<rect x="1356" y="598" width="3" height="1" fill="#c0c0c0"/>
<rect x="1362" y="598" width="3" height="1" fill="#c0c0c0"/>
<rect x="1368" y="598" width="3" height="1" fill="#c0c0c0"/>
<rect x="1374" y="598" width="3" height="1" fill="#c0c0c0"/>
<rect x="1380" y="598" width="3" height="1" fill="#c0c0c0"/>
<rect x="1386" y="598" width="3" height="1" fill="#c0c0c0"/>
<rect x="1392" y="598" width="3" height="1" fill="#c0c0c0"/>
<rect x="1398" y="598" width="3" height="1" fill="#c0c0c0"/>
<rect x="1404" y="598" width="3" height="1" fill="#c0c0c0"/>
<rect x="1410" y="598" width="3" height="1" fill="#c0c0c0"/>
<rect x="1416" y="598" width="3" height="1" fill="#c0c0c0"/>
<rect x="1422" y="598" width="3" height="1" fill="#c0c0c0"/>
<rect x="1428" y="598" width="3" height="1" fill="#c0c0c0"/>
<rect x="1434" y="598" width="3" height="1" fill="#c0c0c0"/>
<rect x="1440" y="598" width="3" height="1" fill="#c0c0c0"/>
<rect x="1446" y="598" width="3" height="1" fill="#c0c0c0"/>
<rect x="1452" y="598" width="3" height="1" fill="#c0c0c0"/>
<rect x="1458" y="598" width="3" height="1" fill="#c0c0c0"/>
<rect x="1464" y="598" width="3" height="1" fill="#c0c0c0"/>
<rect x="1470" y="598" width="3" height="1" fill="#c0c0c0"/>
<rect x="1476" y="598" width="3" height="1" fill="#c0c0c0"/>
<rect x="1482" y="598" width="3" height="1" fill="#c0c0c0"/>
<rect x="1488" y="598" width="3" height="1" fill="#c0c0c0"/>
<rect x="1494" y="598" width="3" height="1" fill="#c0c0c0"/>
<rect x="1500" y="598" width="3" height="1" fill="#c0c0c0"/>
<rect x="1506" y="598" width="3" height="1" fill="#c0c0c0"/>
<rect x="1512" y="598" width="3" height="1" fill="#c0c0c0"/>
<rect x="1518" y="598" width="3" height="1" fill="#c0c0c0"/>
<rect x="1524" y="598" width="3" height="1" fill="#c0c0c0"/>
<rect x="1530" y="598" width="3" height="1" fill="#c0c0c0"/>
<rect x="1536" y="598" width="3" height="1" fill="#c0c0c0"/>
<rect x="1542" y="598" width="3" height="1" fill="#c0c0c0"/>
<rect x="1548" y="598" width="3" height="1" fill="#c0c0c0"/>
<rect x="1554" y="598" width="3" height="1" fill="#c0c0c0"/>
<rect x="1560" y="598" width="3" height="1" fill="#c0c0c0"/>
<rect x="1566" y="598" width="3" height="1" fill="#c0c0c0"/>
<rect x="1572" y="598" width="3" height="1" fill="#c0c0c0"/>
<rect x="1578" y="598" width="3" height="1" fill="#c0c0c0"/>
<rect x="1584" y="598" width="3" height="1" fill="#c0c0c0"/>
<rect x="1590" y="598" width="3" height="1" fill="#c0c0c0"/>
<rect x="1596" y="598" width="3" height="1" fill="#c0c0c0"/>
<path d="M5 592h2v1h-2zM7 591h1v1h-1zM8 590h2v1h-2zM10 588h1v2h-1zM11 587h1v1h-1zM12 586h1v1h-1zM13 585h1v1h-1zM14 584h1v1h-1zM15 583h1v1h-1zM16 582h1v1h-1zM17 581h2v1h-2zM19 582h3v1h-3zM22 581h2v1h-2zM24 580h1v1h-1zM25 579h1v1h-1zM26 580h2v1h-2zM28 581h2v1h-2zM30 580h1v1h-1zM31 579h1v1h-1zM32 577h1v2h-1zM33 576h9v1h-9zM42 575h2v1h-2zM44 574h1v1h-1zM45 573h4v1h-4zM49 574h1v1h-1zM50 573h2v1h-2zM52 572h2v1h-2zM54 571h2v1h-2zM56 570h5v1h-5zM61 571h1v1h-1zM62 570h8v1h-8zM70 571h1v1h-1zM71 572h1v2h-1zM72 574h1v1h-1zM73 575h1v1h-1zM74 576h1v2h-1zM75 578h1v1h-1zM76 579h1v1h-1zM77 580h1v1h-1zM78 581h2v1h-2zM80 582h2v1h-2zM82 581h1v1h-1zM83 579h1v2h-1zM84 578h1v1h-1zM85 576h1v2h-1zM86 575h1v1h-1zM87 574h1v1h-1zM88 572h1v2h-1zM89 571h2v1h-2zM91 572h1v1h-1zM92 573h1v1h-1zM93 574h1v2h-1zM94 576h1v2h-1zM95 578h1v2h-1zM96 580h1v3h-1zM97 583h1v1h-1zM98 584h1v1h-1zM99 585h1v1h-1zM100 586h1v1h-1zM101 587h1v1h-1zM102 588h3v1h-3zM105 589h4v1h-4zM109 590h1v1h-1zM110 589h2v1h-2zM112 588h1v1h-1zM113 587h1v1h-1zM114 586h1v1h-1zM115 585h1v1h-1zM116 584h1v1h-1zM117 583h2v1h-2zM119 584h1v1h-1zM120 585h2v1h-2zM122 586h3v1h-3zM125 587h6v1h-6zM131 588h3v1h-3zM134 589h1v1h-1zM135 588h2v1h-2zM137 587h2v1h-2zM139 588h2v1h-2zM141 589h1v1h-1zM142 590h1v1h-1zM143 589h2v1h-2zM145 588h2v1h-2zM147 589h2v1h-2zM149 590h2v1h-2zM151 591h2v1h-2zM153 592h2v1h-2zM155 591h1v1h-1zM156 590h1v1h-1zM157 589h1v1h-1zM158 588h6v1h-6zM164 589h2v1h-2zM166 590h1v1h-1zM167 591h2v1h-2zM169 592h1v1h-1zM170 593h2v1h-2zM172 594h2v1h-2zM174 595h1v1h-1zM175 594h2v1h-2zM177 593h2v1h-2zM179 594h1v1h-1zM180 595h1v1h-1zM181 596h1v1h-1zM182 597h1v1h-1zM183 598h1v1h-1zM184 599h1v1h-1zM185 600h1v1h-1zM186 601h1v1h-1zM187 602h4v1h-4zM191 603h1v1h-1zM192 604h2v1h-2zM194 604h1v2h-1zM195 602h1v2h-1zM196 600h1v2h-1zM197 598h1v2h-1zM198 597h3v1h-3zM201 597h1v2h-1zM202 595h1v2h-1zM203 593h1v2h-1zM204 591h1v2h-1zM205 590h5v1h-5zM210 588h1v2h-1zM211 587h1v1h-1zM212 586h1v1h-1zM213 585h4v1h-4zM217 585h1v2h-1zM218 587h1v1h-1zM219 588h1v2h-1zM220 590h1v1h-1zM221 591h4v1h-4zM225 590h1v2h-1zM226 588h1v2h-1zM227 586h1v2h-1zM228 584h1v2h-1zM229 583h2v1h-2zM231 582h3v1h-3zM234 581h1v1h-1zM235 580h2v1h-2zM237 579h2v1h-2zM239 580h2v1h-2zM241 581h1v1h-1zM242 580h1v1h-1zM243 579h2v1h-2zM245 578h1v1h-1zM246 577h4v1h-4zM250 578h1v1h-1zM251 579h1v1h-1zM252 580h2v1h-2zM254 581h1v1h-1zM255 582h1v1h-1zM256 583h1v1h-1zM257 584h1v1h-1zM258 585h4v1h-4zM262 584h1v1h-1zM263 583h1v1h-1zM264 582h1v1h-1zM265 581h9v1h-9zM274 580h1v1h-1zM275 579h1v1h-1zM276 578h1v1h-1zM277 576h1v2h-1zM278 574h1v2h-1zM279 572h1v2h-1zM280 570h1v2h-1zM281 569h1v1h-1zM282 569h1v2h-1zM283 571h1v2h-1zM284 573h1v2h-1zM285 575h1v2h-1zM286 577h2v1h-2zM288 578h2v1h-2zM290 579h1v1h-1zM291 580h1v1h-1zM292 581h2v1h-2zM294 582h1v1h-1zM295 583h1v1h-1zM296 584h3v1h-3zM299 583h1v1h-1zM300 582h1v1h-1zM301 581h2v1h-2zM303 582h5v1h-5zM308 581h2v1h-2zM310 582h1v4h-1zM311 586h1v3h-1zM312 589h1v3h-1zM313 592h1v1h-1zM314 591h1v3h-1zM315 589h1v2h-1zM316 586h1v3h-1zM317 585h1v1h-1zM318 584h1v1h-1zM319 585h3v1h-3zM322 586h1v1h-1zM323 587h1v1h-1zM324 588h2v1h-2zM326 589h4v1h-4zM330 588h2v1h-2zM332 587h1v1h-1zM333 586h2v1h-2zM335 585h5v1h-5zM340 586h6v1h-6zM346 585h2v1h-2zM348 584h1v1h-1zM349 583h4v1h-4zM353 584h4v1h-4zM357 585h2v1h-2zM359 586h1v1h-1zM360 587h1v1h-1zM361 588h1v1h-1zM362 589h1v1h-1zM363 588h1v1h-1zM364 587h5v1h-5zM369 588h1v1h-1zM370 589h2v1h-2zM372 590h1v1h-1zM373 591h1v1h-1zM374 592h1v1h-1zM375 593h2v1h-2zM377 594h1v1h-1zM378 595h2v1h-2zM380 596h1v1h-1zM381 597h3v1h-3zM384 596h2v1h-2zM386 595h2v1h-2zM388 594h6v1h-6zM394 593h1v1h-1zM395 592h1v1h-1zM396 591h1v1h-1zM397 590h1v1h-1zM398 591h1v2h-1zM399 593h1v2h-1zM400 595h1v2h-1zM401 597h1v1h-1zM402 598h4v1h-4zM406 599h2v1h-2zM408 600h1v1h-1zM409 601h2v1h-2zM411 602h1v1h-1zM412 603h2v1h-2zM414 604h4v1h-4zM418 605h1v1h-1zM419 606h2v1h-2zM421 607h1v1h-1zM422 608h4v1h-4zM426 607h1v1h-1zM427 606h2v1h-2zM429 605h3v1h-3zM432 606h2v1h-2zM434 607h2v1h-2zM436 608h7v1h-7zM443 607h2v1h-2zM445 605h1v2h-1zM446 601h1v4h-1zM447 596h1v5h-1zM448 592h1v4h-1zM449 589h1v3h-1zM450 588h2v1h-2zM452 587h2v1h-2zM454 585h1v2h-1zM455 583h1v2h-1zM456 580h1v3h-1zM457 579h1v1h-1zM458 578h1v1h-1zM459 579h2v1h-2zM461 580h5v1h-5zM466 576h1v4h-1zM467 572h1v4h-1zM468 568h1v4h-1zM469 567h1v1h-1zM470 568h1v1h-1zM471 569h2v1h-2zM473 570h1v1h-1zM474 571h2v1h-2zM476 572h3v1h-3zM479 570h1v2h-1zM480 569h1v1h-1zM481 568h1v1h-1zM482 567h6v1h-6zM488 568h2v1h-2zM490 567h1v1h-1zM491 566h2v1h-2zM493 565h1v1h-1zM494 564h1v3h-1zM495 567h1v2h-1zM496 569h1v2h-1zM497 571h1v2h-1zM498 573h1v1h-1zM499 574h1v1h-1zM500 575h1v1h-1zM501 576h1v1h-1zM502 577h1v1h-1zM503 576h3v1h-3zM506 575h1v1h-1zM507 574h1v1h-1zM508 573h1v1h-1zM509 572h1v1h-1zM510 571h1v1h-1zM511 570h3v1h-3zM514 570h1v2h-1zM515 572h1v1h-1zM516 573h1v1h-1zM517 574h1v2h-1zM518 576h1v1h-1zM519 577h1v1h-1zM520 578h1v1h-1zM521 579h1v1h-1zM522 580h2v1h-2zM524 579h3v1h-3zM527 578h2v1h-2zM529 577h2v1h-2zM531 576h2v1h-2zM533 575h6v1h-6zM539 576h1v1h-1zM540 577h1v1h-1zM541 578h2v1h-2zM543 577h1v1h-1zM544 576h1v1h-1zM545 575h1v1h-1zM546 574h1v1h-1zM547 573h2v1h-2zM549 572h1v1h-1zM550 571h1v2h-1zM551 570h1v1h-1zM552 568h1v2h-1zM553 567h1v1h-1zM554 566h3v1h-3zM557 567h6v1h-6zM563 568h1v1h-1zM564 569h2v1h-2zM566 570h1v1h-1zM567 571h2v1h-2zM569 572h3v1h-3zM572 571h2v1h-2zM574 571h1v2h-1zM575 573h1v2h-1zM576 575h1v2h-1zM577 577h1v2h-1zM578 579h1v1h-1zM579 580h1v1h-1zM580 581h1v1h-1zM581 582h1v1h-1zM582 583h3v1h-3zM585 584h1v1h-1zM586 585h1v1h-1zM587 586h1v1h-1zM588 587h1v1h-1zM589 588h1v1h-1zM590 589h1v1h-1zM591 590h1v2h-1zM592 592h1v1h-1zM593 593h1v1h-1zM594 594h1v1h-1zM595 595h1v1h-1zM596 596h1v1h-1zM597 597h1v1h-1zM598 595h1v2h-1zM599 594h1v1h-1zM600 592h1v2h-1zM601 591h3v1h-3zM604 592h6v1h-6zM610 591h1v1h-1zM611 589h1v2h-1zM612 588h1v1h-1zM613 587h1v1h-1zM614 586h1v1h-1zM615 585h1v1h-1zM616 584h1v1h-1zM617 583h4v1h-4zM621 581h1v4h-1zM622 577h1v4h-1zM623 573h1v4h-1zM624 569h1v4h-1zM625 568h1v1h-1zM626 569h1v1h-1zM627 570h2v1h-2zM629 571h1v1h-1zM630 570h3v1h-3zM633 571h1v2h-1zM634 573h1v1h-1zM635 574h1v2h-1zM636 576h1v2h-1zM637 578h1v1h-1zM638 576h1v2h-1zM639 575h1v1h-1zM640 574h1v1h-1zM641 572h1v2h-1zM642 571h1v1h-1zM643 569h1v2h-1zM644 567h1v2h-1zM645 566h1v1h-1zM646 565h1v1h-1zM647 563h1v2h-1zM648 562h1v1h-1zM649 561h1v1h-1zM650 560h1v1h-1zM651 561h1v1h-1zM652 562h2v1h-2zM654 563h7v1h-7zM661 564h1v2h-1zM662 566h1v2h-1zM663 568h1v2h-1zM664 570h1v1h-1zM665 571h1v1h-1zM666 572h1v1h-1zM667 570h1v2h-1zM668 569h1v1h-1zM669 568h1v1h-1zM670 568h1v2h-1zM671 570h1v2h-1zM672 572h1v2h-1zM673 574h1v1h-1zM674 575h1v1h-1zM675 574h1v1h-1zM676 573h3v1h-3zM679 574h1v1h-1zM680 575h1v1h-1zM681 576h1v1h-1zM682 575h1v1h-1zM683 574h1v1h-1zM684 573h1v1h-1zM685 572h1v1h-1zM686 573h1v1h-1zM687 574h1v1h-1zM688 575h1v2h-1zM689 577h1v1h-1zM690 576h2v1h-2zM692 575h1v1h-1zM693 574h1v1h-1zM694 575h2v1h-2zM696 576h1v1h-1zM697 577h1v1h-1zM698 576h1v1h-1zM699 575h2v1h-2zM701 574h5v1h-5zM706 575h4v1h-4zM710 576h1v2h-1zM711 578h1v2h-1zM712 580h1v2h-1zM713 582h1v1h-1zM714 583h1v1h-1zM715 582h1v1h-1zM716 581h3v1h-3zM719 582h2v1h-2zM721 583h3v1h-3zM724 584h6v1h-6zM730 583h2v1h-2zM732 582h4v1h-4zM736 583h2v1h-2zM738 582h1v2h-1zM739 581h1v1h-1zM740 580h1v1h-1zM741 579h1v1h-1zM742 578h2v1h-2zM744 577h5v1h-5zM749 578h3v1h-3zM752 579h4v1h-4zM756 578h2v1h-2zM758 577h1v1h-1zM759 576h1v1h-1zM760 575h1v1h-1zM761 574h3v1h-3zM764 575h2v1h-2zM766 576h1v1h-1zM767 577h1v1h-1zM768 578h1v1h-1zM769 579h2v1h-2zM771 578h1v1h-1zM772 577h1v1h-1zM773 576h4v1h-4zM777 577h7v1h-7zM784 578h1v1h-1zM785 579h3v1h-3zM788 580h3v1h-3zM791 581h3v1h-3zM794 579h1v3h-1zM795 575h1v4h-1zM796 572h1v3h-1zM797 570h1v2h-1zM798 569h7v1h-7zM805 570h2v1h-2zM807 571h1v1h-1zM808 572h1v1h-1zM809 573h1v1h-1zM810 574h1v1h-1zM811 573h2v1h-2zM813 572h1v2h-1zM814 574h1v2h-1zM815 576h1v1h-1zM816 577h1v2h-1zM817 579h1v1h-1zM818 580h1v1h-1zM819 581h2v1h-2zM821 582h1v1h-1zM822 581h2v1h-2zM824 580h2v1h-2zM826 579h2v1h-2zM828 578h1v1h-1zM829 577h1v1h-1zM830 578h2v1h-2zM832 579h3v1h-3zM835 578h2v1h-2zM837 577h1v1h-1zM838 576h2v1h-2zM840 575h2v1h-2zM842 574h2v1h-2zM844 573h1v1h-1zM845 572h3v1h-3zM848 573h2v1h-2zM850 574h2v1h-2zM852 575h1v1h-1zM853 576h1v1h-1zM854 577h2v1h-2zM856 578h2v1h-2zM858 579h1v1h-1zM859 580h3v1h-3zM862 579h1v2h-1zM863 578h1v1h-1zM864 576h1v2h-1zM865 575h1v1h-1zM866 574h1v1h-1zM867 573h1v1h-1zM868 572h1v1h-1zM869 571h1v1h-1zM870 570h2v1h-2zM872 571h9v1h-9zM881 570h1v2h-1zM882 568h1v2h-1zM883 566h1v2h-1zM884 564h1v2h-1zM885 563h1v2h-1zM886 565h1v2h-1zM887 567h1v3h-1zM888 570h1v2h-1zM889 572h1v1h-1zM890 573h1v1h-1zM891 572h4v1h-4zM895 573h2v1h-2zM897 574h1v1h-1zM898 575h1v1h-1zM899 576h1v1h-1zM900 577h1v1h-1zM901 578h1v2h-1zM902 580h1v1h-1zM903 581h1v1h-1zM904 582h1v1h-1zM905 583h1v1h-1zM906 584h2v1h-2zM908 583h5v1h-5zM913 584h1v2h-1zM914 586h1v2h-1zM915 588h1v1h-1zM916 589h1v2h-1zM917 591h1v1h-1zM918 592h5v1h-5zM923 593h2v1h-2zM925 594h1v1h-1zM926 593h1v1h-1zM927 591h1v2h-1zM928 590h1v1h-1zM929 589h2v1h-2zM931 590h1v1h-1zM932 591h1v1h-1zM933 592h2v1h-2zM935 591h1v1h-1zM936 590h1v1h-1zM937 589h2v1h-2zM939 588h2v1h-2zM941 587h1v1h-1zM942 586h2v1h-2zM944 585h12v1h-12zM956 586h4v1h-4zM960 585h4v1h-4zM964 586h2v1h-2zM966 587h4v1h-4zM970 588h2v1h-2zM972 589h1v1h-1zM973 590h1v1h-1zM974 591h2v1h-2zM976 592h2v1h-2zM978 590h1v2h-1zM979 589h1v1h-1zM980 587h1v2h-1zM981 585h1v2h-1zM982 584h2v1h-2zM984 583h1v1h-1zM985 582h2v1h-2zM987 581h9v1h-9zM996 582h1v1h-1zM997 583h2v1h-2zM999 584h1v1h-1zM1000 585h1v1h-1zM1001 586h1v1h-1zM1002 587h3v1h-3zM1005 588h1v1h-1zM1006 587h2v1h-2zM1008 586h5v1h-5zM1013 587h4v1h-4zM1017 587h1v2h-1zM1018 589h1v3h-1zM1019 592h1v3h-1zM1020 595h1v4h-1zM1021 599h2v1h-2zM1023 600h2v1h-2zM1025 601h2v1h-2zM1027 602h2v1h-2zM1029 603h3v1h-3zM1032 604h2v1h-2zM1034 602h1v2h-1zM1035 601h1v1h-1zM1036 599h1v2h-1zM1037 598h2v1h-2zM1039 597h4v1h-4zM1043 598h2v1h-2zM1045 599h1v1h-1zM1046 598h1v1h-1zM1047 596h1v2h-1zM1048 595h1v1h-1zM1049 594h1v1h-1zM1050 595h1v1h-1zM1051 596h1v1h-1zM1052 597h1v2h-1zM1053 599h3v1h-3zM1056 598h3v1h-3zM1059 597h2v1h-2zM1061 596h2v1h-2zM1063 597h8v1h-8zM1071 598h2v1h-2zM1073 598h1v2h-1zM1074 595h1v3h-1zM1075 592h1v3h-1zM1076 589h1v3h-1zM1077 588h1v1h-1zM1078 587h2v1h-2zM1080 588h1v1h-1zM1081 587h1v2h-1zM1082 585h1v2h-1zM1083 583h1v2h-1zM1084 581h1v2h-1zM1085 580h1v1h-1zM1086 579h1v1h-1zM1087 580h1v1h-1zM1088 581h1v1h-1zM1089 582h1v1h-1zM1090 583h1v1h-1zM1091 584h1v1h-1zM1092 585h1v1h-1zM1093 586h3v1h-3zM1096 587h6v1h-6zM1102 586h1v1h-1zM1103 585h1v1h-1zM1104 584h1v1h-1zM1105 583h1v2h-1zM1106 585h1v2h-1zM1107 587h1v2h-1zM1108 589h1v2h-1zM1109 591h1v1h-1zM1110 590h2v1h-2zM1112 589h6v1h-6zM1118 590h3v1h-3zM1121 591h1v2h-1zM1122 593h1v1h-1zM1123 594h1v2h-1zM1124 596h1v2h-1zM1125 598h1v1h-1zM1126 599h1v1h-1zM1127 597h1v2h-1zM1128 596h1v1h-1zM1129 594h1v2h-1zM1130 593h1v1h-1zM1131 591h1v2h-1zM1132 590h1v1h-1zM1133 589h1v1h-1zM1134 588h5v1h-5zM1139 589h2v1h-2zM1141 590h1v1h-1zM1142 591h2v1h-2zM1144 592h1v1h-1zM1145 593h1v1h-1zM1146 594h3v1h-3zM1149 595h1v1h-1zM1150 594h1v1h-1zM1151 593h1v1h-1zM1152 592h1v1h-1zM1153 591h4v1h-4zM1157 592h6v1h-6zM1163 593h1v1h-1zM1164 594h2v1h-2zM1166 595h1v1h-1zM1167 596h1v1h-1zM1168 597h2v1h-2zM1170 598h3v1h-3zM1173 597h6v1h-6zM1179 596h1v1h-1zM1180 595h1v1h-1zM1181 594h1v1h-1zM1182 593h1v1h-1zM1183 592h4v1h-4zM1187 593h1v1h-1zM1188 594h1v1h-1zM1189 595h5v1h-5zM1194 596h1v1h-1zM1195 597h1v2h-1zM1196 599h1v1h-1zM1197 600h5v1h-5zM1202 601h1v1h-1zM1203 602h1v1h-1zM1204 603h1v1h-1zM1205 604h6v1h-6zM1211 605h2v1h-2zM1213 606h2v1h-2zM1215 607h2v1h-2zM1217 608h3v1h-3zM1220 607h2v1h-2zM1222 605h1v2h-1zM1223 604h1v1h-1zM1224 602h1v2h-1zM1225 601h1v1h-1zM1226 600h3v1h-3zM1229 601h4v1h-4zM1233 602h4v1h-4zM1237 602h1v2h-1zM1238 600h1v2h-1zM1239 597h1v3h-1zM1240 595h1v2h-1zM1241 594h2v1h-2zM1243 595h1v1h-1zM1244 596h2v1h-2zM1246 597h3v1h-3zM1249 598h1v1h-1zM1250 597h2v1h-2zM1252 596h6v1h-6zM1258 597h1v1h-1zM1259 598h1v2h-1zM1260 600h1v1h-1zM1261 601h1v1h-1zM1262 602h1v1h-1zM1263 603h1v1h-1zM1264 604h1v1h-1zM1265 605h1v1h-1zM1266 606h1v1h-1zM1267 605h3v1h-3z" fill="#1e90ff"/>
<rect x="4" y="534" width="1594" height="1" fill="#000000"/>
<rect x="4" y="626" width="1594" height="1" fill="#000000"/>
<rect x="4" y="534" width="1" height="93" fill="#000000"/>
<rect x="1597" y="534" width="1" height="93" fill="#000000"/>
<rect x="1598" y="536" width="1" height="1" fill="#000000"/>
<rect x="1598" y="562" width="2" height="1" fill="#000000"/>
<rect x="1598" y="598" width="2" height="1" fill="#000000"/>
<rect x="1598" y="625" width="1" height="1" fill="#000000"/>
<rect x="5" y="671" width="1" height="7" fill="#c0c0c0"/>
<rect x="9" y="677" width="1" height="1" fill="#c0c0c0"/>
<rect x="13" y="677" width="1" height="1" fill="#c0c0c0"/>
<rect x="17" y="677" width="1" height="1" fill="#c0c0c0"/>
<rect x="21" y="677" width="1" height="1" fill="#c0c0c0"/>
<rect x="25" y="677" width="1" height="1" fill="#c0c0c0"/>
<rect x="29" y="677" width="1" height="1" fill="#c0c0c0"/>
<rect x="33" y="677" width="1" height="1" fill="#c0c0c0"/>
<rect x="37" y="675" width="1" height="3" fill="#c0c0c0"/>
<rect x="41" y="673" width="1" height="5" fill="#c0c0c0"/>
<rect x="45" y="671" width="1" height="7" fill="#c0c0c0"/>
<rect x="49" y="669" width="1" height="9" fill="#c0c0c0"/>
<rect x="53" y="667" width="1" height="11" fill="#c0c0c0"/>
<rect x="57" y="665" width="1" height="13" fill="#c0c0c0"/>
<rect x="61" y="664" width="1" height="14" fill="#c0c0c0"/>
<rect x="65" y="662" width="1" height="16" fill="#c0c0c0"/>
<rect x="69" y="661" width="1" height="17" fill="#c0c0c0"/>
<rect x="73" y="662" width="1" height="16" fill="#c0c0c0"/>
<rect x="77" y="665" width="1" height="13" fill="#c0c0c0"/>
<rect x="81" y="668" width="1" height="10" fill="#c0c0c0"/>
<rect x="85" y="668" width="1" height="10" fill="#c0c0c0"/>
<rect x="89" y="666" width="1" height="12" fill="#c0c0c0"/>
<rect x="93" y="665" width="1" height="13" fill="#c0c0c0"/>
<rect x="97" y="668" width="1" height="10" fill="#c0c0c0"/>
<rect x="101" y="674" width="1" height="4" fill="#c0c0c0"/>
<rect x="105" y="677" width="1" height="1" fill="#c0c0c0"/>
<rect x="109" y="677" width="1" height="5" fill="#c0c0c0"/>
<rect x="113" y="677" width="1" height="7" fill="#c0c0c0"/>
<rect x="117" y="677" width="1" height="7" fill="#c0c0c0"/>
<rect x="121" y="677" width="1" height="8" fill="#c0c0c0"/>
<rect x="125" y="677" width="1" height="9" fill="#c0c0c0"/>
<rect x="129" y="677" width="1" height="10" fill="#c0c0c0"/>
<rect x="133" y="677" width="1" height="12" fill="#c0c0c0"/>
<rect x="137" y="677" width="1" height="12" fill="#c0c0c0"/>
<rect x="141" y="677" width="1" height="14" fill="#c0c0c0"/>
<rect x="145" y="677" width="1" height="14" fill="#c0c0c0"/>
<rect x="149" y="677" width="1" height="14" fill="#c0c0c0"/>
<rect x="153" y="677" width="1" height="16" fill="#c0c0c0"/>
<rect x="157" y="677" width="1" height="15" fill="#c0c0c0"/>
<rect x="161" y="677" width="1" height="16" fill="#c0c0c0"/>
<rect x="165" y="677" width="1" height="16" fill="#c0c0c0"/>
<rect x="169" y="677" width="1" height="16" fill="#c0c0c0"/>
<rect x="173" y="677" width="1" height="17" fill="#c0c0c0"/>
<rect x="177" y="677" width="1" height="18" fill="#c0c0c0"/>
<rect x="181" y="677" width="1" height="20" fill="#c0c0c0"/>
<rect x="185" y="677" width="1" height="22" fill="#c0c0c0"/>
<rect x="189" y="677" width="1" height="25" fill="#c0c0c0"/>
<rect x="193" y="677" width="1" height="29" fill="#c0c0c0"/>
<rect x="197" y="677" width="1" height="30" fill="#c0c0c0"/>
<rect x="201" y="677" width="1" height="31" fill="#c0c0c0"/>
<rect x="205" y="677" width="1" height="29" fill="#c0c0c0"/>
<rect x="209" y="677" width="1" height="27" fill="#c0c0c0"/>
<rect x="213" y="677" width="1" height="25" fill="#c0c0c0"/>
<rect x="217" y="677" width="1" height="22" fill="#c0c0c0"/>
<rect x="221" y="677" width="1" height="22" fill="#c0c0c0"/>
<rect x="225" y="677" width="1" height="21" fill="#c0c0c0"/>
<rect x="229" y="677" width="1" height="19" fill="#c0c0c0"/>
<rect x="233" y="677" width="1" height="17" fill="#c0c0c0"/>
<rect x="237" y="677" width="1" height="14" fill="#c0c0c0"/>
<rect x="241" y="677" width="1" height="11" fill="#c0c0c0"/>
<rect x="245" y="677" width="1" height="9" fill="#c0c0c0"/>
<rect x="249" y="677" width="1" height="7" fill="#c0c0c0"/>
<rect x="253" y="677" width="1" height="6" fill="#c0c0c0"/>
<rect x="257" y="677" width="1" height="6" fill="#c0c0c0"/>
<rect x="261" y="677" width="1" height="6" fill="#c0c0c0"/>
<rect x="265" y="677" width="1" height="6" fill="#c0c0c0"/>
<rect x="269" y="677" width="1" height="6" fill="#c0c0c0"/>
<rect x="273" y="677" width="1" height="5" fill="#c0c0c0"/>
<rect x="277" y="677" width="1" height="4" fill="#c0c0c0"/>
<rect x="281" y="677" width="1" height="1" fill="#c0c0c0"/>
<rect x="285" y="675" width="1" height="3" fill="#c0c0c0"/>
<rect x="289" y="675" width="1" height="3" fill="#c0c0c0"/>
<rect x="293" y="676" width="1" height="2" fill="#c0c0c0"/>
<rect x="297" y="677" width="1" height="1" fill="#c0c0c0"/>
<rect x="301" y="677" width="1" height="1" fill="#c0c0c0"/>
<rect x="305" y="677" width="1" height="1" fill="#c0c0c0"/>
<rect x="309" y="677" width="1" height="2" fill="#c0c0c0"/>
<rect x="313" y="677" width="1" height="6" fill="#c0c0c0"/>
<rect x="317" y="677" width="1" height="7" fill="#c0c0c0"/>
<rect x="321" y="677" width="1" height="8" fill="#c0c0c0"/>
<rect x="325" y="677" width="1" height="10" fill="#c0c0c0"/>
<rect x="329" y="677" width="1" height="12" fill="#c0c0c0"/>
<rect x="333" y="677" width="1" height="11" fill="#c0c0c0"/>
<rect x="337" y="677" width="1" height="12" fill="#c0c0c0"/>
<rect x="341" y="677" width="1" height="11" fill="#c0c0c0"/>
<rect x="345" y="677" width="1" height="10" fill="#c0c0c0"/>
<rect x="349" y="677" width="1" height="9" fill="#c0c0c0"/>
<rect x="353" y="677" width="1" height="9" fill="#c0c0c0"/>
<rect x="357" y="677" width="1" height="10" fill="#c0c0c0"/>
<rect x="361" y="677" width="1" height="11" fill="#c0c0c0"/>
<rect x="365" y="677" width="1" height="11" fill="#c0c0c0"/>
<rect x="369" y="677" width="1" height="11" fill="#c0c0c0"/>
<rect x="373" y="677" width="1" height="12" fill="#c0c0c0"/>
<rect x="377" y="677" width="1" height="14" fill="#c0c0c0"/>
<rect x="381" y="677" width="1" height="16" fill="#c0c0c0"/>
<rect x="385" y="677" width="1" height="18" fill="#c0c0c0"/>
<rect x="389" y="677" width="1" height="17" fill="#c0c0c0"/>
<rect x="393" y="677" width="1" height="17" fill="#c0c0c0"/>
<rect x="397" y="677" width="1" height="17" fill="#c0c0c0"/>
<rect x="401" y="677" width="1" height="19" fill="#c0c0c0"/>
<rect x="405" y="677" width="1" height="20" fill="#c0c0c0"/>
<rect x="409" y="677" width="1" height="22" fill="#c0c0c0"/>
<rect x="413" y="677" width="1" height="25" fill="#c0c0c0"/>
<rect x="417" y="677" width="1" height="27" fill="#c0c0c0"/>
<rect x="421" y="677" width="1" height="30" fill="#c0c0c0"/>
<rect x="425" y="677" width="1" height="33" fill="#c0c0c0"/>
<rect x="429" y="677" width="1" height="33" fill="#c0c0c0"/>
<rect x="433" y="677" width="1" height="35" fill="#c0c0c0"/>
<rect x="437" y="677" width="1" height="37" fill="#c0c0c0"/>
<rect x="441" y="677" width="1" height="38" fill="#c0c0c0"/>
<rect x="445" y="677" width="1" height="38" fill="#c0c0c0"/>
<rect x="449" y="677" width="1" height="35" fill="#c0c0c0"/>
<rect x="453" y="677" width="1" height="31" fill="#c0c0c0"/>
<rect x="457" y="677" width="1" height="25" fill="#c0c0c0"/>
<rect x="461" y="677" width="1" height="21" fill="#c0c0c0"/>
<rect x="465" y="677" width="1" height="17" fill="#c0c0c0"/>
<rect x="469" y="677" width="1" height="10" fill="#c0c0c0"/>
<rect x="473" y="677" width="1" height="5" fill="#c0c0c0"/>
<rect x="477" y="677" width="1" height="2" fill="#c0c0c0"/>
<rect x="481" y="673" width="1" height="5" fill="#c0c0c0"/>
<rect x="485" y="669" width="1" height="9" fill="#c0c0c0"/>
<rect x="489" y="665" width="1" height="13" fill="#c0c0c0"/>
<rect x="493" y="661" width="1" height="17" fill="#c0c0c0"/>
<rect x="497" y="661" width="1" height="17" fill="#c0c0c0"/>
<rect x="501" y="662" width="1" height="16" fill="#c0c0c0"/>
<rect x="505" y="663" width="1" height="15" fill="#c0c0c0"/>
<rect x="509" y="662" width="1" height="16" fill="#c0c0c0"/>
<rect x="513" y="660" width="1" height="18" fill="#c0c0c0"/>
<rect x="517" y="662" width="1" height="16" fill="#c0c0c0"/>
<rect x="521" y="662" width="1" height="16" fill="#c0c0c0"/>
<rect x="525" y="665" width="1" height="13" fill="#c0c0c0"/>
<rect x="529" y="666" width="1" height="12" fill="#c0c0c0"/>
<rect x="533" y="666" width="1" height="12" fill="#c0c0c0"/>
<rect x="537" y="665" width="1" height="13" fill="#c0c0c0"/>
<rect x="541" y="666" width="1" height="12" fill="#c0c0c0"/>
<rect x="545" y="666" width="1" height="12" fill="#c0c0c0"/>
<rect x="549" y="664" width="1" height="14" fill="#c0c0c0"/>
<rect x="553" y="661" width="1" height="17" fill="#c0c0c0"/>
<rect x="557" y="659" width="1" height="19" fill="#c0c0c0"/>
<rect x="561" y="657" width="1" height="21" fill="#c0c0c0"/>
<rect x="565" y="657" width="1" height="21" fill="#c0c0c0"/>
<rect x="569" y="658" width="1" height="20" fill="#c0c0c0"/>
<rect x="573" y="658" width="1" height="20" fill="#c0c0c0"/>
<rect x="577" y="660" width="1" height="18" fill="#c0c0c0"/>
<rect x="581" y="664" width="1" height="14" fill="#c0c0c0"/>
<rect x="585" y="667" width="1" height="11" fill="#c0c0c0"/>
<rect x="589" y="672" width="1" height="6" fill="#c0c0c0"/>
<rect x="593" y="677" width="1" height="1" fill="#c0c0c0"/>
<rect x="597" y="677" width="1" height="7" fill="#c0c0c0"/>
<rect x="601" y="677" width="1" height="10" fill="#c0c0c0"/>
<rect x="605" y="677" width="1" height="13" fill="#c0c0c0"/>
<rect x="609" y="677" width="1" height="15" fill="#c0c0c0"/>
<rect x="613" y="677" width="1" height="14" fill="#c0c0c0"/>
<rect x="617" y="677" width="1" height="13" fill="#c0c0c0"/>
<rect x="621" y="677" width="1" height="12" fill="#c0c0c0"/>
<rect x="625" y="677" width="1" height="4" fill="#c0c0c0"/>
<rect x="629" y="677" width="1" height="1" fill="#c0c0c0"/>
<rect x="633" y="673" width="1" height="5" fill="#c0c0c0"/>
<rect x="637" y="672" width="1" height="6" fill="#c0c0c0"/>
<rect x="641" y="669" width="1" height="9" fill="#c0c0c0"/>
<rect x="645" y="662" width="1" height="16" fill="#c0c0c0"/>
<rect x="649" y="651" width="1" height="27" fill="#c0c0c0"/>
<rect x="653" y="644" width="1" height="34" fill="#c0c0c0"/>
<rect x="657" y="638" width="1" height="40" fill="#c0c0c0"/>
<rect x="661" y="635" width="1" height="43" fill="#c0c0c0"/>
<rect x="665" y="637" width="1" height="41" fill="#c0c0c0"/>
<rect x="669" y="635" width="1" height="43" fill="#c0c0c0"/>
<rect x="673" y="637" width="1" height="41" fill="#c0c0c0"/>
<rect x="677" y="638" width="1" height="40" fill="#c0c0c0"/>
<rect x="681" y="641" width="1" height="37" fill="#c0c0c0"/>
<rect x="685" y="641" width="1" height="37" fill="#c0c0c0"/>
<rect x="689" y="644" width="1" height="34" fill="#c0c0c0"/>
<rect x="693" y="644" width="1" height="34" fill="#c0c0c0"/>
<rect x="697" y="647" width="1" height="31" fill="#c0c0c0"/>
<rect x="701" y="648" width="1" height="30" fill="#c0c0c0"/>
<rect x="705" y="649" width="1" height="29" fill="#c0c0c0"/>
<rect x="709" y="650" width="1" height="28" fill="#c0c0c0"/>
<rect x="713" y="656" width="1" height="22" fill="#c0c0c0"/>
<rect x="717" y="660" width="1" height="18" fill="#c0c0c0"/>
<rect x="721" y="664" width="1" height="14" fill="#c0c0c0"/>
<rect x="725" y="669" width="1" height="9" fill="#c0c0c0"/>
<rect x="729" y="672" width="1" height="6" fill="#c0c0c0"/>
<rect x="733" y="674" width="1" height="4" fill="#c0c0c0"/>
<rect x="737" y="677" width="1" height="1" fill="#c0c0c0"/>
<rect x="741" y="676" width="1" height="2" fill="#c0c0c0"/>
<rect x="745" y="675" width="1" height="3" fill="#c0c0c0"/>
<rect x="749" y="674" width="1" height="4" fill="#c0c0c0"/>
<rect x="753" y="674" width="1" height="4" fill="#c0c0c0"/>
<rect x="757" y="673" width="1" height="5" fill="#c0c0c0"/>
<rect x="761" y="671" width="1" height="7" fill="#c0c0c0"/>
<rect x="765" y="670" width="1" height="8" fill="#c0c0c0"/>
<rect x="769" y="670" width="1" height="8" fill="#c0c0c0"/>
<rect x="773" y="669" width="1" height="9" fill="#c0c0c0"/>
<rect x="777" y="669" width="1" height="9" fill="#c0c0c0"/>
<rect x="781" y="669" width="1" height="9" fill="#c0c0c0"/>
<rect x="785" y="670" width="1" height="8" fill="#c0c0c0"/>
<rect x="789" y="671" width="1" height="7" fill="#c0c0c0"/>
<rect x="793" y="673" width="1" height="5" fill="#c0c0c0"/>
<rect x="797" y="668" width="1" height="10" fill="#c0c0c0"/>
<rect x="801" y="665" width="1" height="13" fill="#c0c0c0"/>
<rect x="805" y="663" width="1" height="15" fill="#c0c0c0"/>
<rect x="809" y="663" width="1" height="15" fill="#c0c0c0"/>
<rect x="813" y="662" width="1" height="16" fill="#c0c0c0"/>
<rect x="817" y="664" width="1" height="14" fill="#c0c0c0"/>
<rect x="821" y="667" width="1" height="11" fill="#c0c0c0"/>
<rect x="825" y="669" width="1" height="9" fill="#c0c0c0"/>
<rect x="829" y="669" width="1" height="9" fill="#c0c0c0"/>
<rect x="833" y="670" width="1" height="8" fill="#c0c0c0"/>
<rect x="837" y="670" width="1" height="8" fill="#c0c0c0"/>
<rect x="841" y="669" width="1" height="9" fill="#c0c0c0"/>
<rect x="845" y="667" width="1" height="11" fill="#c0c0c0"/>
<rect x="849" y="666" width="1" height="12" fill="#c0c0c0"/>
<rect x="853" y="667" width="1" height="11" fill="#c0c0c0"/>
<rect x="857" y="667" width="1" height="11" fill="#c0c0c0"/>
<rect x="861" y="669" width="1" height="9" fill="#c0c0c0"/>
<rect x="865" y="669" width="1" height="9" fill="#c0c0c0"/>
<rect x="869" y="668" width="1" height="10" fill="#c0c0c0"/>
<rect x="873" y="665" width="1" height="13" fill="#c0c0c0"/>
<rect x="877" y="664" width="1" height="14" fill="#c0c0c0"/>
<rect x="881" y="663" width="1" height="15" fill="#c0c0c0"/>
<rect x="885" y="659" width="1" height="19" fill="#c0c0c0"/>
<rect x="889" y="659" width="1" height="19" fill="#c0c0c0"/>
<rect x="893" y="658" width="1" height="20" fill="#c0c0c0"/>
<rect x="897" y="659" width="1" height="19" fill="#c0c0c0"/>
<rect x="901" y="662" width="1" height="16" fill="#c0c0c0"/>
<rect x="905" y="665" width="1" height="13" fill="#c0c0c0"/>
<rect x="909" y="668" width="1" height="10" fill="#c0c0c0"/>
<rect x="913" y="671" width="1" height="7" fill="#c0c0c0"/>
<rect x="917" y="677" width="1" height="1" fill="#c0c0c0"/>
<rect x="921" y="677" width="1" height="5" fill="#c0c0c0"/>
<rect x="925" y="677" width="1" height="9" fill="#c0c0c0"/>
<rect x="929" y="677" width="1" height="11" fill="#c0c0c0"/>
<rect x="933" y="677" width="1" height="15" fill="#c0c0c0"/>
<rect x="937" y="677" width="1" height="16" fill="#c0c0c0"/>
<rect x="941" y="677" width="1" height="16" fill="#c0c0c0"/>
<rect x="945" y="677" width="1" height="16" fill="#c0c0c0"/>
<rect x="949" y="677" width="1" height="15" fill="#c0c0c0"/>
<rect x="953" y="677" width="1" height="14" fill="#c0c0c0"/>
<rect x="957" y="677" width="1" height="13" fill="#c0c0c0"/>
<rect x="961" y="677" width="1" height="13" fill="#c0c0c0"/>
<rect x="965" y="677" width="1" height="12" fill="#c0c0c0"/>
<rect x="969" y="677" width="1" height="12" fill="#c0c0c0"/>
<rect x="973" y="677" width="1" height="13" fill="#c0c0c0"/>
<rect x="977" y="677" width="1" height="13" fill="#c0c0c0"/>
<rect x="981" y="677" width="1" height="13" fill="#c0c0c0"/>
<rect x="985" y="677" width="1" height="12" fill="#c0c0c0"/>
<rect x="989" y="677" width="1" height="10" fill="#c0c0c0"/>
<rect x="993" y="677" width="1" height="9" fill="#c0c0c0"/>
<rect x="997" y="677" width="1" height="8" fill="#c0c0c0"/>
<rect x="1001" y="677" width="1" height="8" fill="#c0c0c0"/>
<rect x="1005" y="677" width="1" height="8" fill="#c0c0c0"/>
<rect x="1009" y="677" width="1" height="9" fill="#c0c0c0"/>
<rect x="1013" y="677" width="1" height="9" fill="#c0c0c0"/>
<rect x="1017" y="677" width="1" height="9" fill="#c0c0c0"/>
<rect x="1021" y="677" width="1" height="14" fill="#c0c0c0"/>
<rect x="1025" y="677" width="1" height="17" fill="#c0c0c0"/>
<rect x="1029" y="677" width="1" height="21" fill="#c0c0c0"/>
<rect x="1033" y="677" width="1" height="24" fill="#c0c0c0"/>
<rect x="1037" y="677" width="1" height="25" fill="#c0c0c0"/>
<rect x="1041" y="677" width="1" height="25" fill="#c0c0c0"/>
<rect x="1045" y="677" width="1" height="26" fill="#c0c0c0"/>
<rect x="1049" y="677" width="1" height="26" fill="#c0c0c0"/>
<rect x="1053" y="677" width="1" height="28" fill="#c0c0c0"/>
<rect x="1057" y="677" width="1" height="27" fill="#c0c0c0"/>
<rect x="1061" y="677" width="1" height="27" fill="#c0c0c0"/>
<rect x="1065" y="677" width="1" height="26" fill="#c0c0c0"/>
<rect x="1069" y="677" width="1" height="26" fill="#c0c0c0"/>
<rect x="1073" y="677" width="1" height="26" fill="#c0c0c0"/>
<rect x="1077" y="677" width="1" height="24" fill="#c0c0c0"/>
<rect x="1081" y="677" width="1" height="23" fill="#c0c0c0"/>
<rect x="1085" y="677" width="1" height="19" fill="#c0c0c0"/>
<rect x="1089" y="677" width="1" height="16" fill="#c0c0c0"/>
<rect x="1093" y="677" width="1" height="15" fill="#c0c0c0"/>
<rect x="1097" y="677" width="1" height="15" fill="#c0c0c0"/>
<rect x="1101" y="677" width="1" height="15" fill="#c0c0c0"/>
<rect x="1105" y="677" width="1" height="12" fill="#c0c0c0"/>
<rect x="1109" y="677" width="1" height="13" fill="#c0c0c0"/>
<rect x="1113" y="677" width="1" height="14" fill="#c0c0c0"/>
<rect x="1117" y="677" width="1" height="15" fill="#c0c0c0"/>
<rect x="1121" y="677" width="1" height="16" fill="#c0c0c0"/>
<rect x="1125" y="677" width="1" height="19" fill="#c0c0c0"/>
<rect x="1129" y="677" width="1" height="21" fill="#c0c0c0"/>
<rect x="1133" y="677" width="1" height="20" fill="#c0c0c0"/>
<rect x="1137" y="677" width="1" height="19" fill="#c0c0c0"/>
<rect x="1141" y="677" width="1" height="19" fill="#c0c0c0"/>
<rect x="1145" y="677" width="1" height="21" fill="#c0c0c0"/>
<rect x="1149" y="677" width="1" height="22" fill="#c0c0c0"/>
<rect x="1153" y="677" width="1" height="23" fill="#c0c0c0"/>
<rect x="1157" y="677" width="1" height="22" fill="#c0c0c0"/>
<rect x="1161" y="677" width="1" height="23" fill="#c0c0c0"/>
<rect x="1165" y="677" width="1" height="23" fill="#c0c0c0"/>
<rect x="1169" y="677" width="1" height="25" fill="#c0c0c0"/>
<rect x="1173" y="677" width="1" height="26" fill="#c0c0c0"/>
<rect x="1177" y="677" width="1" height="27" fill="#c0c0c0"/>
<rect x="1181" y="677" width="1" height="27" fill="#c0c0c0"/>
<rect x="1185" y="677" width="1" height="27" fill="#c0c0c0"/>
<rect x="1189" y="677" width="1" height="26" fill="#c0c0c0"/>
<rect x="1193" y="677" width="1" height="27" fill="#c0c0c0"/>
<rect x="1197" y="677" width="1" height="28" fill="#c0c0c0"/>
<rect x="1201" y="677" width="1" height="29" fill="#c0c0c0"/>
<rect x="1205" y="677" width="1" height="31" fill="#c0c0c0"/>
<rect x="1209" y="677" width="1" height="32" fill="#c0c0c0"/>
<rect x="1213" y="677" width="1" height="35" fill="#c0c0c0"/>
<rect x="1217" y="677" width="1" height="38" fill="#c0c0c0"/>
<rect x="1221" y="677" width="1" height="39" fill="#c0c0c0"/>
<rect x="1225" y="677" width="1" height="38" fill="#c0c0c0"/>
<rect x="1229" y="677" width="1" height="38" fill="#c0c0c0"/>
<rect x="1233" y="677" width="1" height="37" fill="#c0c0c0"/>
<rect x="1237" y="677" width="1" height="37" fill="#c0c0c0"/>
<rect x="1241" y="677" width="1" height="35" fill="#c0c0c0"/>
<rect x="1245" y="677" width="1" height="35" fill="#c0c0c0"/>
<rect x="1249" y="677" width="1" height="34" fill="#c0c0c0"/>
<rect x="1253" y="677" width="1" height="33" fill="#c0c0c0"/>
<rect x="1257" y="677" width="1" height="32" fill="#c0c0c0"/>
<rect x="1261" y="677" width="1" height="33" fill="#c0c0c0"/>
<rect x="1265" y="677" width="1" height="35" fill="#c0c0c0"/>
<rect x="1269" y="677" width="1" height="38" fill="#c0c0c0"/>
<path d="M5 646h1v1h-1zM6 647h1v1h-1zM6 648h1v1h-1zM9 652h1v1h-1zM10 653h1v1h-1zM10 654h1v1h-1zM13 658h1v1h-1zM14 659h1v1h-1zM15 660h1v1h-1zM18 664h1v1h-1zM19 665h1v1h-1zM20 666h1v1h-1zM24 669h1v1h-1zM25 670h1v1h-1zM26 670h1v1h-1zM30 673h1v1h-1zM31 674h1v1h-1zM32 674h1v1h-1zM36 676h1v1h-1zM37 676h1v1h-1zM38 676h1v1h-1zM42 676h1v1h-1zM43 676h1v1h-1zM44 676h1v1h-1zM48 675h1v1h-1zM49 674h1v1h-1zM50 674h1v1h-1zM54 673h1v1h-1zM55 672h1v1h-1zM56 672h1v1h-1zM60 670h1v1h-1zM61 670h1v1h-1zM62 669h1v1h-1zM66 667h1v1h-1zM67 667h1v1h-1zM68 666h1v1h-1zM72 665h1v1h-1zM73 665h1v1h-1zM74 664h1v1h-1zM78 664h1v1h-1zM79 664h1v1h-1zM80 664h1v1h-1zM84 664h1v1h-1zM85 664h1v1h-1zM86 664h1v1h-1zM90 664h1v1h-1zM91 664h1v1h-1zM92 664h1v1h-1zM96 664h1v1h-1zM97 664h1v1h-1zM98 664h1v1h-1zM102 666h1v1h-1zM103 666h1v1h-1zM104 667h1v1h-1zM108 669h1v1h-1zM109 669h1v1h-1zM110 670h1v1h-1zM114 672h1v1h-1zM115 672h1v1h-1zM116 673h1v1h-1zM120 675h1v1h-1zM121 675h1v1h-1zM122 676h1v1h-1zM126 678h1v1h-1zM127 679h1v1h-1zM128 680h1v1h-1zM132 682h1v1h-1zM133 682h1v1h-1zM134 683h1v1h-1zM138 685h1v1h-1zM139 685h1v1h-1zM140 685h1v1h-1zM144 686h1v1h-1zM145 686h1v1h-1zM146 686h1v1h-1zM150 687h1v1h-1zM151 688h1v1h-1zM152 688h1v1h-1zM156 689h1v1h-1zM157 689h1v1h-1zM158 689h1v1h-1zM162 690h1v1h-1zM163 690h1v1h-1zM164 691h1v1h-1zM168 691h1v1h-1zM169 691h1v1h-1zM170 691h1v1h-1zM174 692h1v1h-1zM175 692h1v1h-1zM176 692h1v1h-1zM180 693h1v1h-1zM181 693h1v1h-1zM182 693h1v1h-1zM186 694h1v1h-1zM187 695h1v1h-1zM188 695h1v1h-1zM192 696h1v1h-1zM193 697h1v1h-1zM194 697h1v1h-1zM198 699h1v1h-1zM199 699h1v1h-1zM200 700h1v1h-1zM204 701h1v1h-1zM205 701h1v1h-1zM206 701h1v1h-1zM210 702h1v1h-1zM211 702h1v1h-1zM212 702h1v1h-1zM216 703h1v1h-1zM217 703h1v1h-1zM218 703h1v1h-1zM222 702h1v1h-1zM223 702h1v1h-1zM224 702h1v1h-1zM228 701h1v1h-1zM229 701h1v1h-1zM230 701h1v1h-1zM234 699h1v1h-1zM235 698h1v1h-1zM236 698h1v1h-1zM240 696h1v1h-1zM241 695h1v1h-1zM242 695h1v1h-1zM246 693h1v1h-1zM247 692h1v1h-1zM248 692h1v1h-1zM252 690h1v1h-1zM253 690h1v1h-1zM254 689h1v1h-1zM258 687h1v1h-1zM259 687h1v1h-1zM260 687h1v1h-1zM264 686h1v1h-1zM265 685h1v1h-1zM266 685h1v1h-1zM270 683h1v1h-1zM271 683h1v1h-1zM272 683h1v1h-1zM276 682h1v1h-1zM277 682h1v1h-1zM278 682h1v1h-1zM282 680h1v1h-1zM283 680h1v1h-1zM284 680h1v1h-1zM288 679h1v1h-1zM289 679h1v1h-1zM290 679h1v1h-1zM294 677h1v1h-1zM295 677h1v1h-1zM296 677h1v1h-1zM300 677h1v1h-1zM301 677h1v1h-1zM302 677h1v1h-1zM306 676h1v1h-1zM307 676h1v1h-1zM308 676h1v1h-1zM312 676h1v1h-1zM313 676h1v1h-1zM314 676h1v1h-1zM318 678h1v1h-1zM319 678h1v1h-1zM320 678h1v1h-1zM324 679h1v1h-1zM325 680h1v1h-1zM326 680h1v1h-1zM330 681h1v1h-1zM331 682h1v1h-1zM332 682h1v1h-1zM336 683h1v1h-1zM337 684h1v1h-1zM338 684h1v1h-1zM342 685h1v1h-1zM343 685h1v1h-1zM344 685h1v1h-1zM348 686h1v1h-1zM349 687h1v1h-1zM350 687h1v1h-1zM354 687h1v1h-1zM355 687h1v1h-1zM356 687h1v1h-1zM360 687h1v1h-1zM361 687h1v1h-1zM362 687h1v1h-1zM366 687h1v1h-1zM367 687h1v1h-1zM368 687h1v1h-1zM372 687h1v1h-1zM373 687h1v1h-1zM374 687h1v1h-1zM378 687h1v1h-1zM379 687h1v1h-1zM380 688h1v1h-1zM384 689h1v1h-1zM385 689h1v1h-1zM386 689h1v1h-1zM390 690h1v1h-1zM391 690h1v1h-1zM392 690h1v1h-1zM396 691h1v1h-1zM397 691h1v1h-1zM398 691h1v1h-1zM402 692h1v1h-1zM403 692h1v1h-1zM404 693h1v1h-1zM408 694h1v1h-1zM409 694h1v1h-1zM410 694h1v1h-1zM414 696h1v1h-1zM415 696h1v1h-1zM416 696h1v1h-1zM420 698h1v1h-1zM421 698h1v1h-1zM422 698h1v1h-1zM426 700h1v1h-1zM427 701h1v1h-1zM428 701h1v1h-1zM432 703h1v1h-1zM433 704h1v1h-1zM434 704h1v1h-1zM438 706h1v1h-1zM439 707h1v1h-1zM440 707h1v1h-1zM444 709h1v1h-1zM445 710h1v1h-1zM446 710h1v1h-1zM450 711h1v1h-1zM451 711h1v1h-1zM452 711h1v1h-1zM456 711h1v1h-1zM457 710h1v1h-1zM458 710h1v1h-1zM462 709h1v1h-1zM463 709h1v1h-1zM464 708h1v1h-1zM468 706h1v1h-1zM469 705h1v1h-1zM470 705h1v1h-1zM473 701h1v1h-1zM474 700h1v1h-1zM475 699h1v1h-1zM478 695h1v1h-1zM479 694h1v1h-1zM480 693h1v1h-1zM483 689h1v1h-1zM484 688h1v1h-1zM485 687h1v1h-1zM489 683h1v1h-1zM490 682h1v1h-1zM490 681h1v1h-1zM494 677h1v1h-1zM495 676h1v1h-1zM496 675h1v1h-1zM500 671h1v1h-1zM501 670h1v1h-1zM502 669h1v1h-1zM506 667h1v1h-1zM507 666h1v1h-1zM508 666h1v1h-1zM512 664h1v1h-1zM513 663h1v1h-1zM514 663h1v1h-1zM518 662h1v1h-1zM519 662h1v1h-1zM520 661h1v1h-1zM524 661h1v1h-1zM525 661h1v1h-1zM526 661h1v1h-1zM530 662h1v1h-1zM531 662h1v1h-1zM532 662h1v1h-1zM536 662h1v1h-1zM537 662h1v1h-1zM538 662h1v1h-1zM542 663h1v1h-1zM543 663h1v1h-1zM544 663h1v1h-1zM548 663h1v1h-1zM549 664h1v1h-1zM550 664h1v1h-1zM554 663h1v1h-1zM555 663h1v1h-1zM556 663h1v1h-1zM560 663h1v1h-1zM561 663h1v1h-1zM562 663h1v1h-1zM566 662h1v1h-1zM567 662h1v1h-1zM568 661h1v1h-1zM572 661h1v1h-1zM573 660h1v1h-1zM574 660h1v1h-1zM578 659h1v1h-1zM579 659h1v1h-1zM580 659h1v1h-1zM584 659h1v1h-1zM585 659h1v1h-1zM586 659h1v1h-1zM590 661h1v1h-1zM591 661h1v1h-1zM592 662h1v1h-1zM596 664h1v1h-1zM597 665h1v1h-1zM598 666h1v1h-1zM602 669h1v1h-1zM603 670h1v1h-1zM604 671h1v1h-1zM608 674h1v1h-1zM609 675h1v1h-1zM610 676h1v1h-1zM614 680h1v1h-1zM615 681h1v1h-1zM616 681h1v1h-1zM620 684h1v1h-1zM621 684h1v1h-1zM622 685h1v1h-1zM626 686h1v1h-1zM627 686h1v1h-1zM628 686h1v1h-1zM632 685h1v1h-1zM633 685h1v1h-1zM634 684h1v1h-1zM638 682h1v1h-1zM639 682h1v1h-1zM640 681h1v1h-1zM644 679h1v1h-1zM645 678h1v1h-1zM646 677h1v1h-1zM649 673h1v1h-1zM650 672h1v1h-1zM650 671h1v1h-1zM653 667h1v1h-1zM654 666h1v1h-1zM655 665h1v1h-1zM658 661h1v1h-1zM659 660h1v1h-1zM660 659h1v1h-1zM663 655h1v1h-1zM664 654h1v1h-1zM664 653h1v1h-1zM668 649h1v1h-1zM669 648h1v1h-1zM670 647h1v1h-1zM674 643h1v1h-1zM675 643h1v1h-1zM676 642h1v1h-1zM680 639h1v1h-1zM681 639h1v1h-1zM682 638h1v1h-1zM686 637h1v1h-1zM687 637h1v1h-1zM688 637h1v1h-1zM692 638h1v1h-1zM693 638h1v1h-1zM694 638h1v1h-1zM698 640h1v1h-1zM699 640h1v1h-1zM700 641h1v1h-1zM704 642h1v1h-1zM705 642h1v1h-1zM706 643h1v1h-1zM710 644h1v1h-1zM711 645h1v1h-1zM712 645h1v1h-1zM716 647h1v1h-1zM717 648h1v1h-1zM718 648h1v1h-1zM722 651h1v1h-1zM723 652h1v1h-1zM724 652h1v1h-1zM728 655h1v1h-1zM729 656h1v1h-1zM730 657h1v1h-1zM734 660h1v1h-1zM735 661h1v1h-1zM736 661h1v1h-1zM740 664h1v1h-1zM741 665h1v1h-1zM742 666h1v1h-1zM746 668h1v1h-1zM747 669h1v1h-1zM748 669h1v1h-1zM752 671h1v1h-1zM753 671h1v1h-1zM754 671h1v1h-1zM758 673h1v1h-1zM759 673h1v1h-1zM760 673h1v1h-1zM764 673h1v1h-1zM765 673h1v1h-1zM766 673h1v1h-1zM770 672h1v1h-1zM771 672h1v1h-1zM772 672h1v1h-1zM776 672h1v1h-1zM777 672h1v1h-1zM778 671h1v1h-1zM782 670h1v1h-1zM783 670h1v1h-1zM784 670h1v1h-1zM788 669h1v1h-1zM789 669h1v1h-1zM790 669h1v1h-1zM794 669h1v1h-1zM795 669h1v1h-1zM796 669h1v1h-1zM800 668h1v1h-1zM801 668h1v1h-1zM802 668h1v1h-1zM806 667h1v1h-1zM807 667h1v1h-1zM808 667h1v1h-1zM812 666h1v1h-1zM813 666h1v1h-1zM814 666h1v1h-1zM818 665h1v1h-1zM819 665h1v1h-1zM820 665h1v1h-1zM824 665h1v1h-1zM825 665h1v1h-1zM826 665h1v1h-1zM830 665h1v1h-1zM831 665h1v1h-1zM832 665h1v1h-1zM836 665h1v1h-1zM837 665h1v1h-1zM838 665h1v1h-1zM842 666h1v1h-1zM843 666h1v1h-1zM844 666h1v1h-1zM848 667h1v1h-1zM849 667h1v1h-1zM850 667h1v1h-1zM854 667h1v1h-1zM855 667h1v1h-1zM856 667h1v1h-1zM860 667h1v1h-1zM861 667h1v1h-1zM862 667h1v1h-1zM866 667h1v1h-1zM867 667h1v1h-1zM868 667h1v1h-1zM872 666h1v1h-1zM873 666h1v1h-1zM874 666h1v1h-1zM878 666h1v1h-1zM879 665h1v1h-1zM880 665h1v1h-1zM884 664h1v1h-1zM885 664h1v1h-1zM886 664h1v1h-1zM890 663h1v1h-1zM891 663h1v1h-1zM892 663h1v1h-1zM896 662h1v1h-1zM897 661h1v1h-1zM898 661h1v1h-1zM902 661h1v1h-1zM903 660h1v1h-1zM904 660h1v1h-1zM908 661h1v1h-1zM909 661h1v1h-1zM910 661h1v1h-1zM914 662h1v1h-1zM915 663h1v1h-1zM916 663h1v1h-1zM920 665h1v1h-1zM921 666h1v1h-1zM922 667h1v1h-1zM926 669h1v1h-1zM927 670h1v1h-1zM928 671h1v1h-1zM931 674h1v1h-1zM932 675h1v1h-1zM933 676h1v1h-1zM937 679h1v1h-1zM938 680h1v1h-1zM939 681h1v1h-1zM943 684h1v1h-1zM944 685h1v1h-1zM945 685h1v1h-1zM949 688h1v1h-1zM950 688h1v1h-1zM951 688h1v1h-1zM955 689h1v1h-1zM956 690h1v1h-1zM957 690h1v1h-1zM961 691h1v1h-1zM962 691h1v1h-1zM963 691h1v1h-1zM967 691h1v1h-1zM968 691h1v1h-1zM969 691h1v1h-1zM973 690h1v1h-1zM974 690h1v1h-1zM975 690h1v1h-1zM979 690h1v1h-1zM980 690h1v1h-1zM981 690h1v1h-1zM985 689h1v1h-1zM986 689h1v1h-1zM987 689h1v1h-1zM991 689h1v1h-1zM992 689h1v1h-1zM993 689h1v1h-1zM997 688h1v1h-1zM998 688h1v1h-1zM999 688h1v1h-1zM1003 688h1v1h-1zM1004 688h1v1h-1zM1005 687h1v1h-1zM1009 687h1v1h-1zM1010 686h1v1h-1zM1011 686h1v1h-1zM1015 686h1v1h-1zM1016 686h1v1h-1zM1017 686h1v1h-1zM1021 686h1v1h-1zM1022 687h1v1h-1zM1023 687h1v1h-1zM1027 687h1v1h-1zM1028 687h1v1h-1zM1029 688h1v1h-1zM1033 690h1v1h-1zM1034 690h1v1h-1zM1035 690h1v1h-1zM1039 692h1v1h-1zM1040 692h1v1h-1zM1041 693h1v1h-1zM1045 695h1v1h-1zM1046 695h1v1h-1zM1047 696h1v1h-1zM1051 698h1v1h-1zM1052 698h1v1h-1zM1053 699h1v1h-1zM1057 701h1v1h-1zM1058 702h1v1h-1zM1059 702h1v1h-1zM1063 702h1v1h-1zM1064 702h1v1h-1zM1065 703h1v1h-1zM1069 703h1v1h-1zM1070 703h1v1h-1zM1071 703h1v1h-1zM1075 703h1v1h-1zM1076 703h1v1h-1zM1077 703h1v1h-1zM1081 702h1v1h-1zM1082 702h1v1h-1zM1083 702h1v1h-1zM1087 702h1v1h-1zM1088 701h1v1h-1zM1089 701h1v1h-1zM1093 699h1v1h-1zM1094 699h1v1h-1zM1095 699h1v1h-1zM1099 697h1v1h-1zM1100 697h1v1h-1zM1101 696h1v1h-1zM1105 695h1v1h-1zM1106 694h1v1h-1zM1107 694h1v1h-1zM1111 693h1v1h-1zM1112 692h1v1h-1zM1113 692h1v1h-1zM1117 691h1v1h-1zM1118 691h1v1h-1zM1119 691h1v1h-1zM1123 691h1v1h-1zM1124 691h1v1h-1zM1125 691h1v1h-1zM1129 692h1v1h-1zM1130 693h1v1h-1zM1131 693h1v1h-1zM1135 693h1v1h-1zM1136 693h1v1h-1zM1137 693h1v1h-1zM1141 694h1v1h-1zM1142 694h1v1h-1zM1143 694h1v1h-1zM1147 695h1v1h-1zM1148 695h1v1h-1zM1149 696h1v1h-1zM1153 697h1v1h-1zM1154 697h1v1h-1zM1155 697h1v1h-1zM1159 698h1v1h-1zM1160 698h1v1h-1zM1161 698h1v1h-1zM1165 698h1v1h-1zM1166 698h1v1h-1zM1167 698h1v1h-1zM1171 699h1v1h-1zM1172 699h1v1h-1zM1173 699h1v1h-1zM1177 700h1v1h-1zM1178 700h1v1h-1zM1179 701h1v1h-1zM1183 701h1v1h-1zM1184 701h1v1h-1zM1185 701h1v1h-1zM1189 701h1v1h-1zM1190 701h1v1h-1zM1191 701h1v1h-1zM1195 702h1v1h-1zM1196 702h1v1h-1zM1197 702h1v1h-1zM1201 703h1v1h-1zM1202 703h1v1h-1zM1203 703h1v1h-1zM1207 703h1v1h-1zM1208 703h1v1h-1zM1209 704h1v1h-1zM1213 705h1v1h-1zM1214 705h1v1h-1zM1215 706h1v1h-1zM1219 706h1v1h-1zM1220 707h1v1h-1zM1221 707h1v1h-1zM1225 709h1v1h-1zM1226 709h1v1h-1zM1227 710h1v1h-1zM1231 710h1v1h-1zM1232 711h1v1h-1zM1233 711h1v1h-1zM1237 712h1v1h-1zM1238 713h1v1h-1zM1239 713h1v1h-1zM1243 713h1v1h-1zM1244 713h1v1h-1zM1245 713h1v1h-1zM1249 713h1v1h-1zM1250 713h1v1h-1zM1251 713h1v1h-1zM1255 713h1v1h-1zM1256 713h1v1h-1zM1257 712h1v1h-1zM1261 711h1v1h-1zM1262 711h1v1h-1zM1263 711h1v1h-1zM1267 711h1v1h-1z" fill="#ff0000"/>
<rect x="4" y="628" width="1594" height="1" fill="#000000"/>
<rect x="4" y="720" width="1594" height="1" fill="#000000"/>
<rect x="4" y="628" width="1" height="93" fill="#000000"/>
<rect x="1597" y="628" width="1" height="93" fill="#000000"/>
<rect x="1598" y="630" width="1" height="1" fill="#000000"/>
<rect x="1598" y="677" width="2" height="1" fill="#000000"/>
<rect x="1598" y="719" width="1" height="1" fill="#000000"/>
<rect x="5" y="721" width="1" height="3" fill="#000000"/>
<rect x="69" y="721" width="1" height="3" fill="#000000"/>
<rect x="133" y="721" width="1" height="3" fill="#000000"/>
<rect x="197" y="721" width="1" height="3" fill="#000000"/>
<rect x="261" y="721" width="1" height="3" fill="#000000"/>
<rect x="325" y="721" width="1" height="3" fill="#000000"/>
<rect x="389" y="721" width="1" height="3" fill="#000000"/>
<rect x="453" y="721" width="1" height="3" fill="#000000"/>
<rect x="517" y="721" width="1" height="3" fill="#000000"/>
<rect x="581" y="721" width="1" height="3" fill="#000000"/>
<rect x="645" y="721" width="1" height="3" fill="#000000"/>
<rect x="709" y="721" width="1" height="3" fill="#000000"/>
<rect x="773" y="721" width="1" height="3" fill="#000000"/>
<rect x="837" y="721" width="1" height="3" fill="#000000"/>
<rect x="901" y="721" width="1" height="3" fill="#000000"/>
<rect x="965" y="721" width="1" height="3" fill="#000000"/>
<rect x="1029" y="721" width="1" height="3" fill="#000000"/>
<rect x="1093" y="721" width="1" height="3" fill="#000000"/>
<rect x="1157" y="721" width="1" height="3" fill="#000000"/>
<rect x="1221" y="721" width="1" height="3" fill="#000000"/>
<rect x="0" y="744" width="1642" height="19" fill="#f0f0f0"/>
<rect x="0" y="744" width="1642" height="1" fill="#fbfbfb"/>
<rect x="0" y="744" width="1" height="19" fill="#a0a0a0"/>
<rect x="1" y="744" width="1" height="19" fill="#707070"/>
<rect x="419" y="743" width="102" height="18" fill="#ffffff"/>
<rect x="418" y="743" width="1" height="19" fill="#000000"/>
<rect x="521" y="743" width="1" height="19" fill="#000000"/>
<rect x="418" y="761" width="104" height="1" fill="#000000"/>
<rect x="110" y="746" width="1" height="14" fill="#4a4a4a"/>
<rect x="210" y="746" width="1" height="14" fill="#4a4a4a"/>
<rect x="314" y="746" width="1" height="14" fill="#4a4a4a"/>
<rect x="626" y="746" width="1" height="14" fill="#4a4a4a"/>
<rect x="718" y="746" width="1" height="14" fill="#4a4a4a"/>
<rect x="810" y="746" width="1" height="14" fill="#4a4a4a"/>
<rect x="882" y="746" width="1" height="14" fill="#4a4a4a"/>
<rect x="962" y="746" width="1" height="14" fill="#4a4a4a"/>
<rect x="1042" y="746" width="1" height="14" fill="#4a4a4a"/>
<rect x="1122" y="746" width="1" height="14" fill="#4a4a4a"/>
<rect x="1198" y="746" width="1" height="14" fill="#4a4a4a"/>
<rect x="1270" y="746" width="1" height="14" fill="#4a4a4a"/>
<rect x="1354" y="746" width="1" height="14" fill="#4a4a4a"/>
<rect x="1434" y="746" width="1" height="14" fill="#4a4a4a"/>
<rect x="1534" y="746" width="1" height="14" fill="#4a4a4a"/>
<rect x="1606" y="746" width="1" height="14" fill="#4a4a4a"/>
<polygon points="1612,752 1616.5,747.5 1616.5,756.5" fill="#a0a0a0" shape-rendering="geometricPrecision"/>
<polygon points="1636,752 1631.5,747.5 1631.5,756.5" fill="#000" shape-rendering="geometricPrecision"/>
<g text-rendering="geometricPrecision">
<text x="44.6" y="15" font-size="10.2" fill="#3a3a3a" textLength="12.6" lengthAdjust="spacingAndGlyphs">M1</text>
<text x="72.9" y="15" font-size="10.2" fill="#3a3a3a" textLength="12.6" lengthAdjust="spacingAndGlyphs">M5</text>
<text x="98.7" y="15" font-size="10.2" fill="#3a3a3a" textLength="17.4" lengthAdjust="spacingAndGlyphs">M15</text>
<text x="126.6" y="15" font-size="10.2" fill="#3a3a3a" textLength="17.6" lengthAdjust="spacingAndGlyphs">M30</text>
<text x="157.5" y="15" font-size="10.2" fill="#3a3a3a" textLength="11.6" lengthAdjust="spacingAndGlyphs">H1</text>
<text x="184.3" y="15" font-size="10.2" fill="#3a3a3a" textLength="12.2" lengthAdjust="spacingAndGlyphs">H4</text>
<text x="213.6" y="15" font-size="10.2" fill="#3a3a3a" textLength="11.6" lengthAdjust="spacingAndGlyphs">D1</text>
<text x="241.2" y="15" font-size="10.2" fill="#3a3a3a" textLength="13.6" lengthAdjust="spacingAndGlyphs">W1</text>
<text x="267.7" y="15" font-size="10.2" fill="#3a3a3a" textLength="14.6" lengthAdjust="spacingAndGlyphs">MN</text>
<text x="1603" y="38" font-size="10" fill="#000" textLength="33" lengthAdjust="spacingAndGlyphs" stroke="#000" stroke-width="0.45">7.21220</text>
<text x="1603" y="71" font-size="10" fill="#000" textLength="33" lengthAdjust="spacingAndGlyphs" stroke="#000" stroke-width="0.45">7.18160</text>
<text x="1603" y="104" font-size="10" fill="#000" textLength="33" lengthAdjust="spacingAndGlyphs" stroke="#000" stroke-width="0.45">7.15100</text>
<text x="1603" y="137" font-size="10" fill="#000" textLength="33" lengthAdjust="spacingAndGlyphs" stroke="#000" stroke-width="0.45">7.12040</text>
<text x="1603" y="170" font-size="10" fill="#000" textLength="33" lengthAdjust="spacingAndGlyphs" stroke="#000" stroke-width="0.45">7.09070</text>
<text x="1603" y="203" font-size="10" fill="#000" textLength="33" lengthAdjust="spacingAndGlyphs" stroke="#000" stroke-width="0.45">7.06010</text>
<text x="1603" y="236" font-size="10" fill="#000" textLength="33" lengthAdjust="spacingAndGlyphs" stroke="#000" stroke-width="0.45">7.02950</text>
<text x="1603" y="269" font-size="10" fill="#000" textLength="33" lengthAdjust="spacingAndGlyphs" stroke="#000" stroke-width="0.45">6.99980</text>
<text x="1603" y="302" font-size="10" fill="#000" textLength="33" lengthAdjust="spacingAndGlyphs" stroke="#000" stroke-width="0.45">6.96920</text>
<text x="1603" y="335" font-size="10" fill="#000" textLength="33" lengthAdjust="spacingAndGlyphs" stroke="#000" stroke-width="0.45">6.93860</text>
<text x="1603" y="368" font-size="10" fill="#000" textLength="33" lengthAdjust="spacingAndGlyphs" stroke="#000" stroke-width="0.45">6.90800</text>
<text x="1603" y="401" font-size="10" fill="#000" textLength="33" lengthAdjust="spacingAndGlyphs" stroke="#000" stroke-width="0.45">6.87830</text>
<text x="1603" y="434" font-size="10" fill="#000" textLength="33" lengthAdjust="spacingAndGlyphs" stroke="#000" stroke-width="0.45">6.84770</text>
<text x="1603" y="467" font-size="10" fill="#000" textLength="33" lengthAdjust="spacingAndGlyphs" stroke="#000" stroke-width="0.45">6.81710</text>
<text x="1603" y="500" font-size="10" fill="#000" textLength="33" lengthAdjust="spacingAndGlyphs" stroke="#000" stroke-width="0.45">6.78650</text>
<text x="1603" y="533" font-size="10" fill="#000" textLength="33" lengthAdjust="spacingAndGlyphs" stroke="#000" stroke-width="0.45">6.75680</text>
<text x="1603" y="48" font-size="10" fill="#fff" textLength="33" lengthAdjust="spacingAndGlyphs" stroke="#fff" stroke-width="0.45">7.20193</text>
<text x="1603" y="159" font-size="10" fill="#fff" textLength="33" lengthAdjust="spacingAndGlyphs" stroke="#fff" stroke-width="0.45">7.10011</text>
<text x="1603" y="267" font-size="10" fill="#fff" textLength="33" lengthAdjust="spacingAndGlyphs" stroke="#fff" stroke-width="0.45">7.00029</text>
<text x="1603" y="395" font-size="10" fill="#fff" textLength="33" lengthAdjust="spacingAndGlyphs" stroke="#fff" stroke-width="0.45">6.88250</text>
<text x="1603" y="526" font-size="10" fill="#fff" textLength="33" lengthAdjust="spacingAndGlyphs" stroke="#fff" stroke-width="0.45">6.76171</text>
<text x="1603" y="506" font-size="10" fill="#fff" textLength="33" lengthAdjust="spacingAndGlyphs" stroke="#fff" stroke-width="0.45">6.78157</text>
<text x="20.5" y="39" font-size="10" fill="#000" textLength="65" lengthAdjust="spacingAndGlyphs" stroke="#000" stroke-width="0.45">USDCNH,Daily</text>
<text x="92" y="39" font-size="10" fill="#000" textLength="140.5" lengthAdjust="spacingAndGlyphs" stroke="#000" stroke-width="0.45">6.77986 6.78320 6.77533 6.78157</text>
<text x="9" y="546" font-size="10" fill="#000" textLength="68" lengthAdjust="spacingAndGlyphs" stroke="#000" stroke-width="0.45">RSI(14) 22.8488</text>
<text x="1601.2" y="545" font-size="10" fill="#000" textLength="15.0141" lengthAdjust="spacingAndGlyphs" stroke="#000" stroke-width="0.45">100</text>
<text x="1601.2" y="566" font-size="10" fill="#000" textLength="10.0094" lengthAdjust="spacingAndGlyphs" stroke="#000" stroke-width="0.45">70</text>
<text x="1601.2" y="602" font-size="10" fill="#000" textLength="10.0094" lengthAdjust="spacingAndGlyphs" stroke="#000" stroke-width="0.45">30</text>
<text x="1601.2" y="623" font-size="10" fill="#000" textLength="5.00469" lengthAdjust="spacingAndGlyphs" stroke="#000" stroke-width="0.45">0</text>
<text x="9" y="640.6" font-size="10" fill="#000" textLength="154" lengthAdjust="spacingAndGlyphs" stroke="#000" stroke-width="0.45">MACD(12,26,9) -0.033149 -0.030768</text>
<text x="1601.2" y="639" font-size="10" fill="#000" textLength="36.8656" lengthAdjust="spacingAndGlyphs" stroke="#000" stroke-width="0.45">0.042118</text>
<text x="1601.2" y="681" font-size="10" fill="#000" textLength="17.5141" lengthAdjust="spacingAndGlyphs" stroke="#000" stroke-width="0.45">0.00</text>
<text x="1601.2" y="717" font-size="10" fill="#000" textLength="40.5297" lengthAdjust="spacingAndGlyphs" stroke="#000" stroke-width="0.45">-0.038198</text>
<text x="4.6" y="733" font-size="10" fill="#000" textLength="51.0406" lengthAdjust="spacingAndGlyphs" stroke="#000" stroke-width="0.45">13 Sep 2019</text>
<text x="68.6" y="733" font-size="10" fill="#000" textLength="44.0234" lengthAdjust="spacingAndGlyphs" stroke="#000" stroke-width="0.45">2 Oct 2019</text>
<text x="132.6" y="733" font-size="10" fill="#000" textLength="49.0281" lengthAdjust="spacingAndGlyphs" stroke="#000" stroke-width="0.45">21 Oct 2019</text>
<text x="196.6" y="733" font-size="10" fill="#000" textLength="46.0281" lengthAdjust="spacingAndGlyphs" stroke="#000" stroke-width="0.45">8 Nov 2019</text>
<text x="260.6" y="733" font-size="10" fill="#000" textLength="51.0328" lengthAdjust="spacingAndGlyphs" stroke="#000" stroke-width="0.45">27 Nov 2019</text>
<text x="324.6" y="733" font-size="10" fill="#000" textLength="51.0328" lengthAdjust="spacingAndGlyphs" stroke="#000" stroke-width="0.45">16 Dec 2019</text>
<text x="388.6" y="733" font-size="10" fill="#000" textLength="44.5328" lengthAdjust="spacingAndGlyphs" stroke="#000" stroke-width="0.45">3 Jan 2020</text>
<text x="452.6" y="733" font-size="10" fill="#000" textLength="49.5375" lengthAdjust="spacingAndGlyphs" stroke="#000" stroke-width="0.45">22 Jan 2020</text>
<text x="516.6" y="733" font-size="10" fill="#000" textLength="50.5344" lengthAdjust="spacingAndGlyphs" stroke="#000" stroke-width="0.45">10 Feb 2020</text>
<text x="580.6" y="733" font-size="10" fill="#000" textLength="50.5344" lengthAdjust="spacingAndGlyphs" stroke="#000" stroke-width="0.45">28 Feb 2020</text>
<text x="644.6" y="733" font-size="10" fill="#000" textLength="50.5266" lengthAdjust="spacingAndGlyphs" stroke="#000" stroke-width="0.45">18 Mar 2020</text>
<text x="708.6" y="733" font-size="10" fill="#000" textLength="43.5312" lengthAdjust="spacingAndGlyphs" stroke="#000" stroke-width="0.45">6 Apr 2020</text>
<text x="772.6" y="733" font-size="10" fill="#000" textLength="48.5359" lengthAdjust="spacingAndGlyphs" stroke="#000" stroke-width="0.45">24 Apr 2020</text>
<text x="836.6" y="733" font-size="10" fill="#000" textLength="52.0297" lengthAdjust="spacingAndGlyphs" stroke="#000" stroke-width="0.45">13 May 2020</text>
<text x="900.6" y="733" font-size="10" fill="#000" textLength="44.5328" lengthAdjust="spacingAndGlyphs" stroke="#000" stroke-width="0.45">1 Jun 2020</text>
<text x="964.6" y="733" font-size="10" fill="#000" textLength="49.5375" lengthAdjust="spacingAndGlyphs" stroke="#000" stroke-width="0.45">19 Jun 2020</text>
<text x="1028.6" y="733" font-size="10" fill="#000" textLength="41.5281" lengthAdjust="spacingAndGlyphs" stroke="#000" stroke-width="0.45">8 Jul 2020</text>
<text x="1092.6" y="733" font-size="10" fill="#000" textLength="46.5328" lengthAdjust="spacingAndGlyphs" stroke="#000" stroke-width="0.45">27 Jul 2020</text>
<text x="1156.6" y="733" font-size="10" fill="#000" textLength="50.5438" lengthAdjust="spacingAndGlyphs" stroke="#000" stroke-width="0.45">14 Aug 2020</text>
<text x="1220.6" y="733" font-size="10" fill="#000" textLength="46.0359" lengthAdjust="spacingAndGlyphs" stroke="#000" stroke-width="0.45">2 Sep 2020</text>
<text x="18.4" y="758" font-size="12" fill="#6e6e6e" textLength="79.6" lengthAdjust="spacingAndGlyphs">EURUSD,Daily</text>
<text x="120.2" y="758" font-size="12" fill="#6e6e6e" textLength="78.8" lengthAdjust="spacingAndGlyphs">USDCHF,Daily</text>
<text x="221.2" y="758" font-size="12" fill="#6e6e6e" textLength="81.8" lengthAdjust="spacingAndGlyphs">AUDUSD,Daily</text>
<text x="325.3" y="758" font-size="12" fill="#6e6e6e" textLength="80.7" lengthAdjust="spacingAndGlyphs">USDCAD,Daily</text>
<text x="428.3" y="758" font-size="12" fill="#000" textLength="82.7" lengthAdjust="spacingAndGlyphs">USDCNH,Daily</text>
<text x="534" y="758" font-size="12" fill="#6e6e6e" textLength="79.8" lengthAdjust="spacingAndGlyphs">EURUSD,Daily</text>
<text x="638" y="758" font-size="12" fill="#6e6e6e" textLength="67.9" lengthAdjust="spacingAndGlyphs">GBPUSD,H4</text>
<text x="728.9" y="758" font-size="12" fill="#6e6e6e" textLength="69.1" lengthAdjust="spacingAndGlyphs">XAUUSD,H1</text>
<text x="821" y="758" font-size="12" fill="#6e6e6e" textLength="49" lengthAdjust="spacingAndGlyphs">HK50,H1</text>
<text x="893.3" y="758" font-size="12" fill="#6e6e6e" textLength="56.3" lengthAdjust="spacingAndGlyphs">UK100,H1</text>
<text x="973.4" y="758" font-size="12" fill="#6e6e6e" textLength="56.2" lengthAdjust="spacingAndGlyphs">UK100,H1</text>
<text x="1053.4" y="758" font-size="12" fill="#6e6e6e" textLength="56.3" lengthAdjust="spacingAndGlyphs">GER30,H1</text>
<text x="1132.4" y="758" font-size="12" fill="#6e6e6e" textLength="54" lengthAdjust="spacingAndGlyphs">FRA40,H1</text>
<text x="1208.6" y="758" font-size="12" fill="#6e6e6e" textLength="49.9" lengthAdjust="spacingAndGlyphs">USOil,H4</text>
<text x="1280.3" y="758" font-size="12" fill="#6e6e6e" textLength="61.9" lengthAdjust="spacingAndGlyphs">USDJPY,H1</text>
<text x="1364.5" y="758" font-size="12" fill="#6e6e6e" textLength="58.3" lengthAdjust="spacingAndGlyphs">DJ30,Daily</text>
<text x="1444.5" y="758" font-size="12" fill="#6e6e6e" textLength="78" lengthAdjust="spacingAndGlyphs">CHINA300,H1</text>
<text x="1544.8" y="758" font-size="12" fill="#6e6e6e" textLength="49.2" lengthAdjust="spacingAndGlyphs">USOil,H1</text>
</g>
</svg>
</body></html>
